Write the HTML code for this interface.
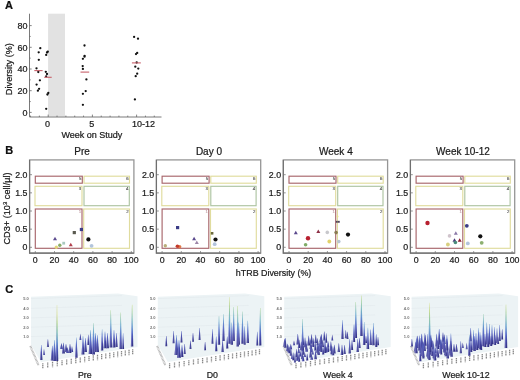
<!DOCTYPE html>
<html><head><meta charset="utf-8"><style>
html,body{margin:0;padding:0;background:#fff;width:520px;height:380px;overflow:hidden}
svg{will-change:transform}
text{font-family:"Liberation Sans", sans-serif}
</style></head><body><svg width="520" height="380" viewBox="0 0 520 380" style="display:block"><defs><linearGradient id="g1" gradientUnits="userSpaceOnUse" x1="0" y1="360.00" x2="0" y2="345.00"><stop offset="0.00" stop-color="#323282"/><stop offset="0.17" stop-color="#37388e"/><stop offset="0.33" stop-color="#3c3f9b"/><stop offset="0.50" stop-color="#4146a7"/><stop offset="0.67" stop-color="#4754b3"/><stop offset="0.83" stop-color="#4e62bf"/><stop offset="1.00" stop-color="#5472c8"/></linearGradient><linearGradient id="g2" gradientUnits="userSpaceOnUse" x1="0" y1="346.90" x2="0" y2="339.20"><stop offset="0.00" stop-color="#323282"/><stop offset="0.17" stop-color="#353588"/><stop offset="0.33" stop-color="#37388f"/><stop offset="0.50" stop-color="#3a3c95"/><stop offset="0.67" stop-color="#3c3f9b"/><stop offset="0.83" stop-color="#3f42a2"/><stop offset="1.00" stop-color="#4147a8"/></linearGradient><linearGradient id="g3" gradientUnits="userSpaceOnUse" x1="0" y1="360.50" x2="0" y2="345.70"><stop offset="0.00" stop-color="#323282"/><stop offset="0.17" stop-color="#37388e"/><stop offset="0.33" stop-color="#3c3e9a"/><stop offset="0.50" stop-color="#4146a6"/><stop offset="0.67" stop-color="#4753b2"/><stop offset="0.83" stop-color="#4d61bf"/><stop offset="1.00" stop-color="#5370c8"/></linearGradient><linearGradient id="g4" gradientUnits="userSpaceOnUse" x1="0" y1="361.00" x2="0" y2="340.00"><stop offset="0.00" stop-color="#323282"/><stop offset="0.17" stop-color="#393b93"/><stop offset="0.33" stop-color="#4044a4"/><stop offset="0.50" stop-color="#4957b6"/><stop offset="0.67" stop-color="#516bc7"/><stop offset="0.83" stop-color="#5a84ca"/><stop offset="1.00" stop-color="#629ecc"/></linearGradient><linearGradient id="g5" gradientUnits="userSpaceOnUse" x1="0" y1="361.00" x2="0" y2="305.00"><stop offset="0.00" stop-color="#323282"/><stop offset="0.17" stop-color="#4650b0"/><stop offset="0.33" stop-color="#5d8dca"/><stop offset="0.50" stop-color="#7bbeb4"/><stop offset="0.67" stop-color="#a8d27b"/><stop offset="0.83" stop-color="#d8e07e"/><stop offset="1.00" stop-color="#dce182"/></linearGradient><linearGradient id="g6" gradientUnits="userSpaceOnUse" x1="0" y1="353.40" x2="0" y2="342.80"><stop offset="0.00" stop-color="#323282"/><stop offset="0.17" stop-color="#35368b"/><stop offset="0.33" stop-color="#393b93"/><stop offset="0.50" stop-color="#3c3f9c"/><stop offset="0.67" stop-color="#4044a5"/><stop offset="0.83" stop-color="#444ead"/><stop offset="1.00" stop-color="#4958b6"/></linearGradient><linearGradient id="g7" gradientUnits="userSpaceOnUse" x1="0" y1="352.00" x2="0" y2="344.00"><stop offset="0.00" stop-color="#323282"/><stop offset="0.17" stop-color="#353589"/><stop offset="0.33" stop-color="#37398f"/><stop offset="0.50" stop-color="#3a3c96"/><stop offset="0.67" stop-color="#3c3f9c"/><stop offset="0.83" stop-color="#3f43a3"/><stop offset="1.00" stop-color="#4249a9"/></linearGradient><linearGradient id="g8" gradientUnits="userSpaceOnUse" x1="0" y1="353.00" x2="0" y2="344.00"><stop offset="0.00" stop-color="#323282"/><stop offset="0.17" stop-color="#353689"/><stop offset="0.33" stop-color="#383a91"/><stop offset="0.50" stop-color="#3b3d98"/><stop offset="0.67" stop-color="#3e419f"/><stop offset="0.83" stop-color="#4146a7"/><stop offset="1.00" stop-color="#454fae"/></linearGradient><linearGradient id="g9" gradientUnits="userSpaceOnUse" x1="0" y1="357.80" x2="0" y2="337.40"><stop offset="0.00" stop-color="#323282"/><stop offset="0.17" stop-color="#393b93"/><stop offset="0.33" stop-color="#3f43a3"/><stop offset="0.50" stop-color="#4855b4"/><stop offset="0.67" stop-color="#5068c5"/><stop offset="0.83" stop-color="#5980c9"/><stop offset="1.00" stop-color="#6199cb"/></linearGradient><linearGradient id="g10" gradientUnits="userSpaceOnUse" x1="0" y1="354.50" x2="0" y2="336.00"><stop offset="0.00" stop-color="#323282"/><stop offset="0.17" stop-color="#383a91"/><stop offset="0.33" stop-color="#3e42a0"/><stop offset="0.50" stop-color="#4550af"/><stop offset="0.67" stop-color="#4d61bf"/><stop offset="0.83" stop-color="#5575c9"/><stop offset="1.00" stop-color="#5c8bca"/></linearGradient><linearGradient id="g11" gradientUnits="userSpaceOnUse" x1="0" y1="352.00" x2="0" y2="338.00"><stop offset="0.00" stop-color="#323282"/><stop offset="0.17" stop-color="#37388d"/><stop offset="0.33" stop-color="#3b3e99"/><stop offset="0.50" stop-color="#4044a4"/><stop offset="0.67" stop-color="#4650b0"/><stop offset="0.83" stop-color="#4b5dbb"/><stop offset="1.00" stop-color="#516bc7"/></linearGradient><linearGradient id="g12" gradientUnits="userSpaceOnUse" x1="0" y1="345.00" x2="0" y2="334.70"><stop offset="0.00" stop-color="#323282"/><stop offset="0.17" stop-color="#35368a"/><stop offset="0.33" stop-color="#393b93"/><stop offset="0.50" stop-color="#3c3f9b"/><stop offset="0.67" stop-color="#3f43a4"/><stop offset="0.83" stop-color="#444cac"/><stop offset="1.00" stop-color="#4856b5"/></linearGradient><linearGradient id="g13" gradientUnits="userSpaceOnUse" x1="0" y1="354.00" x2="0" y2="330.00"><stop offset="0.00" stop-color="#323282"/><stop offset="0.17" stop-color="#3a3c96"/><stop offset="0.33" stop-color="#4249a9"/><stop offset="0.50" stop-color="#4c5fbd"/><stop offset="0.67" stop-color="#5679c9"/><stop offset="0.83" stop-color="#6096cb"/><stop offset="1.00" stop-color="#6ab3cc"/></linearGradient><linearGradient id="g14" gradientUnits="userSpaceOnUse" x1="0" y1="354.50" x2="0" y2="322.90"><stop offset="0.00" stop-color="#323282"/><stop offset="0.17" stop-color="#3c3f9c"/><stop offset="0.33" stop-color="#4957b6"/><stop offset="0.50" stop-color="#5677c9"/><stop offset="0.67" stop-color="#639ecc"/><stop offset="0.83" stop-color="#74b9be"/><stop offset="1.00" stop-color="#8ac8a0"/></linearGradient><linearGradient id="g15" gradientUnits="userSpaceOnUse" x1="0" y1="352.00" x2="0" y2="333.00"><stop offset="0.00" stop-color="#323282"/><stop offset="0.17" stop-color="#383a92"/><stop offset="0.33" stop-color="#3e42a1"/><stop offset="0.50" stop-color="#4651b1"/><stop offset="0.67" stop-color="#4e63c0"/><stop offset="0.83" stop-color="#5678c9"/><stop offset="1.00" stop-color="#5e8fca"/></linearGradient><linearGradient id="g16" gradientUnits="userSpaceOnUse" x1="0" y1="352.00" x2="0" y2="335.00"><stop offset="0.00" stop-color="#323282"/><stop offset="0.17" stop-color="#383990"/><stop offset="0.33" stop-color="#3d409e"/><stop offset="0.50" stop-color="#434cac"/><stop offset="0.67" stop-color="#4b5cba"/><stop offset="0.83" stop-color="#526cc8"/><stop offset="1.00" stop-color="#5980c9"/></linearGradient><linearGradient id="g17" gradientUnits="userSpaceOnUse" x1="0" y1="350.50" x2="0" y2="329.20"><stop offset="0.00" stop-color="#323282"/><stop offset="0.17" stop-color="#393b93"/><stop offset="0.33" stop-color="#4044a5"/><stop offset="0.50" stop-color="#4958b6"/><stop offset="0.67" stop-color="#526cc8"/><stop offset="0.83" stop-color="#5a86ca"/><stop offset="1.00" stop-color="#63a0cc"/></linearGradient><linearGradient id="g18" gradientUnits="userSpaceOnUse" x1="0" y1="348.20" x2="0" y2="331.60"><stop offset="0.00" stop-color="#323282"/><stop offset="0.17" stop-color="#373990"/><stop offset="0.33" stop-color="#3d409d"/><stop offset="0.50" stop-color="#434bab"/><stop offset="0.67" stop-color="#4a5ab8"/><stop offset="0.83" stop-color="#516ac6"/><stop offset="1.00" stop-color="#587dc9"/></linearGradient><linearGradient id="g19" gradientUnits="userSpaceOnUse" x1="0" y1="348.20" x2="0" y2="333.00"><stop offset="0.00" stop-color="#323282"/><stop offset="0.17" stop-color="#37388e"/><stop offset="0.33" stop-color="#3c3f9b"/><stop offset="0.50" stop-color="#4147a7"/><stop offset="0.67" stop-color="#4855b4"/><stop offset="0.83" stop-color="#4e63c0"/><stop offset="1.00" stop-color="#5473c8"/></linearGradient><linearGradient id="g20" gradientUnits="userSpaceOnUse" x1="0" y1="347.40" x2="0" y2="310.30"><stop offset="0.00" stop-color="#323282"/><stop offset="0.17" stop-color="#3e42a0"/><stop offset="0.33" stop-color="#4d61bf"/><stop offset="0.50" stop-color="#5c8cca"/><stop offset="0.67" stop-color="#6db5c7"/><stop offset="0.83" stop-color="#87c6a4"/><stop offset="1.00" stop-color="#a7d27d"/></linearGradient><linearGradient id="g21" gradientUnits="userSpaceOnUse" x1="0" y1="347.40" x2="0" y2="330.00"><stop offset="0.00" stop-color="#323282"/><stop offset="0.17" stop-color="#383990"/><stop offset="0.33" stop-color="#3d419e"/><stop offset="0.50" stop-color="#444dad"/><stop offset="0.67" stop-color="#4b5dbb"/><stop offset="0.83" stop-color="#536ec8"/><stop offset="1.00" stop-color="#5a83ca"/></linearGradient><linearGradient id="g22" gradientUnits="userSpaceOnUse" x1="0" y1="347.00" x2="0" y2="333.00"><stop offset="0.00" stop-color="#323282"/><stop offset="0.17" stop-color="#37388d"/><stop offset="0.33" stop-color="#3b3e99"/><stop offset="0.50" stop-color="#4044a4"/><stop offset="0.67" stop-color="#4650b0"/><stop offset="0.83" stop-color="#4b5dbb"/><stop offset="1.00" stop-color="#516bc7"/></linearGradient><linearGradient id="g23" gradientUnits="userSpaceOnUse" x1="0" y1="349.00" x2="0" y2="312.60"><stop offset="0.00" stop-color="#323282"/><stop offset="0.17" stop-color="#3e41a0"/><stop offset="0.33" stop-color="#4d60be"/><stop offset="0.50" stop-color="#5c89ca"/><stop offset="0.67" stop-color="#6bb3ca"/><stop offset="0.83" stop-color="#85c5a7"/><stop offset="1.00" stop-color="#a3d181"/></linearGradient><linearGradient id="g24" gradientUnits="userSpaceOnUse" x1="0" y1="349.00" x2="0" y2="333.20"><stop offset="0.00" stop-color="#323282"/><stop offset="0.17" stop-color="#37398f"/><stop offset="0.33" stop-color="#3c3f9c"/><stop offset="0.50" stop-color="#4248a9"/><stop offset="0.67" stop-color="#4957b6"/><stop offset="0.83" stop-color="#4f66c3"/><stop offset="1.00" stop-color="#5677c9"/></linearGradient><linearGradient id="g25" gradientUnits="userSpaceOnUse" x1="0" y1="346.60" x2="0" y2="304.70"><stop offset="0.00" stop-color="#323282"/><stop offset="0.17" stop-color="#4044a4"/><stop offset="0.33" stop-color="#516ac7"/><stop offset="0.50" stop-color="#629dcc"/><stop offset="0.67" stop-color="#7bbeb5"/><stop offset="0.83" stop-color="#9acf8b"/><stop offset="1.00" stop-color="#c1d969"/></linearGradient><linearGradient id="g26" gradientUnits="userSpaceOnUse" x1="0" y1="346.20" x2="0" y2="336.00"><stop offset="0.00" stop-color="#323282"/><stop offset="0.17" stop-color="#35368a"/><stop offset="0.33" stop-color="#393b93"/><stop offset="0.50" stop-color="#3c3f9b"/><stop offset="0.67" stop-color="#3f43a3"/><stop offset="0.83" stop-color="#434cac"/><stop offset="1.00" stop-color="#4855b4"/></linearGradient><linearGradient id="g27" gradientUnits="userSpaceOnUse" x1="0" y1="343.30" x2="0" y2="331.00"><stop offset="0.00" stop-color="#323282"/><stop offset="0.17" stop-color="#36378c"/><stop offset="0.33" stop-color="#3a3c96"/><stop offset="0.50" stop-color="#3e42a0"/><stop offset="0.67" stop-color="#434aaa"/><stop offset="0.83" stop-color="#4856b4"/><stop offset="1.00" stop-color="#4d61be"/></linearGradient><linearGradient id="g28" gradientUnits="userSpaceOnUse" x1="0" y1="355.00" x2="0" y2="335.00"><stop offset="0.00" stop-color="#323282"/><stop offset="0.17" stop-color="#393a92"/><stop offset="0.33" stop-color="#3f43a3"/><stop offset="0.50" stop-color="#4754b3"/><stop offset="0.67" stop-color="#5067c3"/><stop offset="0.83" stop-color="#587ec9"/><stop offset="1.00" stop-color="#6096cb"/></linearGradient><linearGradient id="g29" gradientUnits="userSpaceOnUse" x1="0" y1="357.80" x2="0" y2="340.00"><stop offset="0.00" stop-color="#323282"/><stop offset="0.17" stop-color="#383991"/><stop offset="0.33" stop-color="#3e419f"/><stop offset="0.50" stop-color="#444eae"/><stop offset="0.67" stop-color="#4c5fbc"/><stop offset="0.83" stop-color="#5370c8"/><stop offset="1.00" stop-color="#5b86ca"/></linearGradient><linearGradient id="g30" gradientUnits="userSpaceOnUse" x1="0" y1="342.50" x2="0" y2="331.00"><stop offset="0.00" stop-color="#323282"/><stop offset="0.17" stop-color="#36378b"/><stop offset="0.33" stop-color="#3a3c95"/><stop offset="0.50" stop-color="#3d419e"/><stop offset="0.67" stop-color="#4147a8"/><stop offset="0.83" stop-color="#4652b1"/><stop offset="1.00" stop-color="#4b5dba"/></linearGradient><linearGradient id="g31" gradientUnits="userSpaceOnUse" x1="0" y1="357.00" x2="0" y2="345.00"><stop offset="0.00" stop-color="#323282"/><stop offset="0.17" stop-color="#36378c"/><stop offset="0.33" stop-color="#3a3c96"/><stop offset="0.50" stop-color="#3e419f"/><stop offset="0.67" stop-color="#4249a9"/><stop offset="0.83" stop-color="#4754b3"/><stop offset="1.00" stop-color="#4c5fbd"/></linearGradient><linearGradient id="g32" gradientUnits="userSpaceOnUse" x1="0" y1="354.00" x2="0" y2="344.00"><stop offset="0.00" stop-color="#323282"/><stop offset="0.17" stop-color="#35368a"/><stop offset="0.33" stop-color="#393a92"/><stop offset="0.50" stop-color="#3c3f9b"/><stop offset="0.67" stop-color="#3f43a3"/><stop offset="0.83" stop-color="#434bab"/><stop offset="1.00" stop-color="#4754b3"/></linearGradient><linearGradient id="g33" gradientUnits="userSpaceOnUse" x1="0" y1="349.00" x2="0" y2="340.40"><stop offset="0.00" stop-color="#323282"/><stop offset="0.17" stop-color="#353689"/><stop offset="0.33" stop-color="#383990"/><stop offset="0.50" stop-color="#3a3d97"/><stop offset="0.67" stop-color="#3d409e"/><stop offset="0.83" stop-color="#4044a5"/><stop offset="1.00" stop-color="#444cac"/></linearGradient><linearGradient id="g34" gradientUnits="userSpaceOnUse" x1="0" y1="341.80" x2="0" y2="333.10"><stop offset="0.00" stop-color="#323282"/><stop offset="0.17" stop-color="#353689"/><stop offset="0.33" stop-color="#383990"/><stop offset="0.50" stop-color="#3b3d97"/><stop offset="0.67" stop-color="#3d419e"/><stop offset="0.83" stop-color="#4045a6"/><stop offset="1.00" stop-color="#444dad"/></linearGradient><linearGradient id="g35" gradientUnits="userSpaceOnUse" x1="0" y1="340.00" x2="0" y2="328.10"><stop offset="0.00" stop-color="#323282"/><stop offset="0.17" stop-color="#36378c"/><stop offset="0.33" stop-color="#3a3c95"/><stop offset="0.50" stop-color="#3e419f"/><stop offset="0.67" stop-color="#4249a9"/><stop offset="0.83" stop-color="#4754b3"/><stop offset="1.00" stop-color="#4c5fbc"/></linearGradient><linearGradient id="g36" gradientUnits="userSpaceOnUse" x1="0" y1="350.20" x2="0" y2="342.00"><stop offset="0.00" stop-color="#323282"/><stop offset="0.17" stop-color="#353589"/><stop offset="0.33" stop-color="#37398f"/><stop offset="0.50" stop-color="#3a3c96"/><stop offset="0.67" stop-color="#3d409d"/><stop offset="0.83" stop-color="#3f43a4"/><stop offset="1.00" stop-color="#434aaa"/></linearGradient><linearGradient id="g37" gradientUnits="userSpaceOnUse" x1="0" y1="343.80" x2="0" y2="329.00"><stop offset="0.00" stop-color="#323282"/><stop offset="0.17" stop-color="#37388e"/><stop offset="0.33" stop-color="#3c3e9a"/><stop offset="0.50" stop-color="#4146a6"/><stop offset="0.67" stop-color="#4753b2"/><stop offset="0.83" stop-color="#4d61bf"/><stop offset="1.00" stop-color="#5370c8"/></linearGradient><linearGradient id="g38" gradientUnits="userSpaceOnUse" x1="0" y1="351.20" x2="0" y2="336.40"><stop offset="0.00" stop-color="#323282"/><stop offset="0.17" stop-color="#37388e"/><stop offset="0.33" stop-color="#3c3e9a"/><stop offset="0.50" stop-color="#4146a6"/><stop offset="0.67" stop-color="#4753b2"/><stop offset="0.83" stop-color="#4d61bf"/><stop offset="1.00" stop-color="#5370c8"/></linearGradient><linearGradient id="g39" gradientUnits="userSpaceOnUse" x1="0" y1="344.70" x2="0" y2="316.00"><stop offset="0.00" stop-color="#323282"/><stop offset="0.17" stop-color="#3b3e99"/><stop offset="0.33" stop-color="#4652b1"/><stop offset="0.50" stop-color="#526dc8"/><stop offset="0.67" stop-color="#5e90cb"/><stop offset="0.83" stop-color="#6ab2cc"/><stop offset="1.00" stop-color="#7ec0b0"/></linearGradient><linearGradient id="g40" gradientUnits="userSpaceOnUse" x1="0" y1="352.00" x2="0" y2="340.00"><stop offset="0.00" stop-color="#323282"/><stop offset="0.17" stop-color="#36378c"/><stop offset="0.33" stop-color="#3a3c96"/><stop offset="0.50" stop-color="#3e419f"/><stop offset="0.67" stop-color="#4249a9"/><stop offset="0.83" stop-color="#4754b3"/><stop offset="1.00" stop-color="#4c5fbd"/></linearGradient><linearGradient id="g41" gradientUnits="userSpaceOnUse" x1="0" y1="341.00" x2="0" y2="314.00"><stop offset="0.00" stop-color="#323282"/><stop offset="0.17" stop-color="#3b3d98"/><stop offset="0.33" stop-color="#454fae"/><stop offset="0.50" stop-color="#5068c4"/><stop offset="0.67" stop-color="#5b88ca"/><stop offset="0.83" stop-color="#66a9cc"/><stop offset="1.00" stop-color="#77bbba"/></linearGradient><linearGradient id="g42" gradientUnits="userSpaceOnUse" x1="0" y1="348.40" x2="0" y2="336.40"><stop offset="0.00" stop-color="#323282"/><stop offset="0.17" stop-color="#36378c"/><stop offset="0.33" stop-color="#3a3c96"/><stop offset="0.50" stop-color="#3e419f"/><stop offset="0.67" stop-color="#4249a9"/><stop offset="0.83" stop-color="#4754b3"/><stop offset="1.00" stop-color="#4c5fbd"/></linearGradient><linearGradient id="g43" gradientUnits="userSpaceOnUse" x1="0" y1="343.80" x2="0" y2="297.00"><stop offset="0.00" stop-color="#323282"/><stop offset="0.17" stop-color="#4248a8"/><stop offset="0.33" stop-color="#5576c9"/><stop offset="0.50" stop-color="#68afcd"/><stop offset="0.67" stop-color="#88c7a2"/><stop offset="0.83" stop-color="#b2d570"/><stop offset="1.00" stop-color="#d9e07f"/></linearGradient><linearGradient id="g44" gradientUnits="userSpaceOnUse" x1="0" y1="344.70" x2="0" y2="322.60"><stop offset="0.00" stop-color="#323282"/><stop offset="0.17" stop-color="#393b94"/><stop offset="0.33" stop-color="#4145a6"/><stop offset="0.50" stop-color="#4a5ab8"/><stop offset="0.67" stop-color="#5370c8"/><stop offset="0.83" stop-color="#5c8bca"/><stop offset="1.00" stop-color="#65a6cc"/></linearGradient><linearGradient id="g45" gradientUnits="userSpaceOnUse" x1="0" y1="341.00" x2="0" y2="307.00"><stop offset="0.00" stop-color="#323282"/><stop offset="0.17" stop-color="#3d409e"/><stop offset="0.33" stop-color="#4b5cba"/><stop offset="0.50" stop-color="#5980c9"/><stop offset="0.67" stop-color="#66aacc"/><stop offset="0.83" stop-color="#7cbfb2"/><stop offset="1.00" stop-color="#95ce91"/></linearGradient><linearGradient id="g46" gradientUnits="userSpaceOnUse" x1="0" y1="346.60" x2="0" y2="306.00"><stop offset="0.00" stop-color="#323282"/><stop offset="0.17" stop-color="#3f43a3"/><stop offset="0.33" stop-color="#5068c4"/><stop offset="0.50" stop-color="#6199cb"/><stop offset="0.67" stop-color="#77bbba"/><stop offset="0.83" stop-color="#94ce92"/><stop offset="1.00" stop-color="#bbd766"/></linearGradient><linearGradient id="g47" gradientUnits="userSpaceOnUse" x1="0" y1="344.70" x2="0" y2="322.60"><stop offset="0.00" stop-color="#323282"/><stop offset="0.17" stop-color="#393b94"/><stop offset="0.33" stop-color="#4145a6"/><stop offset="0.50" stop-color="#4a5ab8"/><stop offset="0.67" stop-color="#5370c8"/><stop offset="0.83" stop-color="#5c8bca"/><stop offset="1.00" stop-color="#65a6cc"/></linearGradient><linearGradient id="g48" gradientUnits="userSpaceOnUse" x1="0" y1="343.80" x2="0" y2="311.60"><stop offset="0.00" stop-color="#323282"/><stop offset="0.17" stop-color="#3d409c"/><stop offset="0.33" stop-color="#4958b7"/><stop offset="0.50" stop-color="#567ac9"/><stop offset="0.67" stop-color="#63a1cc"/><stop offset="0.83" stop-color="#76bbbb"/><stop offset="1.00" stop-color="#8dca9c"/></linearGradient><linearGradient id="g49" gradientUnits="userSpaceOnUse" x1="0" y1="344.70" x2="0" y2="326.30"><stop offset="0.00" stop-color="#323282"/><stop offset="0.17" stop-color="#383a91"/><stop offset="0.33" stop-color="#3e41a0"/><stop offset="0.50" stop-color="#4550af"/><stop offset="0.67" stop-color="#4d61be"/><stop offset="0.83" stop-color="#5574c9"/><stop offset="1.00" stop-color="#5c8bca"/></linearGradient><linearGradient id="g50" gradientUnits="userSpaceOnUse" x1="0" y1="342.90" x2="0" y2="320.80"><stop offset="0.00" stop-color="#323282"/><stop offset="0.17" stop-color="#393b94"/><stop offset="0.33" stop-color="#4145a6"/><stop offset="0.50" stop-color="#4a5ab8"/><stop offset="0.67" stop-color="#5370c8"/><stop offset="0.83" stop-color="#5c8bca"/><stop offset="1.00" stop-color="#65a6cc"/></linearGradient><linearGradient id="g51" gradientUnits="userSpaceOnUse" x1="0" y1="345.60" x2="0" y2="331.80"><stop offset="0.00" stop-color="#323282"/><stop offset="0.17" stop-color="#37388d"/><stop offset="0.33" stop-color="#3b3e99"/><stop offset="0.50" stop-color="#4043a4"/><stop offset="0.67" stop-color="#4550af"/><stop offset="0.83" stop-color="#4b5dba"/><stop offset="1.00" stop-color="#5169c6"/></linearGradient><linearGradient id="g52" gradientUnits="userSpaceOnUse" x1="0" y1="345.60" x2="0" y2="308.00"><stop offset="0.00" stop-color="#323282"/><stop offset="0.17" stop-color="#3e42a1"/><stop offset="0.33" stop-color="#4e62c0"/><stop offset="0.50" stop-color="#5d8eca"/><stop offset="0.67" stop-color="#6fb6c5"/><stop offset="0.83" stop-color="#89c8a1"/><stop offset="1.00" stop-color="#aad379"/></linearGradient><linearGradient id="g53" gradientUnits="userSpaceOnUse" x1="0" y1="346.50" x2="0" y2="338.73"><stop offset="0.00" stop-color="#323282"/><stop offset="0.17" stop-color="#353588"/><stop offset="0.33" stop-color="#37398f"/><stop offset="0.50" stop-color="#3a3c95"/><stop offset="0.67" stop-color="#3c3f9b"/><stop offset="0.83" stop-color="#3f42a2"/><stop offset="1.00" stop-color="#4248a8"/></linearGradient><linearGradient id="g54" gradientUnits="userSpaceOnUse" x1="0" y1="344.50" x2="0" y2="334.03"><stop offset="0.00" stop-color="#323282"/><stop offset="0.17" stop-color="#35368b"/><stop offset="0.33" stop-color="#393b93"/><stop offset="0.50" stop-color="#3c3f9c"/><stop offset="0.67" stop-color="#4044a4"/><stop offset="0.83" stop-color="#444dad"/><stop offset="1.00" stop-color="#4857b5"/></linearGradient><linearGradient id="g55" gradientUnits="userSpaceOnUse" x1="0" y1="342.50" x2="0" y2="334.19"><stop offset="0.00" stop-color="#323282"/><stop offset="0.17" stop-color="#353589"/><stop offset="0.33" stop-color="#373990"/><stop offset="0.50" stop-color="#3a3c96"/><stop offset="0.67" stop-color="#3d409d"/><stop offset="0.83" stop-color="#4043a4"/><stop offset="1.00" stop-color="#434bab"/></linearGradient><linearGradient id="g56" gradientUnits="userSpaceOnUse" x1="0" y1="340.50" x2="0" y2="331.45"><stop offset="0.00" stop-color="#323282"/><stop offset="0.17" stop-color="#353689"/><stop offset="0.33" stop-color="#383a91"/><stop offset="0.50" stop-color="#3b3d98"/><stop offset="0.67" stop-color="#3e41a0"/><stop offset="0.83" stop-color="#4146a7"/><stop offset="1.00" stop-color="#454fae"/></linearGradient><linearGradient id="g57" gradientUnits="userSpaceOnUse" x1="0" y1="347.64" x2="0" y2="337.95"><stop offset="0.00" stop-color="#323282"/><stop offset="0.17" stop-color="#35368a"/><stop offset="0.33" stop-color="#383a92"/><stop offset="0.50" stop-color="#3c3e9a"/><stop offset="0.67" stop-color="#3f42a2"/><stop offset="0.83" stop-color="#4249aa"/><stop offset="1.00" stop-color="#4652b2"/></linearGradient><linearGradient id="g58" gradientUnits="userSpaceOnUse" x1="0" y1="344.98" x2="0" y2="335.67"><stop offset="0.00" stop-color="#323282"/><stop offset="0.17" stop-color="#35368a"/><stop offset="0.33" stop-color="#383a91"/><stop offset="0.50" stop-color="#3b3e99"/><stop offset="0.67" stop-color="#3e42a0"/><stop offset="0.83" stop-color="#4248a8"/><stop offset="1.00" stop-color="#4650b0"/></linearGradient><linearGradient id="g59" gradientUnits="userSpaceOnUse" x1="0" y1="342.98" x2="0" y2="334.72"><stop offset="0.00" stop-color="#323282"/><stop offset="0.17" stop-color="#353589"/><stop offset="0.33" stop-color="#373990"/><stop offset="0.50" stop-color="#3a3c96"/><stop offset="0.67" stop-color="#3d409d"/><stop offset="0.83" stop-color="#4043a4"/><stop offset="1.00" stop-color="#434aab"/></linearGradient><linearGradient id="g60" gradientUnits="userSpaceOnUse" x1="0" y1="345.45" x2="0" y2="335.79"><stop offset="0.00" stop-color="#323282"/><stop offset="0.17" stop-color="#35368a"/><stop offset="0.33" stop-color="#383a92"/><stop offset="0.50" stop-color="#3b3e9a"/><stop offset="0.67" stop-color="#3f42a2"/><stop offset="0.83" stop-color="#4249aa"/><stop offset="1.00" stop-color="#4652b1"/></linearGradient><linearGradient id="g61" gradientUnits="userSpaceOnUse" x1="0" y1="343.45" x2="0" y2="333.96"><stop offset="0.00" stop-color="#323282"/><stop offset="0.17" stop-color="#35368a"/><stop offset="0.33" stop-color="#383a92"/><stop offset="0.50" stop-color="#3b3e99"/><stop offset="0.67" stop-color="#3e42a1"/><stop offset="0.83" stop-color="#4248a9"/><stop offset="1.00" stop-color="#4651b1"/></linearGradient><linearGradient id="g62" gradientUnits="userSpaceOnUse" x1="0" y1="342.79" x2="0" y2="333.16"><stop offset="0.00" stop-color="#323282"/><stop offset="0.17" stop-color="#35368a"/><stop offset="0.33" stop-color="#383a92"/><stop offset="0.50" stop-color="#3b3e9a"/><stop offset="0.67" stop-color="#3f42a2"/><stop offset="0.83" stop-color="#4249a9"/><stop offset="1.00" stop-color="#4652b1"/></linearGradient><linearGradient id="g63" gradientUnits="userSpaceOnUse" x1="0" y1="347.93" x2="0" y2="339.74"><stop offset="0.00" stop-color="#323282"/><stop offset="0.17" stop-color="#353589"/><stop offset="0.33" stop-color="#37398f"/><stop offset="0.50" stop-color="#3a3c96"/><stop offset="0.67" stop-color="#3d409d"/><stop offset="0.83" stop-color="#3f43a4"/><stop offset="1.00" stop-color="#434aaa"/></linearGradient><linearGradient id="g64" gradientUnits="userSpaceOnUse" x1="0" y1="347.26" x2="0" y2="337.48"><stop offset="0.00" stop-color="#323282"/><stop offset="0.17" stop-color="#35368a"/><stop offset="0.33" stop-color="#383a92"/><stop offset="0.50" stop-color="#3c3e9a"/><stop offset="0.67" stop-color="#3f42a2"/><stop offset="0.83" stop-color="#434aaa"/><stop offset="1.00" stop-color="#4753b2"/></linearGradient><linearGradient id="g65" gradientUnits="userSpaceOnUse" x1="0" y1="345.26" x2="0" y2="338.31"><stop offset="0.00" stop-color="#323282"/><stop offset="0.17" stop-color="#343588"/><stop offset="0.33" stop-color="#37388d"/><stop offset="0.50" stop-color="#393b93"/><stop offset="0.67" stop-color="#3b3e99"/><stop offset="0.83" stop-color="#3d419e"/><stop offset="1.00" stop-color="#4044a4"/></linearGradient><linearGradient id="g66" gradientUnits="userSpaceOnUse" x1="0" y1="344.60" x2="0" y2="334.89"><stop offset="0.00" stop-color="#323282"/><stop offset="0.17" stop-color="#35368a"/><stop offset="0.33" stop-color="#383a92"/><stop offset="0.50" stop-color="#3c3e9a"/><stop offset="0.67" stop-color="#3f42a2"/><stop offset="0.83" stop-color="#4249aa"/><stop offset="1.00" stop-color="#4752b2"/></linearGradient><linearGradient id="g67" gradientUnits="userSpaceOnUse" x1="0" y1="351.07" x2="0" y2="343.81"><stop offset="0.00" stop-color="#323282"/><stop offset="0.17" stop-color="#343588"/><stop offset="0.33" stop-color="#37388e"/><stop offset="0.50" stop-color="#393b94"/><stop offset="0.67" stop-color="#3c3e9a"/><stop offset="0.83" stop-color="#3e41a0"/><stop offset="1.00" stop-color="#4045a6"/></linearGradient><linearGradient id="g68" gradientUnits="userSpaceOnUse" x1="0" y1="347.07" x2="0" y2="338.25"><stop offset="0.00" stop-color="#323282"/><stop offset="0.17" stop-color="#353689"/><stop offset="0.33" stop-color="#383990"/><stop offset="0.50" stop-color="#3b3d98"/><stop offset="0.67" stop-color="#3e419f"/><stop offset="0.83" stop-color="#4145a6"/><stop offset="1.00" stop-color="#444ead"/></linearGradient><linearGradient id="g69" gradientUnits="userSpaceOnUse" x1="0" y1="352.21" x2="0" y2="345.22"><stop offset="0.00" stop-color="#323282"/><stop offset="0.17" stop-color="#343588"/><stop offset="0.33" stop-color="#37388d"/><stop offset="0.50" stop-color="#393b93"/><stop offset="0.67" stop-color="#3b3e99"/><stop offset="0.83" stop-color="#3d419f"/><stop offset="1.00" stop-color="#4044a4"/></linearGradient><linearGradient id="g70" gradientUnits="userSpaceOnUse" x1="0" y1="350.21" x2="0" y2="341.95"><stop offset="0.00" stop-color="#323282"/><stop offset="0.17" stop-color="#353589"/><stop offset="0.33" stop-color="#373990"/><stop offset="0.50" stop-color="#3a3c96"/><stop offset="0.67" stop-color="#3d409d"/><stop offset="0.83" stop-color="#4043a4"/><stop offset="1.00" stop-color="#434aab"/></linearGradient><linearGradient id="g71" gradientUnits="userSpaceOnUse" x1="0" y1="349.55" x2="0" y2="340.81"><stop offset="0.00" stop-color="#323282"/><stop offset="0.17" stop-color="#353689"/><stop offset="0.33" stop-color="#383990"/><stop offset="0.50" stop-color="#3b3d97"/><stop offset="0.67" stop-color="#3d419f"/><stop offset="0.83" stop-color="#4045a6"/><stop offset="1.00" stop-color="#444dad"/></linearGradient><linearGradient id="g72" gradientUnits="userSpaceOnUse" x1="0" y1="348.88" x2="0" y2="340.32"><stop offset="0.00" stop-color="#323282"/><stop offset="0.17" stop-color="#353689"/><stop offset="0.33" stop-color="#383990"/><stop offset="0.50" stop-color="#3a3d97"/><stop offset="0.67" stop-color="#3d409e"/><stop offset="0.83" stop-color="#4044a5"/><stop offset="1.00" stop-color="#444cac"/></linearGradient><linearGradient id="g73" gradientUnits="userSpaceOnUse" x1="0" y1="346.88" x2="0" y2="340.20"><stop offset="0.00" stop-color="#323282"/><stop offset="0.17" stop-color="#343587"/><stop offset="0.33" stop-color="#36388d"/><stop offset="0.50" stop-color="#393a92"/><stop offset="0.67" stop-color="#3b3d98"/><stop offset="0.83" stop-color="#3d409d"/><stop offset="1.00" stop-color="#3f43a3"/></linearGradient><linearGradient id="g74" gradientUnits="userSpaceOnUse" x1="0" y1="353.36" x2="0" y2="346.59"><stop offset="0.00" stop-color="#323282"/><stop offset="0.17" stop-color="#343588"/><stop offset="0.33" stop-color="#36388d"/><stop offset="0.50" stop-color="#393b93"/><stop offset="0.67" stop-color="#3b3d98"/><stop offset="0.83" stop-color="#3d409e"/><stop offset="1.00" stop-color="#3f43a3"/></linearGradient><linearGradient id="g75" gradientUnits="userSpaceOnUse" x1="0" y1="350.69" x2="0" y2="343.58"><stop offset="0.00" stop-color="#323282"/><stop offset="0.17" stop-color="#343588"/><stop offset="0.33" stop-color="#37388e"/><stop offset="0.50" stop-color="#393b93"/><stop offset="0.67" stop-color="#3b3e99"/><stop offset="0.83" stop-color="#3e419f"/><stop offset="1.00" stop-color="#4044a5"/></linearGradient><linearGradient id="g76" gradientUnits="userSpaceOnUse" x1="0" y1="350.50" x2="0" y2="340.48"><stop offset="0.00" stop-color="#323282"/><stop offset="0.17" stop-color="#35368a"/><stop offset="0.33" stop-color="#393a92"/><stop offset="0.50" stop-color="#3c3f9b"/><stop offset="0.67" stop-color="#3f43a3"/><stop offset="0.83" stop-color="#434bab"/><stop offset="1.00" stop-color="#4754b3"/></linearGradient><linearGradient id="g77" gradientUnits="userSpaceOnUse" x1="0" y1="355.64" x2="0" y2="345.44"><stop offset="0.00" stop-color="#323282"/><stop offset="0.17" stop-color="#35368a"/><stop offset="0.33" stop-color="#393b93"/><stop offset="0.50" stop-color="#3c3f9b"/><stop offset="0.67" stop-color="#3f43a3"/><stop offset="0.83" stop-color="#434cac"/><stop offset="1.00" stop-color="#4855b4"/></linearGradient><linearGradient id="g78" gradientUnits="userSpaceOnUse" x1="0" y1="350.98" x2="0" y2="341.62"><stop offset="0.00" stop-color="#323282"/><stop offset="0.17" stop-color="#35368a"/><stop offset="0.33" stop-color="#383a91"/><stop offset="0.50" stop-color="#3b3e99"/><stop offset="0.67" stop-color="#3e42a1"/><stop offset="0.83" stop-color="#4248a8"/><stop offset="1.00" stop-color="#4651b0"/></linearGradient><linearGradient id="g79" gradientUnits="userSpaceOnUse" x1="0" y1="354.79" x2="0" y2="345.81"><stop offset="0.00" stop-color="#323282"/><stop offset="0.17" stop-color="#353689"/><stop offset="0.33" stop-color="#383a91"/><stop offset="0.50" stop-color="#3b3d98"/><stop offset="0.67" stop-color="#3e419f"/><stop offset="0.83" stop-color="#4146a7"/><stop offset="1.00" stop-color="#454eae"/></linearGradient><linearGradient id="g80" gradientUnits="userSpaceOnUse" x1="0" y1="352.79" x2="0" y2="342.65"><stop offset="0.00" stop-color="#323282"/><stop offset="0.17" stop-color="#35368a"/><stop offset="0.33" stop-color="#393b93"/><stop offset="0.50" stop-color="#3c3f9b"/><stop offset="0.67" stop-color="#3f43a3"/><stop offset="0.83" stop-color="#434bab"/><stop offset="1.00" stop-color="#4855b4"/></linearGradient><linearGradient id="g81" gradientUnits="userSpaceOnUse" x1="0" y1="352.12" x2="0" y2="342.45"><stop offset="0.00" stop-color="#323282"/><stop offset="0.17" stop-color="#35368a"/><stop offset="0.33" stop-color="#383a92"/><stop offset="0.50" stop-color="#3c3e9a"/><stop offset="0.67" stop-color="#3f42a2"/><stop offset="0.83" stop-color="#4249aa"/><stop offset="1.00" stop-color="#4652b2"/></linearGradient><linearGradient id="g82" gradientUnits="userSpaceOnUse" x1="0" y1="350.79" x2="0" y2="341.54"><stop offset="0.00" stop-color="#323282"/><stop offset="0.17" stop-color="#35368a"/><stop offset="0.33" stop-color="#383a91"/><stop offset="0.50" stop-color="#3b3e99"/><stop offset="0.67" stop-color="#3e42a0"/><stop offset="0.83" stop-color="#4147a8"/><stop offset="1.00" stop-color="#4550af"/></linearGradient><linearGradient id="g83" gradientUnits="userSpaceOnUse" x1="0" y1="357.26" x2="0" y2="348.99"><stop offset="0.00" stop-color="#323282"/><stop offset="0.17" stop-color="#353589"/><stop offset="0.33" stop-color="#373990"/><stop offset="0.50" stop-color="#3a3c96"/><stop offset="0.67" stop-color="#3d409d"/><stop offset="0.83" stop-color="#4043a4"/><stop offset="1.00" stop-color="#434aab"/></linearGradient><linearGradient id="g84" gradientUnits="userSpaceOnUse" x1="0" y1="353.93" x2="0" y2="343.58"><stop offset="0.00" stop-color="#323282"/><stop offset="0.17" stop-color="#35368a"/><stop offset="0.33" stop-color="#393b93"/><stop offset="0.50" stop-color="#3c3f9b"/><stop offset="0.67" stop-color="#4043a4"/><stop offset="0.83" stop-color="#444cac"/><stop offset="1.00" stop-color="#4856b5"/></linearGradient><linearGradient id="g85" gradientUnits="userSpaceOnUse" x1="0" y1="355.07" x2="0" y2="345.76"><stop offset="0.00" stop-color="#323282"/><stop offset="0.17" stop-color="#35368a"/><stop offset="0.33" stop-color="#383a91"/><stop offset="0.50" stop-color="#3b3e99"/><stop offset="0.67" stop-color="#3e42a0"/><stop offset="0.83" stop-color="#4248a8"/><stop offset="1.00" stop-color="#4650b0"/></linearGradient><linearGradient id="g86" gradientUnits="userSpaceOnUse" x1="0" y1="354.40" x2="0" y2="346.93"><stop offset="0.00" stop-color="#323282"/><stop offset="0.17" stop-color="#343588"/><stop offset="0.33" stop-color="#37388e"/><stop offset="0.50" stop-color="#393b94"/><stop offset="0.67" stop-color="#3c3f9a"/><stop offset="0.83" stop-color="#3e42a1"/><stop offset="1.00" stop-color="#4146a7"/></linearGradient><linearGradient id="g87" gradientUnits="userSpaceOnUse" x1="0" y1="360.21" x2="0" y2="352.50"><stop offset="0.00" stop-color="#323282"/><stop offset="0.17" stop-color="#353588"/><stop offset="0.33" stop-color="#37388f"/><stop offset="0.50" stop-color="#3a3c95"/><stop offset="0.67" stop-color="#3c3f9b"/><stop offset="0.83" stop-color="#3f42a2"/><stop offset="1.00" stop-color="#4147a8"/></linearGradient><linearGradient id="g88" gradientUnits="userSpaceOnUse" x1="0" y1="359.55" x2="0" y2="352.49"><stop offset="0.00" stop-color="#323282"/><stop offset="0.17" stop-color="#343588"/><stop offset="0.33" stop-color="#37388e"/><stop offset="0.50" stop-color="#393b93"/><stop offset="0.67" stop-color="#3b3e99"/><stop offset="0.83" stop-color="#3e419f"/><stop offset="1.00" stop-color="#4044a5"/></linearGradient><linearGradient id="g89" gradientUnits="userSpaceOnUse" x1="0" y1="358.88" x2="0" y2="348.99"><stop offset="0.00" stop-color="#323282"/><stop offset="0.17" stop-color="#35368a"/><stop offset="0.33" stop-color="#383a92"/><stop offset="0.50" stop-color="#3c3e9a"/><stop offset="0.67" stop-color="#3f43a2"/><stop offset="0.83" stop-color="#434aaa"/><stop offset="1.00" stop-color="#4754b3"/></linearGradient><linearGradient id="g90" gradientUnits="userSpaceOnUse" x1="0" y1="357.55" x2="0" y2="348.17"><stop offset="0.00" stop-color="#323282"/><stop offset="0.17" stop-color="#35368a"/><stop offset="0.33" stop-color="#383a91"/><stop offset="0.50" stop-color="#3b3e99"/><stop offset="0.67" stop-color="#3e42a1"/><stop offset="0.83" stop-color="#4248a8"/><stop offset="1.00" stop-color="#4651b0"/></linearGradient><linearGradient id="g91" gradientUnits="userSpaceOnUse" x1="0" y1="354.21" x2="0" y2="346.19"><stop offset="0.00" stop-color="#323282"/><stop offset="0.17" stop-color="#353589"/><stop offset="0.33" stop-color="#37398f"/><stop offset="0.50" stop-color="#3a3c96"/><stop offset="0.67" stop-color="#3d409c"/><stop offset="0.83" stop-color="#3f43a3"/><stop offset="1.00" stop-color="#4249a9"/></linearGradient><linearGradient id="g92" gradientUnits="userSpaceOnUse" x1="0" y1="355.36" x2="0" y2="346.25"><stop offset="0.00" stop-color="#323282"/><stop offset="0.17" stop-color="#353689"/><stop offset="0.33" stop-color="#383a91"/><stop offset="0.50" stop-color="#3b3e98"/><stop offset="0.67" stop-color="#3e41a0"/><stop offset="0.83" stop-color="#4147a7"/><stop offset="1.00" stop-color="#454faf"/></linearGradient><linearGradient id="g93" gradientUnits="userSpaceOnUse" x1="0" y1="362.50" x2="0" y2="353.51"><stop offset="0.00" stop-color="#323282"/><stop offset="0.17" stop-color="#353689"/><stop offset="0.33" stop-color="#383a91"/><stop offset="0.50" stop-color="#3b3d98"/><stop offset="0.67" stop-color="#3e419f"/><stop offset="0.83" stop-color="#4146a7"/><stop offset="1.00" stop-color="#454eae"/></linearGradient><linearGradient id="g94" gradientUnits="userSpaceOnUse" x1="0" y1="361.83" x2="0" y2="353.95"><stop offset="0.00" stop-color="#323282"/><stop offset="0.17" stop-color="#353588"/><stop offset="0.33" stop-color="#37398f"/><stop offset="0.50" stop-color="#3a3c95"/><stop offset="0.67" stop-color="#3c3f9c"/><stop offset="0.83" stop-color="#3f43a2"/><stop offset="1.00" stop-color="#4248a9"/></linearGradient><linearGradient id="g95" gradientUnits="userSpaceOnUse" x1="0" y1="360.50" x2="0" y2="353.80"><stop offset="0.00" stop-color="#323282"/><stop offset="0.17" stop-color="#343587"/><stop offset="0.33" stop-color="#36388d"/><stop offset="0.50" stop-color="#393a92"/><stop offset="0.67" stop-color="#3b3d98"/><stop offset="0.83" stop-color="#3d409d"/><stop offset="1.00" stop-color="#3f43a3"/></linearGradient><linearGradient id="g96" gradientUnits="userSpaceOnUse" x1="0" y1="359.17" x2="0" y2="350.18"><stop offset="0.00" stop-color="#323282"/><stop offset="0.17" stop-color="#353689"/><stop offset="0.33" stop-color="#383a91"/><stop offset="0.50" stop-color="#3b3d98"/><stop offset="0.67" stop-color="#3e419f"/><stop offset="0.83" stop-color="#4146a7"/><stop offset="1.00" stop-color="#454eae"/></linearGradient><linearGradient id="g97" gradientUnits="userSpaceOnUse" x1="0" y1="350.00" x2="0" y2="319.00"><stop offset="0.00" stop-color="#323282"/><stop offset="0.17" stop-color="#3c3f9b"/><stop offset="0.33" stop-color="#4856b5"/><stop offset="0.50" stop-color="#5575c9"/><stop offset="0.67" stop-color="#629bcb"/><stop offset="0.83" stop-color="#72b8c1"/><stop offset="1.00" stop-color="#88c7a3"/></linearGradient><linearGradient id="g98" gradientUnits="userSpaceOnUse" x1="0" y1="353.50" x2="0" y2="344.80"><stop offset="0.00" stop-color="#323282"/><stop offset="0.17" stop-color="#353689"/><stop offset="0.33" stop-color="#383990"/><stop offset="0.50" stop-color="#3b3d97"/><stop offset="0.67" stop-color="#3d419e"/><stop offset="0.83" stop-color="#4045a6"/><stop offset="1.00" stop-color="#444dad"/></linearGradient><linearGradient id="g99" gradientUnits="userSpaceOnUse" x1="0" y1="352.00" x2="0" y2="343.30"><stop offset="0.00" stop-color="#323282"/><stop offset="0.17" stop-color="#353689"/><stop offset="0.33" stop-color="#383990"/><stop offset="0.50" stop-color="#3b3d97"/><stop offset="0.67" stop-color="#3d419e"/><stop offset="0.83" stop-color="#4045a6"/><stop offset="1.00" stop-color="#444dad"/></linearGradient><linearGradient id="g100" gradientUnits="userSpaceOnUse" x1="0" y1="339.00" x2="0" y2="320.00"><stop offset="0.00" stop-color="#323282"/><stop offset="0.17" stop-color="#383a92"/><stop offset="0.33" stop-color="#3e42a1"/><stop offset="0.50" stop-color="#4651b1"/><stop offset="0.67" stop-color="#4e63c0"/><stop offset="0.83" stop-color="#5678c9"/><stop offset="1.00" stop-color="#5e8fca"/></linearGradient><linearGradient id="g101" gradientUnits="userSpaceOnUse" x1="0" y1="355.00" x2="0" y2="344.80"><stop offset="0.00" stop-color="#323282"/><stop offset="0.17" stop-color="#35368a"/><stop offset="0.33" stop-color="#393b93"/><stop offset="0.50" stop-color="#3c3f9b"/><stop offset="0.67" stop-color="#3f43a3"/><stop offset="0.83" stop-color="#434cac"/><stop offset="1.00" stop-color="#4855b4"/></linearGradient><linearGradient id="g102" gradientUnits="userSpaceOnUse" x1="0" y1="354.00" x2="0" y2="345.00"><stop offset="0.00" stop-color="#323282"/><stop offset="0.17" stop-color="#353689"/><stop offset="0.33" stop-color="#383a91"/><stop offset="0.50" stop-color="#3b3d98"/><stop offset="0.67" stop-color="#3e419f"/><stop offset="0.83" stop-color="#4146a7"/><stop offset="1.00" stop-color="#454fae"/></linearGradient><linearGradient id="g103" gradientUnits="userSpaceOnUse" x1="0" y1="338.30" x2="0" y2="330.30"><stop offset="0.00" stop-color="#323282"/><stop offset="0.17" stop-color="#353589"/><stop offset="0.33" stop-color="#37398f"/><stop offset="0.50" stop-color="#3a3c96"/><stop offset="0.67" stop-color="#3c3f9c"/><stop offset="0.83" stop-color="#3f43a3"/><stop offset="1.00" stop-color="#4249a9"/></linearGradient><linearGradient id="g104" gradientUnits="userSpaceOnUse" x1="0" y1="339.00" x2="0" y2="331.70"><stop offset="0.00" stop-color="#323282"/><stop offset="0.17" stop-color="#343588"/><stop offset="0.33" stop-color="#37388e"/><stop offset="0.50" stop-color="#393b94"/><stop offset="0.67" stop-color="#3c3e9a"/><stop offset="0.83" stop-color="#3e41a0"/><stop offset="1.00" stop-color="#4045a6"/></linearGradient><linearGradient id="g105" gradientUnits="userSpaceOnUse" x1="0" y1="353.50" x2="0" y2="339.00"><stop offset="0.00" stop-color="#323282"/><stop offset="0.17" stop-color="#37388e"/><stop offset="0.33" stop-color="#3b3e9a"/><stop offset="0.50" stop-color="#4045a6"/><stop offset="0.67" stop-color="#4652b1"/><stop offset="0.83" stop-color="#4d60bd"/><stop offset="1.00" stop-color="#536ec8"/></linearGradient><linearGradient id="g106" gradientUnits="userSpaceOnUse" x1="0" y1="341.90" x2="0" y2="324.50"><stop offset="0.00" stop-color="#323282"/><stop offset="0.17" stop-color="#383990"/><stop offset="0.33" stop-color="#3d419e"/><stop offset="0.50" stop-color="#444dad"/><stop offset="0.67" stop-color="#4b5dbb"/><stop offset="0.83" stop-color="#536ec8"/><stop offset="1.00" stop-color="#5a83ca"/></linearGradient><linearGradient id="g107" gradientUnits="userSpaceOnUse" x1="0" y1="338.00" x2="0" y2="302.00"><stop offset="0.00" stop-color="#323282"/><stop offset="0.17" stop-color="#3e419f"/><stop offset="0.33" stop-color="#4c5fbd"/><stop offset="0.50" stop-color="#5b88ca"/><stop offset="0.67" stop-color="#6ab3cc"/><stop offset="0.83" stop-color="#83c4a9"/><stop offset="1.00" stop-color="#a1d184"/></linearGradient><linearGradient id="g108" gradientUnits="userSpaceOnUse" x1="0" y1="352.00" x2="0" y2="339.00"><stop offset="0.00" stop-color="#323282"/><stop offset="0.17" stop-color="#36378d"/><stop offset="0.33" stop-color="#3b3d97"/><stop offset="0.50" stop-color="#3f42a2"/><stop offset="0.67" stop-color="#444dad"/><stop offset="0.83" stop-color="#4959b7"/><stop offset="1.00" stop-color="#4f65c2"/></linearGradient><linearGradient id="g109" gradientUnits="userSpaceOnUse" x1="0" y1="336.00" x2="0" y2="295.50"><stop offset="0.00" stop-color="#323282"/><stop offset="0.17" stop-color="#3f43a3"/><stop offset="0.33" stop-color="#5068c4"/><stop offset="0.50" stop-color="#6198cb"/><stop offset="0.67" stop-color="#77bbba"/><stop offset="0.83" stop-color="#94ce93"/><stop offset="1.00" stop-color="#bad766"/></linearGradient><linearGradient id="g110" gradientUnits="userSpaceOnUse" x1="0" y1="345.00" x2="0" y2="322.00"><stop offset="0.00" stop-color="#323282"/><stop offset="0.17" stop-color="#3a3c95"/><stop offset="0.33" stop-color="#4147a8"/><stop offset="0.50" stop-color="#4b5dba"/><stop offset="0.67" stop-color="#5574c9"/><stop offset="0.83" stop-color="#5e90cb"/><stop offset="1.00" stop-color="#67accd"/></linearGradient><linearGradient id="g111" gradientUnits="userSpaceOnUse" x1="0" y1="349.00" x2="0" y2="327.80"><stop offset="0.00" stop-color="#323282"/><stop offset="0.17" stop-color="#393b93"/><stop offset="0.33" stop-color="#4044a5"/><stop offset="0.50" stop-color="#4958b6"/><stop offset="0.67" stop-color="#526bc7"/><stop offset="0.83" stop-color="#5a85ca"/><stop offset="1.00" stop-color="#639fcc"/></linearGradient><linearGradient id="g112" gradientUnits="userSpaceOnUse" x1="0" y1="345.00" x2="0" y2="329.60"><stop offset="0.00" stop-color="#323282"/><stop offset="0.17" stop-color="#37388f"/><stop offset="0.33" stop-color="#3c3f9b"/><stop offset="0.50" stop-color="#4147a8"/><stop offset="0.67" stop-color="#4856b4"/><stop offset="0.83" stop-color="#4e64c1"/><stop offset="1.00" stop-color="#5574c9"/></linearGradient><linearGradient id="g113" gradientUnits="userSpaceOnUse" x1="0" y1="345.20" x2="0" y2="323.00"><stop offset="0.00" stop-color="#323282"/><stop offset="0.17" stop-color="#393b94"/><stop offset="0.33" stop-color="#4146a6"/><stop offset="0.50" stop-color="#4a5ab9"/><stop offset="0.67" stop-color="#5370c8"/><stop offset="0.83" stop-color="#5c8bca"/><stop offset="1.00" stop-color="#65a7cc"/></linearGradient><linearGradient id="g114" gradientUnits="userSpaceOnUse" x1="0" y1="347.00" x2="0" y2="334.20"><stop offset="0.00" stop-color="#323282"/><stop offset="0.17" stop-color="#36378c"/><stop offset="0.33" stop-color="#3a3d97"/><stop offset="0.50" stop-color="#3f42a1"/><stop offset="0.67" stop-color="#444cac"/><stop offset="0.83" stop-color="#4958b6"/><stop offset="1.00" stop-color="#4e64c1"/></linearGradient><linearGradient id="g115" gradientUnits="userSpaceOnUse" x1="0" y1="345.20" x2="0" y2="337.00"><stop offset="0.00" stop-color="#323282"/><stop offset="0.17" stop-color="#353589"/><stop offset="0.33" stop-color="#37398f"/><stop offset="0.50" stop-color="#3a3c96"/><stop offset="0.67" stop-color="#3d409d"/><stop offset="0.83" stop-color="#3f43a4"/><stop offset="1.00" stop-color="#434aaa"/></linearGradient><linearGradient id="g116" gradientUnits="userSpaceOnUse" x1="0" y1="353.00" x2="0" y2="339.00"><stop offset="0.00" stop-color="#323282"/><stop offset="0.17" stop-color="#37388d"/><stop offset="0.33" stop-color="#3b3e99"/><stop offset="0.50" stop-color="#4044a4"/><stop offset="0.67" stop-color="#4650b0"/><stop offset="0.83" stop-color="#4b5dbb"/><stop offset="1.00" stop-color="#516bc7"/></linearGradient><linearGradient id="g117" gradientUnits="userSpaceOnUse" x1="0" y1="352.00" x2="0" y2="341.00"><stop offset="0.00" stop-color="#323282"/><stop offset="0.17" stop-color="#36378b"/><stop offset="0.33" stop-color="#393b94"/><stop offset="0.50" stop-color="#3d409d"/><stop offset="0.67" stop-color="#4145a6"/><stop offset="0.83" stop-color="#454faf"/><stop offset="1.00" stop-color="#4a5ab8"/></linearGradient><linearGradient id="g118" gradientUnits="userSpaceOnUse" x1="0" y1="350.00" x2="0" y2="340.00"><stop offset="0.00" stop-color="#323282"/><stop offset="0.17" stop-color="#35368a"/><stop offset="0.33" stop-color="#393a92"/><stop offset="0.50" stop-color="#3c3f9b"/><stop offset="0.67" stop-color="#3f43a3"/><stop offset="0.83" stop-color="#434bab"/><stop offset="1.00" stop-color="#4754b3"/></linearGradient><linearGradient id="g119" gradientUnits="userSpaceOnUse" x1="0" y1="348.00" x2="0" y2="338.00"><stop offset="0.00" stop-color="#323282"/><stop offset="0.17" stop-color="#35368a"/><stop offset="0.33" stop-color="#393a92"/><stop offset="0.50" stop-color="#3c3f9b"/><stop offset="0.67" stop-color="#3f43a3"/><stop offset="0.83" stop-color="#434bab"/><stop offset="1.00" stop-color="#4754b3"/></linearGradient><linearGradient id="g120" gradientUnits="userSpaceOnUse" x1="0" y1="343.00" x2="0" y2="336.00"><stop offset="0.00" stop-color="#323282"/><stop offset="0.17" stop-color="#343588"/><stop offset="0.33" stop-color="#37388d"/><stop offset="0.50" stop-color="#393b93"/><stop offset="0.67" stop-color="#3b3e99"/><stop offset="0.83" stop-color="#3d419f"/><stop offset="1.00" stop-color="#4044a4"/></linearGradient><linearGradient id="g121" gradientUnits="userSpaceOnUse" x1="0" y1="346.50" x2="0" y2="339.07"><stop offset="0.00" stop-color="#323282"/><stop offset="0.17" stop-color="#343588"/><stop offset="0.33" stop-color="#37388e"/><stop offset="0.50" stop-color="#393b94"/><stop offset="0.67" stop-color="#3c3f9a"/><stop offset="0.83" stop-color="#3e42a0"/><stop offset="1.00" stop-color="#4146a6"/></linearGradient><linearGradient id="g122" gradientUnits="userSpaceOnUse" x1="0" y1="345.83" x2="0" y2="335.72"><stop offset="0.00" stop-color="#323282"/><stop offset="0.17" stop-color="#35368a"/><stop offset="0.33" stop-color="#393b93"/><stop offset="0.50" stop-color="#3c3f9b"/><stop offset="0.67" stop-color="#3f43a3"/><stop offset="0.83" stop-color="#434bab"/><stop offset="1.00" stop-color="#4855b4"/></linearGradient><linearGradient id="g123" gradientUnits="userSpaceOnUse" x1="0" y1="344.50" x2="0" y2="333.17"><stop offset="0.00" stop-color="#323282"/><stop offset="0.17" stop-color="#36378b"/><stop offset="0.33" stop-color="#393c95"/><stop offset="0.50" stop-color="#3d409e"/><stop offset="0.67" stop-color="#4146a7"/><stop offset="0.83" stop-color="#4651b0"/><stop offset="1.00" stop-color="#4b5cba"/></linearGradient><linearGradient id="g124" gradientUnits="userSpaceOnUse" x1="0" y1="343.83" x2="0" y2="335.40"><stop offset="0.00" stop-color="#323282"/><stop offset="0.17" stop-color="#353689"/><stop offset="0.33" stop-color="#383990"/><stop offset="0.50" stop-color="#3a3d97"/><stop offset="0.67" stop-color="#3d409e"/><stop offset="0.83" stop-color="#4044a5"/><stop offset="1.00" stop-color="#434bab"/></linearGradient><linearGradient id="g125" gradientUnits="userSpaceOnUse" x1="0" y1="341.83" x2="0" y2="332.54"><stop offset="0.00" stop-color="#323282"/><stop offset="0.17" stop-color="#35368a"/><stop offset="0.33" stop-color="#383a91"/><stop offset="0.50" stop-color="#3b3e99"/><stop offset="0.67" stop-color="#3e42a0"/><stop offset="0.83" stop-color="#4247a8"/><stop offset="1.00" stop-color="#4550b0"/></linearGradient><linearGradient id="g126" gradientUnits="userSpaceOnUse" x1="0" y1="346.31" x2="0" y2="334.36"><stop offset="0.00" stop-color="#323282"/><stop offset="0.17" stop-color="#36378c"/><stop offset="0.33" stop-color="#3a3c96"/><stop offset="0.50" stop-color="#3e419f"/><stop offset="0.67" stop-color="#4249a9"/><stop offset="0.83" stop-color="#4754b3"/><stop offset="1.00" stop-color="#4c5fbd"/></linearGradient><linearGradient id="g127" gradientUnits="userSpaceOnUse" x1="0" y1="345.64" x2="0" y2="334.88"><stop offset="0.00" stop-color="#323282"/><stop offset="0.17" stop-color="#36378b"/><stop offset="0.33" stop-color="#393b94"/><stop offset="0.50" stop-color="#3d409c"/><stop offset="0.67" stop-color="#4044a5"/><stop offset="0.83" stop-color="#454eae"/><stop offset="1.00" stop-color="#4958b7"/></linearGradient><linearGradient id="g128" gradientUnits="userSpaceOnUse" x1="0" y1="343.64" x2="0" y2="328.96"><stop offset="0.00" stop-color="#323282"/><stop offset="0.17" stop-color="#37388e"/><stop offset="0.33" stop-color="#3c3e9a"/><stop offset="0.50" stop-color="#4145a6"/><stop offset="0.67" stop-color="#4753b2"/><stop offset="0.83" stop-color="#4d61be"/><stop offset="1.00" stop-color="#536fc8"/></linearGradient><linearGradient id="g129" gradientUnits="userSpaceOnUse" x1="0" y1="348.12" x2="0" y2="336.23"><stop offset="0.00" stop-color="#323282"/><stop offset="0.17" stop-color="#36378c"/><stop offset="0.33" stop-color="#3a3c95"/><stop offset="0.50" stop-color="#3e419f"/><stop offset="0.67" stop-color="#4249a9"/><stop offset="0.83" stop-color="#4754b3"/><stop offset="1.00" stop-color="#4c5fbc"/></linearGradient><linearGradient id="g130" gradientUnits="userSpaceOnUse" x1="0" y1="347.45" x2="0" y2="333.64"><stop offset="0.00" stop-color="#323282"/><stop offset="0.17" stop-color="#37388d"/><stop offset="0.33" stop-color="#3b3e99"/><stop offset="0.50" stop-color="#4043a4"/><stop offset="0.67" stop-color="#4550af"/><stop offset="0.83" stop-color="#4b5dbb"/><stop offset="1.00" stop-color="#516ac6"/></linearGradient><linearGradient id="g131" gradientUnits="userSpaceOnUse" x1="0" y1="346.12" x2="0" y2="334.81"><stop offset="0.00" stop-color="#323282"/><stop offset="0.17" stop-color="#36378b"/><stop offset="0.33" stop-color="#393c95"/><stop offset="0.50" stop-color="#3d409e"/><stop offset="0.67" stop-color="#4146a7"/><stop offset="0.83" stop-color="#4651b0"/><stop offset="1.00" stop-color="#4b5cba"/></linearGradient><linearGradient id="g132" gradientUnits="userSpaceOnUse" x1="0" y1="344.79" x2="0" y2="334.57"><stop offset="0.00" stop-color="#323282"/><stop offset="0.17" stop-color="#35368a"/><stop offset="0.33" stop-color="#393b93"/><stop offset="0.50" stop-color="#3c3f9b"/><stop offset="0.67" stop-color="#3f43a3"/><stop offset="0.83" stop-color="#444cac"/><stop offset="1.00" stop-color="#4855b4"/></linearGradient><linearGradient id="g133" gradientUnits="userSpaceOnUse" x1="0" y1="344.12" x2="0" y2="334.42"><stop offset="0.00" stop-color="#323282"/><stop offset="0.17" stop-color="#35368a"/><stop offset="0.33" stop-color="#383a92"/><stop offset="0.50" stop-color="#3c3e9a"/><stop offset="0.67" stop-color="#3f42a2"/><stop offset="0.83" stop-color="#4249aa"/><stop offset="1.00" stop-color="#4752b2"/></linearGradient><linearGradient id="g134" gradientUnits="userSpaceOnUse" x1="0" y1="348.60" x2="0" y2="341.54"><stop offset="0.00" stop-color="#323282"/><stop offset="0.17" stop-color="#343588"/><stop offset="0.33" stop-color="#37388e"/><stop offset="0.50" stop-color="#393b93"/><stop offset="0.67" stop-color="#3b3e99"/><stop offset="0.83" stop-color="#3e419f"/><stop offset="1.00" stop-color="#4044a5"/></linearGradient><linearGradient id="g135" gradientUnits="userSpaceOnUse" x1="0" y1="347.26" x2="0" y2="337.78"><stop offset="0.00" stop-color="#323282"/><stop offset="0.17" stop-color="#35368a"/><stop offset="0.33" stop-color="#383a92"/><stop offset="0.50" stop-color="#3b3e99"/><stop offset="0.67" stop-color="#3e42a1"/><stop offset="0.83" stop-color="#4248a9"/><stop offset="1.00" stop-color="#4651b1"/></linearGradient><linearGradient id="g136" gradientUnits="userSpaceOnUse" x1="0" y1="346.60" x2="0" y2="333.82"><stop offset="0.00" stop-color="#323282"/><stop offset="0.17" stop-color="#36378c"/><stop offset="0.33" stop-color="#3a3d97"/><stop offset="0.50" stop-color="#3f42a1"/><stop offset="0.67" stop-color="#444cac"/><stop offset="0.83" stop-color="#4958b6"/><stop offset="1.00" stop-color="#4e64c1"/></linearGradient><linearGradient id="g137" gradientUnits="userSpaceOnUse" x1="0" y1="351.07" x2="0" y2="341.97"><stop offset="0.00" stop-color="#323282"/><stop offset="0.17" stop-color="#353689"/><stop offset="0.33" stop-color="#383a91"/><stop offset="0.50" stop-color="#3b3d98"/><stop offset="0.67" stop-color="#3e41a0"/><stop offset="0.83" stop-color="#4147a7"/><stop offset="1.00" stop-color="#454faf"/></linearGradient><linearGradient id="g138" gradientUnits="userSpaceOnUse" x1="0" y1="350.40" x2="0" y2="335.41"><stop offset="0.00" stop-color="#323282"/><stop offset="0.17" stop-color="#37388e"/><stop offset="0.33" stop-color="#3c3f9b"/><stop offset="0.50" stop-color="#4146a7"/><stop offset="0.67" stop-color="#4754b3"/><stop offset="0.83" stop-color="#4e62bf"/><stop offset="1.00" stop-color="#5471c8"/></linearGradient><linearGradient id="g139" gradientUnits="userSpaceOnUse" x1="0" y1="349.74" x2="0" y2="341.52"><stop offset="0.00" stop-color="#323282"/><stop offset="0.17" stop-color="#353589"/><stop offset="0.33" stop-color="#37398f"/><stop offset="0.50" stop-color="#3a3c96"/><stop offset="0.67" stop-color="#3d409d"/><stop offset="0.83" stop-color="#3f43a4"/><stop offset="1.00" stop-color="#434aaa"/></linearGradient><linearGradient id="g140" gradientUnits="userSpaceOnUse" x1="0" y1="349.07" x2="0" y2="333.92"><stop offset="0.00" stop-color="#323282"/><stop offset="0.17" stop-color="#37388e"/><stop offset="0.33" stop-color="#3c3f9b"/><stop offset="0.50" stop-color="#4147a7"/><stop offset="0.67" stop-color="#4855b4"/><stop offset="0.83" stop-color="#4e63c0"/><stop offset="1.00" stop-color="#5473c8"/></linearGradient><linearGradient id="g141" gradientUnits="userSpaceOnUse" x1="0" y1="348.40" x2="0" y2="340.38"><stop offset="0.00" stop-color="#323282"/><stop offset="0.17" stop-color="#353589"/><stop offset="0.33" stop-color="#37398f"/><stop offset="0.50" stop-color="#3a3c96"/><stop offset="0.67" stop-color="#3d409c"/><stop offset="0.83" stop-color="#3f43a3"/><stop offset="1.00" stop-color="#4249a9"/></linearGradient><linearGradient id="g142" gradientUnits="userSpaceOnUse" x1="0" y1="347.74" x2="0" y2="340.36"><stop offset="0.00" stop-color="#323282"/><stop offset="0.17" stop-color="#343588"/><stop offset="0.33" stop-color="#37388e"/><stop offset="0.50" stop-color="#393b94"/><stop offset="0.67" stop-color="#3c3e9a"/><stop offset="0.83" stop-color="#3e42a0"/><stop offset="1.00" stop-color="#4145a6"/></linearGradient><linearGradient id="g143" gradientUnits="userSpaceOnUse" x1="0" y1="347.07" x2="0" y2="340.04"><stop offset="0.00" stop-color="#323282"/><stop offset="0.17" stop-color="#343588"/><stop offset="0.33" stop-color="#37388e"/><stop offset="0.50" stop-color="#393b93"/><stop offset="0.67" stop-color="#3b3e99"/><stop offset="0.83" stop-color="#3e419f"/><stop offset="1.00" stop-color="#4044a5"/></linearGradient><linearGradient id="g144" gradientUnits="userSpaceOnUse" x1="0" y1="352.21" x2="0" y2="345.35"><stop offset="0.00" stop-color="#323282"/><stop offset="0.17" stop-color="#343588"/><stop offset="0.33" stop-color="#36388d"/><stop offset="0.50" stop-color="#393b93"/><stop offset="0.67" stop-color="#3b3e98"/><stop offset="0.83" stop-color="#3d409e"/><stop offset="1.00" stop-color="#3f43a4"/></linearGradient><linearGradient id="g145" gradientUnits="userSpaceOnUse" x1="0" y1="350.88" x2="0" y2="339.62"><stop offset="0.00" stop-color="#323282"/><stop offset="0.17" stop-color="#36378b"/><stop offset="0.33" stop-color="#393b94"/><stop offset="0.50" stop-color="#3d409e"/><stop offset="0.67" stop-color="#4146a7"/><stop offset="0.83" stop-color="#4651b0"/><stop offset="1.00" stop-color="#4a5bb9"/></linearGradient><linearGradient id="g146" gradientUnits="userSpaceOnUse" x1="0" y1="349.55" x2="0" y2="340.87"><stop offset="0.00" stop-color="#323282"/><stop offset="0.17" stop-color="#353689"/><stop offset="0.33" stop-color="#383990"/><stop offset="0.50" stop-color="#3b3d97"/><stop offset="0.67" stop-color="#3d419e"/><stop offset="0.83" stop-color="#4045a6"/><stop offset="1.00" stop-color="#444dad"/></linearGradient><linearGradient id="g147" gradientUnits="userSpaceOnUse" x1="0" y1="348.88" x2="0" y2="340.14"><stop offset="0.00" stop-color="#323282"/><stop offset="0.17" stop-color="#353689"/><stop offset="0.33" stop-color="#383990"/><stop offset="0.50" stop-color="#3b3d97"/><stop offset="0.67" stop-color="#3d419f"/><stop offset="0.83" stop-color="#4045a6"/><stop offset="1.00" stop-color="#444dad"/></linearGradient><linearGradient id="g148" gradientUnits="userSpaceOnUse" x1="0" y1="348.21" x2="0" y2="341.43"><stop offset="0.00" stop-color="#323282"/><stop offset="0.17" stop-color="#343588"/><stop offset="0.33" stop-color="#36388d"/><stop offset="0.50" stop-color="#393b93"/><stop offset="0.67" stop-color="#3b3d98"/><stop offset="0.83" stop-color="#3d409e"/><stop offset="1.00" stop-color="#3f43a3"/></linearGradient><linearGradient id="g149" gradientUnits="userSpaceOnUse" x1="0" y1="347.55" x2="0" y2="338.96"><stop offset="0.00" stop-color="#323282"/><stop offset="0.17" stop-color="#353689"/><stop offset="0.33" stop-color="#383990"/><stop offset="0.50" stop-color="#3a3d97"/><stop offset="0.67" stop-color="#3d409e"/><stop offset="0.83" stop-color="#4044a5"/><stop offset="1.00" stop-color="#444cac"/></linearGradient><linearGradient id="g150" gradientUnits="userSpaceOnUse" x1="0" y1="353.36" x2="0" y2="338.50"><stop offset="0.00" stop-color="#323282"/><stop offset="0.17" stop-color="#37388e"/><stop offset="0.33" stop-color="#3c3f9a"/><stop offset="0.50" stop-color="#4146a6"/><stop offset="0.67" stop-color="#4754b3"/><stop offset="0.83" stop-color="#4d61bf"/><stop offset="1.00" stop-color="#5370c8"/></linearGradient><linearGradient id="g151" gradientUnits="userSpaceOnUse" x1="0" y1="352.69" x2="0" y2="338.08"><stop offset="0.00" stop-color="#323282"/><stop offset="0.17" stop-color="#37388e"/><stop offset="0.33" stop-color="#3c3e9a"/><stop offset="0.50" stop-color="#4045a6"/><stop offset="0.67" stop-color="#4753b2"/><stop offset="0.83" stop-color="#4d60be"/><stop offset="1.00" stop-color="#536fc8"/></linearGradient><linearGradient id="g152" gradientUnits="userSpaceOnUse" x1="0" y1="351.36" x2="0" y2="344.02"><stop offset="0.00" stop-color="#323282"/><stop offset="0.17" stop-color="#343588"/><stop offset="0.33" stop-color="#37388e"/><stop offset="0.50" stop-color="#393b94"/><stop offset="0.67" stop-color="#3c3e9a"/><stop offset="0.83" stop-color="#3e41a0"/><stop offset="1.00" stop-color="#4145a6"/></linearGradient><linearGradient id="g153" gradientUnits="userSpaceOnUse" x1="0" y1="349.36" x2="0" y2="336.94"><stop offset="0.00" stop-color="#323282"/><stop offset="0.17" stop-color="#36378c"/><stop offset="0.33" stop-color="#3a3c96"/><stop offset="0.50" stop-color="#3e42a0"/><stop offset="0.67" stop-color="#434aab"/><stop offset="0.83" stop-color="#4856b5"/><stop offset="1.00" stop-color="#4d62bf"/></linearGradient><linearGradient id="g154" gradientUnits="userSpaceOnUse" x1="0" y1="352.50" x2="0" y2="337.69"><stop offset="0.00" stop-color="#323282"/><stop offset="0.17" stop-color="#37388e"/><stop offset="0.33" stop-color="#3c3e9a"/><stop offset="0.50" stop-color="#4146a6"/><stop offset="0.67" stop-color="#4753b2"/><stop offset="0.83" stop-color="#4d61bf"/><stop offset="1.00" stop-color="#5370c8"/></linearGradient><linearGradient id="g155" gradientUnits="userSpaceOnUse" x1="0" y1="349.83" x2="0" y2="335.24"><stop offset="0.00" stop-color="#323282"/><stop offset="0.17" stop-color="#37388e"/><stop offset="0.33" stop-color="#3c3e9a"/><stop offset="0.50" stop-color="#4045a6"/><stop offset="0.67" stop-color="#4753b2"/><stop offset="0.83" stop-color="#4d60be"/><stop offset="1.00" stop-color="#536fc8"/></linearGradient><linearGradient id="g156" gradientUnits="userSpaceOnUse" x1="0" y1="354.98" x2="0" y2="346.97"><stop offset="0.00" stop-color="#323282"/><stop offset="0.17" stop-color="#353589"/><stop offset="0.33" stop-color="#37398f"/><stop offset="0.50" stop-color="#3a3c96"/><stop offset="0.67" stop-color="#3c3f9c"/><stop offset="0.83" stop-color="#3f43a3"/><stop offset="1.00" stop-color="#4249a9"/></linearGradient><linearGradient id="g157" gradientUnits="userSpaceOnUse" x1="0" y1="351.64" x2="0" y2="337.85"><stop offset="0.00" stop-color="#323282"/><stop offset="0.17" stop-color="#37388d"/><stop offset="0.33" stop-color="#3b3e99"/><stop offset="0.50" stop-color="#4043a4"/><stop offset="0.67" stop-color="#4550af"/><stop offset="0.83" stop-color="#4b5dba"/><stop offset="1.00" stop-color="#5169c6"/></linearGradient><linearGradient id="g158" gradientUnits="userSpaceOnUse" x1="0" y1="356.12" x2="0" y2="343.58"><stop offset="0.00" stop-color="#323282"/><stop offset="0.17" stop-color="#36378c"/><stop offset="0.33" stop-color="#3a3d97"/><stop offset="0.50" stop-color="#3e42a1"/><stop offset="0.67" stop-color="#434bab"/><stop offset="0.83" stop-color="#4857b5"/><stop offset="1.00" stop-color="#4e62c0"/></linearGradient><linearGradient id="g159" gradientUnits="userSpaceOnUse" x1="0" y1="354.79" x2="0" y2="343.55"><stop offset="0.00" stop-color="#323282"/><stop offset="0.17" stop-color="#36378b"/><stop offset="0.33" stop-color="#393b94"/><stop offset="0.50" stop-color="#3d409e"/><stop offset="0.67" stop-color="#4146a7"/><stop offset="0.83" stop-color="#4651b0"/><stop offset="1.00" stop-color="#4a5bb9"/></linearGradient><linearGradient id="g160" gradientUnits="userSpaceOnUse" x1="0" y1="353.45" x2="0" y2="339.17"><stop offset="0.00" stop-color="#323282"/><stop offset="0.17" stop-color="#37388e"/><stop offset="0.33" stop-color="#3b3e99"/><stop offset="0.50" stop-color="#4044a5"/><stop offset="0.67" stop-color="#4651b1"/><stop offset="0.83" stop-color="#4c5fbc"/><stop offset="1.00" stop-color="#526cc8"/></linearGradient><linearGradient id="g161" gradientUnits="userSpaceOnUse" x1="0" y1="352.79" x2="0" y2="339.38"><stop offset="0.00" stop-color="#323282"/><stop offset="0.17" stop-color="#36388d"/><stop offset="0.33" stop-color="#3b3d98"/><stop offset="0.50" stop-color="#3f43a3"/><stop offset="0.67" stop-color="#454eae"/><stop offset="0.83" stop-color="#4a5bb9"/><stop offset="1.00" stop-color="#5067c4"/></linearGradient><linearGradient id="g162" gradientUnits="userSpaceOnUse" x1="0" y1="357.26" x2="0" y2="345.87"><stop offset="0.00" stop-color="#323282"/><stop offset="0.17" stop-color="#36378b"/><stop offset="0.33" stop-color="#393c95"/><stop offset="0.50" stop-color="#3d409e"/><stop offset="0.67" stop-color="#4147a7"/><stop offset="0.83" stop-color="#4651b1"/><stop offset="1.00" stop-color="#4b5cba"/></linearGradient><linearGradient id="g163" gradientUnits="userSpaceOnUse" x1="0" y1="356.60" x2="0" y2="347.99"><stop offset="0.00" stop-color="#323282"/><stop offset="0.17" stop-color="#353689"/><stop offset="0.33" stop-color="#383990"/><stop offset="0.50" stop-color="#3a3d97"/><stop offset="0.67" stop-color="#3d409e"/><stop offset="0.83" stop-color="#4044a5"/><stop offset="1.00" stop-color="#444cac"/></linearGradient><linearGradient id="g164" gradientUnits="userSpaceOnUse" x1="0" y1="355.93" x2="0" y2="348.40"><stop offset="0.00" stop-color="#323282"/><stop offset="0.17" stop-color="#343588"/><stop offset="0.33" stop-color="#37388e"/><stop offset="0.50" stop-color="#393c94"/><stop offset="0.67" stop-color="#3c3f9b"/><stop offset="0.83" stop-color="#3e42a1"/><stop offset="1.00" stop-color="#4146a7"/></linearGradient><linearGradient id="g165" gradientUnits="userSpaceOnUse" x1="0" y1="354.60" x2="0" y2="340.37"><stop offset="0.00" stop-color="#323282"/><stop offset="0.17" stop-color="#37388e"/><stop offset="0.33" stop-color="#3b3e99"/><stop offset="0.50" stop-color="#4044a5"/><stop offset="0.67" stop-color="#4651b1"/><stop offset="0.83" stop-color="#4c5fbc"/><stop offset="1.00" stop-color="#526cc8"/></linearGradient><linearGradient id="g166" gradientUnits="userSpaceOnUse" x1="0" y1="353.26" x2="0" y2="344.04"><stop offset="0.00" stop-color="#323282"/><stop offset="0.17" stop-color="#35368a"/><stop offset="0.33" stop-color="#383a91"/><stop offset="0.50" stop-color="#3b3e99"/><stop offset="0.67" stop-color="#3e42a0"/><stop offset="0.83" stop-color="#4147a8"/><stop offset="1.00" stop-color="#4550af"/></linearGradient><linearGradient id="g167" gradientUnits="userSpaceOnUse" x1="0" y1="358.40" x2="0" y2="344.04"><stop offset="0.00" stop-color="#323282"/><stop offset="0.17" stop-color="#37388e"/><stop offset="0.33" stop-color="#3b3e9a"/><stop offset="0.50" stop-color="#4044a5"/><stop offset="0.67" stop-color="#4652b1"/><stop offset="0.83" stop-color="#4c5fbd"/><stop offset="1.00" stop-color="#526dc8"/></linearGradient><linearGradient id="g168" gradientUnits="userSpaceOnUse" x1="0" y1="357.74" x2="0" y2="348.19"><stop offset="0.00" stop-color="#323282"/><stop offset="0.17" stop-color="#35368a"/><stop offset="0.33" stop-color="#383a92"/><stop offset="0.50" stop-color="#3b3e99"/><stop offset="0.67" stop-color="#3f42a1"/><stop offset="0.83" stop-color="#4249a9"/><stop offset="1.00" stop-color="#4652b1"/></linearGradient><linearGradient id="g169" gradientUnits="userSpaceOnUse" x1="0" y1="356.40" x2="0" y2="347.10"><stop offset="0.00" stop-color="#323282"/><stop offset="0.17" stop-color="#35368a"/><stop offset="0.33" stop-color="#383a91"/><stop offset="0.50" stop-color="#3b3e99"/><stop offset="0.67" stop-color="#3e42a0"/><stop offset="0.83" stop-color="#4248a8"/><stop offset="1.00" stop-color="#4650b0"/></linearGradient><linearGradient id="g170" gradientUnits="userSpaceOnUse" x1="0" y1="355.07" x2="0" y2="347.89"><stop offset="0.00" stop-color="#323282"/><stop offset="0.17" stop-color="#343588"/><stop offset="0.33" stop-color="#37388e"/><stop offset="0.50" stop-color="#393b94"/><stop offset="0.67" stop-color="#3b3e9a"/><stop offset="0.83" stop-color="#3e419f"/><stop offset="1.00" stop-color="#4044a5"/></linearGradient><linearGradient id="g171" gradientUnits="userSpaceOnUse" x1="0" y1="354.40" x2="0" y2="341.00"><stop offset="0.00" stop-color="#323282"/><stop offset="0.17" stop-color="#36388d"/><stop offset="0.33" stop-color="#3b3d98"/><stop offset="0.50" stop-color="#3f43a3"/><stop offset="0.67" stop-color="#454eae"/><stop offset="0.83" stop-color="#4a5bb9"/><stop offset="1.00" stop-color="#5067c4"/></linearGradient><linearGradient id="g172" gradientUnits="userSpaceOnUse" x1="0" y1="358.88" x2="0" y2="344.17"><stop offset="0.00" stop-color="#323282"/><stop offset="0.17" stop-color="#37388e"/><stop offset="0.33" stop-color="#3c3e9a"/><stop offset="0.50" stop-color="#4145a6"/><stop offset="0.67" stop-color="#4753b2"/><stop offset="0.83" stop-color="#4d61be"/><stop offset="1.00" stop-color="#536fc8"/></linearGradient><linearGradient id="g173" gradientUnits="userSpaceOnUse" x1="0" y1="358.21" x2="0" y2="343.91"><stop offset="0.00" stop-color="#323282"/><stop offset="0.17" stop-color="#37388e"/><stop offset="0.33" stop-color="#3b3e99"/><stop offset="0.50" stop-color="#4044a5"/><stop offset="0.67" stop-color="#4652b1"/><stop offset="0.83" stop-color="#4c5fbd"/><stop offset="1.00" stop-color="#526cc8"/></linearGradient><linearGradient id="g174" gradientUnits="userSpaceOnUse" x1="0" y1="357.55" x2="0" y2="349.78"><stop offset="0.00" stop-color="#323282"/><stop offset="0.17" stop-color="#353588"/><stop offset="0.33" stop-color="#37398f"/><stop offset="0.50" stop-color="#3a3c95"/><stop offset="0.67" stop-color="#3c3f9b"/><stop offset="0.83" stop-color="#3f42a2"/><stop offset="1.00" stop-color="#4248a8"/></linearGradient><linearGradient id="g175" gradientUnits="userSpaceOnUse" x1="0" y1="356.21" x2="0" y2="348.97"><stop offset="0.00" stop-color="#323282"/><stop offset="0.17" stop-color="#343588"/><stop offset="0.33" stop-color="#37388e"/><stop offset="0.50" stop-color="#393b94"/><stop offset="0.67" stop-color="#3b3e9a"/><stop offset="0.83" stop-color="#3e41a0"/><stop offset="1.00" stop-color="#4045a6"/></linearGradient><linearGradient id="g176" gradientUnits="userSpaceOnUse" x1="0" y1="355.55" x2="0" y2="340.93"><stop offset="0.00" stop-color="#323282"/><stop offset="0.17" stop-color="#37388e"/><stop offset="0.33" stop-color="#3c3e9a"/><stop offset="0.50" stop-color="#4045a6"/><stop offset="0.67" stop-color="#4753b2"/><stop offset="0.83" stop-color="#4d60be"/><stop offset="1.00" stop-color="#536fc8"/></linearGradient><linearGradient id="g177" gradientUnits="userSpaceOnUse" x1="0" y1="361.36" x2="0" y2="349.27"><stop offset="0.00" stop-color="#323282"/><stop offset="0.17" stop-color="#36378c"/><stop offset="0.33" stop-color="#3a3c96"/><stop offset="0.50" stop-color="#3e41a0"/><stop offset="0.67" stop-color="#4249aa"/><stop offset="0.83" stop-color="#4755b3"/><stop offset="1.00" stop-color="#4d60bd"/></linearGradient><linearGradient id="g178" gradientUnits="userSpaceOnUse" x1="0" y1="360.02" x2="0" y2="347.64"><stop offset="0.00" stop-color="#323282"/><stop offset="0.17" stop-color="#36378c"/><stop offset="0.33" stop-color="#3a3c96"/><stop offset="0.50" stop-color="#3e42a0"/><stop offset="0.67" stop-color="#434aab"/><stop offset="0.83" stop-color="#4856b5"/><stop offset="1.00" stop-color="#4d62bf"/></linearGradient><linearGradient id="g179" gradientUnits="userSpaceOnUse" x1="0" y1="359.36" x2="0" y2="352.68"><stop offset="0.00" stop-color="#323282"/><stop offset="0.17" stop-color="#343587"/><stop offset="0.33" stop-color="#36388d"/><stop offset="0.50" stop-color="#393a92"/><stop offset="0.67" stop-color="#3b3d98"/><stop offset="0.83" stop-color="#3d409d"/><stop offset="1.00" stop-color="#3f43a3"/></linearGradient><linearGradient id="g180" gradientUnits="userSpaceOnUse" x1="0" y1="356.69" x2="0" y2="344.93"><stop offset="0.00" stop-color="#323282"/><stop offset="0.17" stop-color="#36378c"/><stop offset="0.33" stop-color="#3a3c95"/><stop offset="0.50" stop-color="#3e419f"/><stop offset="0.67" stop-color="#4248a9"/><stop offset="0.83" stop-color="#4753b2"/><stop offset="1.00" stop-color="#4c5ebc"/></linearGradient><linearGradient id="g181" gradientUnits="userSpaceOnUse" x1="0" y1="360.50" x2="0" y2="348.14"><stop offset="0.00" stop-color="#323282"/><stop offset="0.17" stop-color="#36378c"/><stop offset="0.33" stop-color="#3a3c96"/><stop offset="0.50" stop-color="#3e42a0"/><stop offset="0.67" stop-color="#434aaa"/><stop offset="0.83" stop-color="#4856b5"/><stop offset="1.00" stop-color="#4d61bf"/></linearGradient><linearGradient id="g182" gradientUnits="userSpaceOnUse" x1="0" y1="358.50" x2="0" y2="343.65"><stop offset="0.00" stop-color="#323282"/><stop offset="0.17" stop-color="#37388e"/><stop offset="0.33" stop-color="#3c3f9a"/><stop offset="0.50" stop-color="#4146a6"/><stop offset="0.67" stop-color="#4754b3"/><stop offset="0.83" stop-color="#4d61bf"/><stop offset="1.00" stop-color="#5370c8"/></linearGradient><linearGradient id="g183" gradientUnits="userSpaceOnUse" x1="0" y1="352.00" x2="0" y2="302.70"><stop offset="0.00" stop-color="#323282"/><stop offset="0.17" stop-color="#434aaa"/><stop offset="0.33" stop-color="#577cc9"/><stop offset="0.50" stop-color="#6db5c8"/><stop offset="0.67" stop-color="#8fcc98"/><stop offset="0.83" stop-color="#bdd765"/><stop offset="1.00" stop-color="#dce182"/></linearGradient><linearGradient id="g184" gradientUnits="userSpaceOnUse" x1="0" y1="350.50" x2="0" y2="338.70"><stop offset="0.00" stop-color="#323282"/><stop offset="0.17" stop-color="#36378c"/><stop offset="0.33" stop-color="#3a3c95"/><stop offset="0.50" stop-color="#3e419f"/><stop offset="0.67" stop-color="#4248a9"/><stop offset="0.83" stop-color="#4753b2"/><stop offset="1.00" stop-color="#4c5ebc"/></linearGradient><linearGradient id="g185" gradientUnits="userSpaceOnUse" x1="0" y1="350.50" x2="0" y2="333.40"><stop offset="0.00" stop-color="#323282"/><stop offset="0.17" stop-color="#383990"/><stop offset="0.33" stop-color="#3d409e"/><stop offset="0.50" stop-color="#444cac"/><stop offset="0.67" stop-color="#4b5cba"/><stop offset="0.83" stop-color="#526cc8"/><stop offset="1.00" stop-color="#5981ca"/></linearGradient><linearGradient id="g186" gradientUnits="userSpaceOnUse" x1="0" y1="351.80" x2="0" y2="344.00"><stop offset="0.00" stop-color="#323282"/><stop offset="0.17" stop-color="#353588"/><stop offset="0.33" stop-color="#37398f"/><stop offset="0.50" stop-color="#3a3c95"/><stop offset="0.67" stop-color="#3c3f9c"/><stop offset="0.83" stop-color="#3f42a2"/><stop offset="1.00" stop-color="#4248a8"/></linearGradient><linearGradient id="g187" gradientUnits="userSpaceOnUse" x1="0" y1="351.80" x2="0" y2="344.00"><stop offset="0.00" stop-color="#323282"/><stop offset="0.17" stop-color="#353588"/><stop offset="0.33" stop-color="#37398f"/><stop offset="0.50" stop-color="#3a3c95"/><stop offset="0.67" stop-color="#3c3f9c"/><stop offset="0.83" stop-color="#3f42a2"/><stop offset="1.00" stop-color="#4248a8"/></linearGradient><linearGradient id="g188" gradientUnits="userSpaceOnUse" x1="0" y1="353.20" x2="0" y2="341.30"><stop offset="0.00" stop-color="#323282"/><stop offset="0.17" stop-color="#36378c"/><stop offset="0.33" stop-color="#3a3c95"/><stop offset="0.50" stop-color="#3e419f"/><stop offset="0.67" stop-color="#4249a9"/><stop offset="0.83" stop-color="#4754b3"/><stop offset="1.00" stop-color="#4c5fbc"/></linearGradient><linearGradient id="g189" gradientUnits="userSpaceOnUse" x1="0" y1="355.80" x2="0" y2="334.70"><stop offset="0.00" stop-color="#323282"/><stop offset="0.17" stop-color="#393b93"/><stop offset="0.33" stop-color="#4044a5"/><stop offset="0.50" stop-color="#4957b6"/><stop offset="0.67" stop-color="#526bc7"/><stop offset="0.83" stop-color="#5a85ca"/><stop offset="1.00" stop-color="#639ecc"/></linearGradient><linearGradient id="g190" gradientUnits="userSpaceOnUse" x1="0" y1="341.30" x2="0" y2="328.00"><stop offset="0.00" stop-color="#323282"/><stop offset="0.17" stop-color="#36388d"/><stop offset="0.33" stop-color="#3b3d98"/><stop offset="0.50" stop-color="#3f43a3"/><stop offset="0.67" stop-color="#444eae"/><stop offset="0.83" stop-color="#4a5ab8"/><stop offset="1.00" stop-color="#5067c3"/></linearGradient><linearGradient id="g191" gradientUnits="userSpaceOnUse" x1="0" y1="350.00" x2="0" y2="330.00"><stop offset="0.00" stop-color="#323282"/><stop offset="0.17" stop-color="#393a92"/><stop offset="0.33" stop-color="#3f43a3"/><stop offset="0.50" stop-color="#4754b3"/><stop offset="0.67" stop-color="#5067c3"/><stop offset="0.83" stop-color="#587ec9"/><stop offset="1.00" stop-color="#6096cb"/></linearGradient><linearGradient id="g192" gradientUnits="userSpaceOnUse" x1="0" y1="349.00" x2="0" y2="333.00"><stop offset="0.00" stop-color="#323282"/><stop offset="0.17" stop-color="#37398f"/><stop offset="0.33" stop-color="#3c3f9c"/><stop offset="0.50" stop-color="#4249a9"/><stop offset="0.67" stop-color="#4958b6"/><stop offset="0.83" stop-color="#5067c3"/><stop offset="1.00" stop-color="#5679c9"/></linearGradient><linearGradient id="g193" gradientUnits="userSpaceOnUse" x1="0" y1="348.00" x2="0" y2="328.00"><stop offset="0.00" stop-color="#323282"/><stop offset="0.17" stop-color="#393a92"/><stop offset="0.33" stop-color="#3f43a3"/><stop offset="0.50" stop-color="#4754b3"/><stop offset="0.67" stop-color="#5067c3"/><stop offset="0.83" stop-color="#587ec9"/><stop offset="1.00" stop-color="#6096cb"/></linearGradient><linearGradient id="g194" gradientUnits="userSpaceOnUse" x1="0" y1="350.00" x2="0" y2="335.00"><stop offset="0.00" stop-color="#323282"/><stop offset="0.17" stop-color="#37388e"/><stop offset="0.33" stop-color="#3c3f9b"/><stop offset="0.50" stop-color="#4146a7"/><stop offset="0.67" stop-color="#4754b3"/><stop offset="0.83" stop-color="#4e62bf"/><stop offset="1.00" stop-color="#5472c8"/></linearGradient><linearGradient id="g195" gradientUnits="userSpaceOnUse" x1="0" y1="346.30" x2="0" y2="314.00"><stop offset="0.00" stop-color="#323282"/><stop offset="0.17" stop-color="#3d409c"/><stop offset="0.33" stop-color="#4958b7"/><stop offset="0.50" stop-color="#577ac9"/><stop offset="0.67" stop-color="#64a2cc"/><stop offset="0.83" stop-color="#76bbbb"/><stop offset="1.00" stop-color="#8dca9b"/></linearGradient><linearGradient id="g196" gradientUnits="userSpaceOnUse" x1="0" y1="344.60" x2="0" y2="322.40"><stop offset="0.00" stop-color="#323282"/><stop offset="0.17" stop-color="#393b94"/><stop offset="0.33" stop-color="#4146a6"/><stop offset="0.50" stop-color="#4a5ab9"/><stop offset="0.67" stop-color="#5370c8"/><stop offset="0.83" stop-color="#5c8bca"/><stop offset="1.00" stop-color="#65a7cc"/></linearGradient><linearGradient id="g197" gradientUnits="userSpaceOnUse" x1="0" y1="344.60" x2="0" y2="324.00"><stop offset="0.00" stop-color="#323282"/><stop offset="0.17" stop-color="#393b93"/><stop offset="0.33" stop-color="#3f43a4"/><stop offset="0.50" stop-color="#4856b5"/><stop offset="0.67" stop-color="#5169c5"/><stop offset="0.83" stop-color="#5981ca"/><stop offset="1.00" stop-color="#619bcb"/></linearGradient><linearGradient id="g198" gradientUnits="userSpaceOnUse" x1="0" y1="344.60" x2="0" y2="325.00"><stop offset="0.00" stop-color="#323282"/><stop offset="0.17" stop-color="#383a92"/><stop offset="0.33" stop-color="#3f43a2"/><stop offset="0.50" stop-color="#4753b2"/><stop offset="0.67" stop-color="#4f65c2"/><stop offset="0.83" stop-color="#577bc9"/><stop offset="1.00" stop-color="#5f93cb"/></linearGradient><linearGradient id="g199" gradientUnits="userSpaceOnUse" x1="0" y1="344.00" x2="0" y2="327.00"><stop offset="0.00" stop-color="#323282"/><stop offset="0.17" stop-color="#383990"/><stop offset="0.33" stop-color="#3d409e"/><stop offset="0.50" stop-color="#434cac"/><stop offset="0.67" stop-color="#4b5cba"/><stop offset="0.83" stop-color="#526cc8"/><stop offset="1.00" stop-color="#5980c9"/></linearGradient><linearGradient id="g200" gradientUnits="userSpaceOnUse" x1="0" y1="342.90" x2="0" y2="328.30"><stop offset="0.00" stop-color="#323282"/><stop offset="0.17" stop-color="#37388e"/><stop offset="0.33" stop-color="#3c3e9a"/><stop offset="0.50" stop-color="#4045a6"/><stop offset="0.67" stop-color="#4753b2"/><stop offset="0.83" stop-color="#4d60be"/><stop offset="1.00" stop-color="#536fc8"/></linearGradient><linearGradient id="g201" gradientUnits="userSpaceOnUse" x1="0" y1="341.00" x2="0" y2="325.00"><stop offset="0.00" stop-color="#323282"/><stop offset="0.17" stop-color="#37398f"/><stop offset="0.33" stop-color="#3c3f9c"/><stop offset="0.50" stop-color="#4249a9"/><stop offset="0.67" stop-color="#4958b6"/><stop offset="0.83" stop-color="#5067c3"/><stop offset="1.00" stop-color="#5679c9"/></linearGradient><linearGradient id="g202" gradientUnits="userSpaceOnUse" x1="0" y1="339.40" x2="0" y2="329.20"><stop offset="0.00" stop-color="#323282"/><stop offset="0.17" stop-color="#35368a"/><stop offset="0.33" stop-color="#393b93"/><stop offset="0.50" stop-color="#3c3f9b"/><stop offset="0.67" stop-color="#3f43a3"/><stop offset="0.83" stop-color="#434cac"/><stop offset="1.00" stop-color="#4855b4"/></linearGradient><linearGradient id="g203" gradientUnits="userSpaceOnUse" x1="0" y1="348.00" x2="0" y2="304.40"><stop offset="0.00" stop-color="#323282"/><stop offset="0.17" stop-color="#4045a6"/><stop offset="0.33" stop-color="#536ec8"/><stop offset="0.50" stop-color="#64a4cc"/><stop offset="0.67" stop-color="#7fc1ae"/><stop offset="0.83" stop-color="#a2d182"/><stop offset="1.00" stop-color="#c9db70"/></linearGradient><linearGradient id="g204" gradientUnits="userSpaceOnUse" x1="0" y1="352.00" x2="0" y2="338.00"><stop offset="0.00" stop-color="#323282"/><stop offset="0.17" stop-color="#37388d"/><stop offset="0.33" stop-color="#3b3e99"/><stop offset="0.50" stop-color="#4044a4"/><stop offset="0.67" stop-color="#4650b0"/><stop offset="0.83" stop-color="#4b5dbb"/><stop offset="1.00" stop-color="#516bc7"/></linearGradient><linearGradient id="g205" gradientUnits="userSpaceOnUse" x1="0" y1="351.00" x2="0" y2="336.00"><stop offset="0.00" stop-color="#323282"/><stop offset="0.17" stop-color="#37388e"/><stop offset="0.33" stop-color="#3c3f9b"/><stop offset="0.50" stop-color="#4146a7"/><stop offset="0.67" stop-color="#4754b3"/><stop offset="0.83" stop-color="#4e62bf"/><stop offset="1.00" stop-color="#5472c8"/></linearGradient><linearGradient id="g206" gradientUnits="userSpaceOnUse" x1="0" y1="350.00" x2="0" y2="340.00"><stop offset="0.00" stop-color="#323282"/><stop offset="0.17" stop-color="#35368a"/><stop offset="0.33" stop-color="#393a92"/><stop offset="0.50" stop-color="#3c3f9b"/><stop offset="0.67" stop-color="#3f43a3"/><stop offset="0.83" stop-color="#434bab"/><stop offset="1.00" stop-color="#4754b3"/></linearGradient><linearGradient id="g207" gradientUnits="userSpaceOnUse" x1="0" y1="349.00" x2="0" y2="332.00"><stop offset="0.00" stop-color="#323282"/><stop offset="0.17" stop-color="#383990"/><stop offset="0.33" stop-color="#3d409e"/><stop offset="0.50" stop-color="#434cac"/><stop offset="0.67" stop-color="#4b5cba"/><stop offset="0.83" stop-color="#526cc8"/><stop offset="1.00" stop-color="#5980c9"/></linearGradient><linearGradient id="g208" gradientUnits="userSpaceOnUse" x1="0" y1="347.00" x2="0" y2="334.00"><stop offset="0.00" stop-color="#323282"/><stop offset="0.17" stop-color="#36378d"/><stop offset="0.33" stop-color="#3b3d97"/><stop offset="0.50" stop-color="#3f42a2"/><stop offset="0.67" stop-color="#444dad"/><stop offset="0.83" stop-color="#4959b7"/><stop offset="1.00" stop-color="#4f65c2"/></linearGradient><linearGradient id="g209" gradientUnits="userSpaceOnUse" x1="0" y1="347.00" x2="0" y2="333.00"><stop offset="0.00" stop-color="#323282"/><stop offset="0.17" stop-color="#37388d"/><stop offset="0.33" stop-color="#3b3e99"/><stop offset="0.50" stop-color="#4044a4"/><stop offset="0.67" stop-color="#4650b0"/><stop offset="0.83" stop-color="#4b5dbb"/><stop offset="1.00" stop-color="#516bc7"/></linearGradient><linearGradient id="g210" gradientUnits="userSpaceOnUse" x1="0" y1="346.00" x2="0" y2="336.00"><stop offset="0.00" stop-color="#323282"/><stop offset="0.17" stop-color="#35368a"/><stop offset="0.33" stop-color="#393a92"/><stop offset="0.50" stop-color="#3c3f9b"/><stop offset="0.67" stop-color="#3f43a3"/><stop offset="0.83" stop-color="#434bab"/><stop offset="1.00" stop-color="#4754b3"/></linearGradient><linearGradient id="g211" gradientUnits="userSpaceOnUse" x1="0" y1="345.00" x2="0" y2="335.00"><stop offset="0.00" stop-color="#323282"/><stop offset="0.17" stop-color="#35368a"/><stop offset="0.33" stop-color="#393a92"/><stop offset="0.50" stop-color="#3c3f9b"/><stop offset="0.67" stop-color="#3f43a3"/><stop offset="0.83" stop-color="#434bab"/><stop offset="1.00" stop-color="#4754b3"/></linearGradient><linearGradient id="g212" gradientUnits="userSpaceOnUse" x1="0" y1="344.00" x2="0" y2="337.00"><stop offset="0.00" stop-color="#323282"/><stop offset="0.17" stop-color="#343588"/><stop offset="0.33" stop-color="#37388d"/><stop offset="0.50" stop-color="#393b93"/><stop offset="0.67" stop-color="#3b3e99"/><stop offset="0.83" stop-color="#3d419f"/><stop offset="1.00" stop-color="#4044a4"/></linearGradient></defs><rect width="520" height="380" fill="#fff"/><polygon points="31.0,296.8 118.0,293.6 137.5,296.2 137.5,347 41.0,362 31.0,345" fill="#ecf3f5"/><line x1="31.0" y1="298.6" x2="122.0" y2="295.6" stroke="#e2eaec" stroke-width="0.6"/><text x="28.8" y="300.0" font-size="4.0" text-anchor="end" fill="#707070" font-weight="bold">5.0</text><line x1="31.0" y1="308.4" x2="122.0" y2="305.4" stroke="#e2eaec" stroke-width="0.6"/><text x="28.8" y="309.8" font-size="4.0" text-anchor="end" fill="#707070" font-weight="bold">4.0</text><line x1="31.0" y1="317.9" x2="122.0" y2="314.9" stroke="#e2eaec" stroke-width="0.6"/><text x="28.8" y="319.3" font-size="4.0" text-anchor="end" fill="#707070" font-weight="bold">3.0</text><line x1="31.0" y1="327.2" x2="122.0" y2="324.2" stroke="#e2eaec" stroke-width="0.6"/><text x="28.8" y="328.6" font-size="4.0" text-anchor="end" fill="#707070" font-weight="bold">2.0</text><line x1="31.0" y1="336.6" x2="122.0" y2="333.6" stroke="#e2eaec" stroke-width="0.6"/><text x="28.8" y="338.0" font-size="4.0" text-anchor="end" fill="#707070" font-weight="bold">1.0</text><line x1="30.3" y1="346" x2="38.6" y2="365.5" stroke="#b8b8b8" stroke-width="2.2" stroke-dasharray="0.9 0.5"/><line x1="42.80" y1="363.20" x2="42.80" y2="368.80" stroke="#888" stroke-width="1.3" stroke-dasharray="1.3 0.5"/><line x1="47.70" y1="362.44" x2="47.70" y2="368.04" stroke="#888" stroke-width="1.3" stroke-dasharray="1.3 0.5"/><line x1="52.54" y1="361.69" x2="52.54" y2="367.29" stroke="#888" stroke-width="1.3" stroke-dasharray="1.3 0.5"/><line x1="57.31" y1="360.94" x2="57.31" y2="366.54" stroke="#888" stroke-width="1.3" stroke-dasharray="1.3 0.5"/><line x1="62.03" y1="360.21" x2="62.03" y2="365.81" stroke="#888" stroke-width="1.3" stroke-dasharray="1.3 0.5"/><line x1="66.68" y1="359.49" x2="66.68" y2="365.09" stroke="#888" stroke-width="1.3" stroke-dasharray="1.3 0.5"/><line x1="71.27" y1="358.77" x2="71.27" y2="364.37" stroke="#888" stroke-width="1.3" stroke-dasharray="1.3 0.5"/><line x1="75.80" y1="358.07" x2="75.80" y2="363.67" stroke="#888" stroke-width="1.3" stroke-dasharray="1.3 0.5"/><line x1="80.26" y1="357.38" x2="80.26" y2="362.98" stroke="#888" stroke-width="1.3" stroke-dasharray="1.3 0.5"/><line x1="84.67" y1="356.69" x2="84.67" y2="362.29" stroke="#888" stroke-width="1.3" stroke-dasharray="1.3 0.5"/><line x1="89.01" y1="356.02" x2="89.01" y2="361.62" stroke="#888" stroke-width="1.3" stroke-dasharray="1.3 0.5"/><line x1="93.29" y1="355.35" x2="93.29" y2="360.95" stroke="#888" stroke-width="1.3" stroke-dasharray="1.3 0.5"/><line x1="97.51" y1="354.70" x2="97.51" y2="360.30" stroke="#888" stroke-width="1.3" stroke-dasharray="1.3 0.5"/><line x1="101.66" y1="354.05" x2="101.66" y2="359.65" stroke="#888" stroke-width="1.3" stroke-dasharray="1.3 0.5"/><line x1="105.76" y1="353.41" x2="105.76" y2="359.01" stroke="#888" stroke-width="1.3" stroke-dasharray="1.3 0.5"/><line x1="109.79" y1="352.79" x2="109.79" y2="358.39" stroke="#888" stroke-width="1.3" stroke-dasharray="1.3 0.5"/><line x1="113.76" y1="352.17" x2="113.76" y2="357.77" stroke="#888" stroke-width="1.3" stroke-dasharray="1.3 0.5"/><line x1="117.67" y1="351.56" x2="117.67" y2="357.16" stroke="#888" stroke-width="1.3" stroke-dasharray="1.3 0.5"/><line x1="121.51" y1="350.97" x2="121.51" y2="356.57" stroke="#888" stroke-width="1.3" stroke-dasharray="1.3 0.5"/><line x1="125.30" y1="350.38" x2="125.30" y2="355.98" stroke="#888" stroke-width="1.3" stroke-dasharray="1.3 0.5"/><line x1="129.02" y1="349.80" x2="129.02" y2="355.40" stroke="#888" stroke-width="1.3" stroke-dasharray="1.3 0.5"/><line x1="132.68" y1="349.23" x2="132.68" y2="354.83" stroke="#888" stroke-width="1.3" stroke-dasharray="1.3 0.5"/><polygon points="157.8,296.8 244.8,293.6 264.3,296.2 264.3,347 167.8,362 157.8,345" fill="#ecf3f5"/><line x1="157.8" y1="298.6" x2="248.8" y2="295.6" stroke="#e2eaec" stroke-width="0.6"/><text x="155.6" y="300.0" font-size="4.0" text-anchor="end" fill="#707070" font-weight="bold">5.0</text><line x1="157.8" y1="308.4" x2="248.8" y2="305.4" stroke="#e2eaec" stroke-width="0.6"/><text x="155.6" y="309.8" font-size="4.0" text-anchor="end" fill="#707070" font-weight="bold">4.0</text><line x1="157.8" y1="317.9" x2="248.8" y2="314.9" stroke="#e2eaec" stroke-width="0.6"/><text x="155.6" y="319.3" font-size="4.0" text-anchor="end" fill="#707070" font-weight="bold">3.0</text><line x1="157.8" y1="327.2" x2="248.8" y2="324.2" stroke="#e2eaec" stroke-width="0.6"/><text x="155.6" y="328.6" font-size="4.0" text-anchor="end" fill="#707070" font-weight="bold">2.0</text><line x1="157.8" y1="336.6" x2="248.8" y2="333.6" stroke="#e2eaec" stroke-width="0.6"/><text x="155.6" y="338.0" font-size="4.0" text-anchor="end" fill="#707070" font-weight="bold">1.0</text><line x1="157.1" y1="346" x2="165.4" y2="365.5" stroke="#b8b8b8" stroke-width="2.2" stroke-dasharray="0.9 0.5"/><line x1="169.60" y1="363.20" x2="169.60" y2="368.80" stroke="#888" stroke-width="1.3" stroke-dasharray="1.3 0.5"/><line x1="174.50" y1="362.44" x2="174.50" y2="368.04" stroke="#888" stroke-width="1.3" stroke-dasharray="1.3 0.5"/><line x1="179.34" y1="361.69" x2="179.34" y2="367.29" stroke="#888" stroke-width="1.3" stroke-dasharray="1.3 0.5"/><line x1="184.11" y1="360.94" x2="184.11" y2="366.54" stroke="#888" stroke-width="1.3" stroke-dasharray="1.3 0.5"/><line x1="188.83" y1="360.21" x2="188.83" y2="365.81" stroke="#888" stroke-width="1.3" stroke-dasharray="1.3 0.5"/><line x1="193.48" y1="359.49" x2="193.48" y2="365.09" stroke="#888" stroke-width="1.3" stroke-dasharray="1.3 0.5"/><line x1="198.07" y1="358.77" x2="198.07" y2="364.37" stroke="#888" stroke-width="1.3" stroke-dasharray="1.3 0.5"/><line x1="202.60" y1="358.07" x2="202.60" y2="363.67" stroke="#888" stroke-width="1.3" stroke-dasharray="1.3 0.5"/><line x1="207.06" y1="357.38" x2="207.06" y2="362.98" stroke="#888" stroke-width="1.3" stroke-dasharray="1.3 0.5"/><line x1="211.47" y1="356.69" x2="211.47" y2="362.29" stroke="#888" stroke-width="1.3" stroke-dasharray="1.3 0.5"/><line x1="215.81" y1="356.02" x2="215.81" y2="361.62" stroke="#888" stroke-width="1.3" stroke-dasharray="1.3 0.5"/><line x1="220.09" y1="355.35" x2="220.09" y2="360.95" stroke="#888" stroke-width="1.3" stroke-dasharray="1.3 0.5"/><line x1="224.31" y1="354.70" x2="224.31" y2="360.30" stroke="#888" stroke-width="1.3" stroke-dasharray="1.3 0.5"/><line x1="228.46" y1="354.05" x2="228.46" y2="359.65" stroke="#888" stroke-width="1.3" stroke-dasharray="1.3 0.5"/><line x1="232.56" y1="353.41" x2="232.56" y2="359.01" stroke="#888" stroke-width="1.3" stroke-dasharray="1.3 0.5"/><line x1="236.59" y1="352.79" x2="236.59" y2="358.39" stroke="#888" stroke-width="1.3" stroke-dasharray="1.3 0.5"/><line x1="240.56" y1="352.17" x2="240.56" y2="357.77" stroke="#888" stroke-width="1.3" stroke-dasharray="1.3 0.5"/><line x1="244.47" y1="351.56" x2="244.47" y2="357.16" stroke="#888" stroke-width="1.3" stroke-dasharray="1.3 0.5"/><line x1="248.31" y1="350.97" x2="248.31" y2="356.57" stroke="#888" stroke-width="1.3" stroke-dasharray="1.3 0.5"/><line x1="252.10" y1="350.38" x2="252.10" y2="355.98" stroke="#888" stroke-width="1.3" stroke-dasharray="1.3 0.5"/><line x1="255.82" y1="349.80" x2="255.82" y2="355.40" stroke="#888" stroke-width="1.3" stroke-dasharray="1.3 0.5"/><line x1="259.48" y1="349.23" x2="259.48" y2="354.83" stroke="#888" stroke-width="1.3" stroke-dasharray="1.3 0.5"/><polygon points="284.2,296.8 371.2,293.6 390.7,296.2 390.7,347 294.2,362 284.2,345" fill="#ecf3f5"/><line x1="284.2" y1="298.6" x2="375.2" y2="295.6" stroke="#e2eaec" stroke-width="0.6"/><text x="282.0" y="300.0" font-size="4.0" text-anchor="end" fill="#707070" font-weight="bold">5.0</text><line x1="284.2" y1="308.4" x2="375.2" y2="305.4" stroke="#e2eaec" stroke-width="0.6"/><text x="282.0" y="309.8" font-size="4.0" text-anchor="end" fill="#707070" font-weight="bold">4.0</text><line x1="284.2" y1="317.9" x2="375.2" y2="314.9" stroke="#e2eaec" stroke-width="0.6"/><text x="282.0" y="319.3" font-size="4.0" text-anchor="end" fill="#707070" font-weight="bold">3.0</text><line x1="284.2" y1="327.2" x2="375.2" y2="324.2" stroke="#e2eaec" stroke-width="0.6"/><text x="282.0" y="328.6" font-size="4.0" text-anchor="end" fill="#707070" font-weight="bold">2.0</text><line x1="284.2" y1="336.6" x2="375.2" y2="333.6" stroke="#e2eaec" stroke-width="0.6"/><text x="282.0" y="338.0" font-size="4.0" text-anchor="end" fill="#707070" font-weight="bold">1.0</text><line x1="283.5" y1="346" x2="291.8" y2="365.5" stroke="#b8b8b8" stroke-width="2.2" stroke-dasharray="0.9 0.5"/><line x1="296.00" y1="363.20" x2="296.00" y2="368.80" stroke="#888" stroke-width="1.3" stroke-dasharray="1.3 0.5"/><line x1="300.90" y1="362.44" x2="300.90" y2="368.04" stroke="#888" stroke-width="1.3" stroke-dasharray="1.3 0.5"/><line x1="305.74" y1="361.69" x2="305.74" y2="367.29" stroke="#888" stroke-width="1.3" stroke-dasharray="1.3 0.5"/><line x1="310.51" y1="360.94" x2="310.51" y2="366.54" stroke="#888" stroke-width="1.3" stroke-dasharray="1.3 0.5"/><line x1="315.23" y1="360.21" x2="315.23" y2="365.81" stroke="#888" stroke-width="1.3" stroke-dasharray="1.3 0.5"/><line x1="319.88" y1="359.49" x2="319.88" y2="365.09" stroke="#888" stroke-width="1.3" stroke-dasharray="1.3 0.5"/><line x1="324.47" y1="358.77" x2="324.47" y2="364.37" stroke="#888" stroke-width="1.3" stroke-dasharray="1.3 0.5"/><line x1="329.00" y1="358.07" x2="329.00" y2="363.67" stroke="#888" stroke-width="1.3" stroke-dasharray="1.3 0.5"/><line x1="333.46" y1="357.38" x2="333.46" y2="362.98" stroke="#888" stroke-width="1.3" stroke-dasharray="1.3 0.5"/><line x1="337.87" y1="356.69" x2="337.87" y2="362.29" stroke="#888" stroke-width="1.3" stroke-dasharray="1.3 0.5"/><line x1="342.21" y1="356.02" x2="342.21" y2="361.62" stroke="#888" stroke-width="1.3" stroke-dasharray="1.3 0.5"/><line x1="346.49" y1="355.35" x2="346.49" y2="360.95" stroke="#888" stroke-width="1.3" stroke-dasharray="1.3 0.5"/><line x1="350.71" y1="354.70" x2="350.71" y2="360.30" stroke="#888" stroke-width="1.3" stroke-dasharray="1.3 0.5"/><line x1="354.86" y1="354.05" x2="354.86" y2="359.65" stroke="#888" stroke-width="1.3" stroke-dasharray="1.3 0.5"/><line x1="358.96" y1="353.41" x2="358.96" y2="359.01" stroke="#888" stroke-width="1.3" stroke-dasharray="1.3 0.5"/><line x1="362.99" y1="352.79" x2="362.99" y2="358.39" stroke="#888" stroke-width="1.3" stroke-dasharray="1.3 0.5"/><line x1="366.96" y1="352.17" x2="366.96" y2="357.77" stroke="#888" stroke-width="1.3" stroke-dasharray="1.3 0.5"/><line x1="370.87" y1="351.56" x2="370.87" y2="357.16" stroke="#888" stroke-width="1.3" stroke-dasharray="1.3 0.5"/><line x1="374.71" y1="350.97" x2="374.71" y2="356.57" stroke="#888" stroke-width="1.3" stroke-dasharray="1.3 0.5"/><line x1="378.50" y1="350.38" x2="378.50" y2="355.98" stroke="#888" stroke-width="1.3" stroke-dasharray="1.3 0.5"/><line x1="382.22" y1="349.80" x2="382.22" y2="355.40" stroke="#888" stroke-width="1.3" stroke-dasharray="1.3 0.5"/><line x1="385.88" y1="349.23" x2="385.88" y2="354.83" stroke="#888" stroke-width="1.3" stroke-dasharray="1.3 0.5"/><polygon points="411.6,296.8 498.6,293.6 518.1,296.2 518.1,347 421.6,362 411.6,345" fill="#ecf3f5"/><line x1="411.6" y1="298.6" x2="502.6" y2="295.6" stroke="#e2eaec" stroke-width="0.6"/><text x="409.40000000000003" y="300.0" font-size="4.0" text-anchor="end" fill="#707070" font-weight="bold">5.0</text><line x1="411.6" y1="308.4" x2="502.6" y2="305.4" stroke="#e2eaec" stroke-width="0.6"/><text x="409.40000000000003" y="309.8" font-size="4.0" text-anchor="end" fill="#707070" font-weight="bold">4.0</text><line x1="411.6" y1="317.9" x2="502.6" y2="314.9" stroke="#e2eaec" stroke-width="0.6"/><text x="409.40000000000003" y="319.3" font-size="4.0" text-anchor="end" fill="#707070" font-weight="bold">3.0</text><line x1="411.6" y1="327.2" x2="502.6" y2="324.2" stroke="#e2eaec" stroke-width="0.6"/><text x="409.40000000000003" y="328.6" font-size="4.0" text-anchor="end" fill="#707070" font-weight="bold">2.0</text><line x1="411.6" y1="336.6" x2="502.6" y2="333.6" stroke="#e2eaec" stroke-width="0.6"/><text x="409.40000000000003" y="338.0" font-size="4.0" text-anchor="end" fill="#707070" font-weight="bold">1.0</text><line x1="410.90000000000003" y1="346" x2="419.20000000000005" y2="365.5" stroke="#b8b8b8" stroke-width="2.2" stroke-dasharray="0.9 0.5"/><line x1="423.40" y1="363.20" x2="423.40" y2="368.80" stroke="#888" stroke-width="1.3" stroke-dasharray="1.3 0.5"/><line x1="428.30" y1="362.44" x2="428.30" y2="368.04" stroke="#888" stroke-width="1.3" stroke-dasharray="1.3 0.5"/><line x1="433.14" y1="361.69" x2="433.14" y2="367.29" stroke="#888" stroke-width="1.3" stroke-dasharray="1.3 0.5"/><line x1="437.91" y1="360.94" x2="437.91" y2="366.54" stroke="#888" stroke-width="1.3" stroke-dasharray="1.3 0.5"/><line x1="442.63" y1="360.21" x2="442.63" y2="365.81" stroke="#888" stroke-width="1.3" stroke-dasharray="1.3 0.5"/><line x1="447.28" y1="359.49" x2="447.28" y2="365.09" stroke="#888" stroke-width="1.3" stroke-dasharray="1.3 0.5"/><line x1="451.87" y1="358.77" x2="451.87" y2="364.37" stroke="#888" stroke-width="1.3" stroke-dasharray="1.3 0.5"/><line x1="456.40" y1="358.07" x2="456.40" y2="363.67" stroke="#888" stroke-width="1.3" stroke-dasharray="1.3 0.5"/><line x1="460.86" y1="357.38" x2="460.86" y2="362.98" stroke="#888" stroke-width="1.3" stroke-dasharray="1.3 0.5"/><line x1="465.27" y1="356.69" x2="465.27" y2="362.29" stroke="#888" stroke-width="1.3" stroke-dasharray="1.3 0.5"/><line x1="469.61" y1="356.02" x2="469.61" y2="361.62" stroke="#888" stroke-width="1.3" stroke-dasharray="1.3 0.5"/><line x1="473.89" y1="355.35" x2="473.89" y2="360.95" stroke="#888" stroke-width="1.3" stroke-dasharray="1.3 0.5"/><line x1="478.11" y1="354.70" x2="478.11" y2="360.30" stroke="#888" stroke-width="1.3" stroke-dasharray="1.3 0.5"/><line x1="482.26" y1="354.05" x2="482.26" y2="359.65" stroke="#888" stroke-width="1.3" stroke-dasharray="1.3 0.5"/><line x1="486.36" y1="353.41" x2="486.36" y2="359.01" stroke="#888" stroke-width="1.3" stroke-dasharray="1.3 0.5"/><line x1="490.39" y1="352.79" x2="490.39" y2="358.39" stroke="#888" stroke-width="1.3" stroke-dasharray="1.3 0.5"/><line x1="494.36" y1="352.17" x2="494.36" y2="357.77" stroke="#888" stroke-width="1.3" stroke-dasharray="1.3 0.5"/><line x1="498.27" y1="351.56" x2="498.27" y2="357.16" stroke="#888" stroke-width="1.3" stroke-dasharray="1.3 0.5"/><line x1="502.11" y1="350.97" x2="502.11" y2="356.57" stroke="#888" stroke-width="1.3" stroke-dasharray="1.3 0.5"/><line x1="505.90" y1="350.38" x2="505.90" y2="355.98" stroke="#888" stroke-width="1.3" stroke-dasharray="1.3 0.5"/><line x1="509.62" y1="349.80" x2="509.62" y2="355.40" stroke="#888" stroke-width="1.3" stroke-dasharray="1.3 0.5"/><line x1="513.28" y1="349.23" x2="513.28" y2="354.83" stroke="#888" stroke-width="1.3" stroke-dasharray="1.3 0.5"/><polygon points="40.10,360.00 41.15,345.00 41.45,345.00 42.50,360.00" fill="url(#g1)"/><polygon points="40.10,360.00 41.15,345.00 41.20,360.00" fill="#b4b4f0" fill-opacity="0.38"/><polygon points="43.00,355.00 44.00,348.70 45.00,355.00" fill="#3d409e"/><polygon points="43.00,355.00 44.00,348.70 43.90,355.00" fill="#b4b4f0" fill-opacity="0.38"/><polygon points="46.90,346.90 47.75,339.20 48.05,339.20 48.90,346.90" fill="url(#g2)"/><polygon points="46.90,346.90 47.75,339.20 47.80,346.90" fill="#b4b4f0" fill-opacity="0.38"/><polygon points="50.80,360.50 52.15,345.70 52.45,345.70 53.80,360.50" fill="url(#g3)"/><polygon points="50.80,360.50 52.15,345.70 52.20,360.50" fill="#b4b4f0" fill-opacity="0.38"/><polygon points="52.70,361.00 54.35,340.00 54.65,340.00 56.30,361.00" fill="url(#g4)"/><polygon points="52.70,361.00 54.35,340.00 54.40,361.00" fill="#b4b4f0" fill-opacity="0.38"/><polygon points="55.70,361.00 56.85,305.00 57.15,305.00 58.30,361.00" fill="url(#g5)"/><polygon points="55.70,361.00 56.85,305.00 56.90,361.00" fill="#b4b4f0" fill-opacity="0.38"/><polygon points="60.00,349.00 61.50,343.00 63.00,349.00" fill="#3d409d"/><polygon points="60.00,349.00 61.50,343.00 61.40,349.00" fill="#b4b4f0" fill-opacity="0.38"/><polygon points="62.00,353.40 63.35,342.80 63.65,342.80 65.00,353.40" fill="url(#g6)"/><polygon points="62.00,353.40 63.35,342.80 63.40,353.40" fill="#b4b4f0" fill-opacity="0.38"/><polygon points="64.50,352.00 65.85,344.00 66.15,344.00 67.50,352.00" fill="url(#g7)"/><polygon points="64.50,352.00 65.85,344.00 65.90,352.00" fill="#b4b4f0" fill-opacity="0.38"/><polygon points="66.00,353.00 67.50,347.00 69.00,353.00" fill="#3d409d"/><polygon points="66.00,353.00 67.50,347.00 67.40,353.00" fill="#b4b4f0" fill-opacity="0.38"/><polygon points="68.50,353.00 69.85,344.00 70.15,344.00 71.50,353.00" fill="url(#g8)"/><polygon points="68.50,353.00 69.85,344.00 69.90,353.00" fill="#b4b4f0" fill-opacity="0.38"/><polygon points="70.80,352.00 72.00,346.00 73.20,352.00" fill="#3d409d"/><polygon points="70.80,352.00 72.00,346.00 71.90,352.00" fill="#b4b4f0" fill-opacity="0.38"/><polygon points="75.10,357.80 76.25,337.40 76.55,337.40 77.70,357.80" fill="url(#g9)"/><polygon points="75.10,357.80 76.25,337.40 76.30,357.80" fill="#b4b4f0" fill-opacity="0.38"/><polygon points="79.40,340.00 80.40,333.40 81.40,340.00" fill="#3e419f"/><polygon points="79.40,340.00 80.40,333.40 80.30,340.00" fill="#b4b4f0" fill-opacity="0.38"/><polygon points="81.50,354.50 82.85,336.00 83.15,336.00 84.50,354.50" fill="url(#g10)"/><polygon points="81.50,354.50 82.85,336.00 82.90,354.50" fill="#b4b4f0" fill-opacity="0.38"/><polygon points="84.00,352.00 85.35,338.00 85.65,338.00 87.00,352.00" fill="url(#g11)"/><polygon points="84.00,352.00 85.35,338.00 85.40,352.00" fill="#b4b4f0" fill-opacity="0.38"/><polygon points="87.30,345.00 88.15,334.70 88.45,334.70 89.30,345.00" fill="url(#g12)"/><polygon points="87.30,345.00 88.15,334.70 88.20,345.00" fill="#b4b4f0" fill-opacity="0.38"/><polygon points="88.70,354.00 90.35,330.00 90.65,330.00 92.30,354.00" fill="url(#g13)"/><polygon points="88.70,354.00 90.35,330.00 90.40,354.00" fill="#b4b4f0" fill-opacity="0.38"/><polygon points="92.00,354.50 93.35,322.90 93.65,322.90 95.00,354.50" fill="url(#g14)"/><polygon points="92.00,354.50 93.35,322.90 93.40,354.50" fill="#b4b4f0" fill-opacity="0.38"/><polygon points="93.70,352.00 95.35,333.00 95.65,333.00 97.30,352.00" fill="url(#g15)"/><polygon points="93.70,352.00 95.35,333.00 95.40,352.00" fill="#b4b4f0" fill-opacity="0.38"/><polygon points="96.00,352.00 97.35,335.00 97.65,335.00 99.00,352.00" fill="url(#g16)"/><polygon points="96.00,352.00 97.35,335.00 97.40,352.00" fill="#b4b4f0" fill-opacity="0.38"/><polygon points="100.90,350.50 101.95,329.20 102.25,329.20 103.30,350.50" fill="url(#g17)"/><polygon points="100.90,350.50 101.95,329.20 102.00,350.50" fill="#b4b4f0" fill-opacity="0.38"/><polygon points="103.50,348.20 104.85,331.60 105.15,331.60 106.50,348.20" fill="url(#g18)"/><polygon points="103.50,348.20 104.85,331.60 104.90,348.20" fill="#b4b4f0" fill-opacity="0.38"/><polygon points="106.00,348.20 107.35,333.00 107.65,333.00 109.00,348.20" fill="url(#g19)"/><polygon points="106.00,348.20 107.35,333.00 107.40,348.20" fill="#b4b4f0" fill-opacity="0.38"/><polygon points="109.60,347.40 110.65,310.30 110.95,310.30 112.00,347.40" fill="url(#g20)"/><polygon points="109.60,347.40 110.65,310.30 110.70,347.40" fill="#b4b4f0" fill-opacity="0.38"/><polygon points="112.50,347.40 113.85,330.00 114.15,330.00 115.50,347.40" fill="url(#g21)"/><polygon points="112.50,347.40 113.85,330.00 113.90,347.40" fill="#b4b4f0" fill-opacity="0.38"/><polygon points="115.30,347.00 116.35,333.00 116.65,333.00 117.70,347.00" fill="url(#g22)"/><polygon points="115.30,347.00 116.35,333.00 116.40,347.00" fill="#b4b4f0" fill-opacity="0.38"/><polygon points="119.50,349.00 120.55,312.60 120.85,312.60 121.90,349.00" fill="url(#g23)"/><polygon points="119.50,349.00 120.55,312.60 120.60,349.00" fill="#b4b4f0" fill-opacity="0.38"/><polygon points="122.10,349.00 122.95,333.20 123.25,333.20 124.10,349.00" fill="url(#g24)"/><polygon points="122.10,349.00 122.95,333.20 123.00,349.00" fill="#b4b4f0" fill-opacity="0.38"/><polygon points="130.90,346.60 131.95,304.70 132.25,304.70 133.30,346.60" fill="url(#g25)"/><polygon points="130.90,346.60 131.95,304.70 132.00,346.60" fill="#b4b4f0" fill-opacity="0.38"/><polygon points="165.30,346.20 166.15,336.00 166.45,336.00 167.30,346.20" fill="url(#g26)"/><polygon points="165.30,346.20 166.15,336.00 166.20,346.20" fill="#b4b4f0" fill-opacity="0.38"/><polygon points="172.60,343.30 173.45,331.00 173.75,331.00 174.60,343.30" fill="url(#g27)"/><polygon points="172.60,343.30 173.45,331.00 173.50,343.30" fill="#b4b4f0" fill-opacity="0.38"/><polygon points="174.50,355.00 176.35,335.00 176.65,335.00 178.50,355.00" fill="url(#g28)"/><polygon points="174.50,355.00 176.35,335.00 176.40,355.00" fill="#b4b4f0" fill-opacity="0.38"/><polygon points="177.00,357.80 178.85,340.00 179.15,340.00 181.00,357.80" fill="url(#g29)"/><polygon points="177.00,357.80 178.85,340.00 178.90,357.80" fill="#b4b4f0" fill-opacity="0.38"/><polygon points="180.50,342.50 181.35,331.00 181.65,331.00 182.50,342.50" fill="url(#g30)"/><polygon points="180.50,342.50 181.35,331.00 181.40,342.50" fill="#b4b4f0" fill-opacity="0.38"/><polygon points="180.50,357.00 181.85,345.00 182.15,345.00 183.50,357.00" fill="url(#g31)"/><polygon points="180.50,357.00 181.85,345.00 181.90,357.00" fill="#b4b4f0" fill-opacity="0.38"/><polygon points="183.70,354.00 184.55,344.00 184.85,344.00 185.70,354.00" fill="url(#g32)"/><polygon points="183.70,354.00 184.55,344.00 184.60,354.00" fill="#b4b4f0" fill-opacity="0.38"/><polygon points="189.50,349.00 190.35,340.40 190.65,340.40 191.50,349.00" fill="url(#g33)"/><polygon points="189.50,349.00 190.35,340.40 190.40,349.00" fill="#b4b4f0" fill-opacity="0.38"/><polygon points="192.00,341.80 192.85,333.10 193.15,333.10 194.00,341.80" fill="url(#g34)"/><polygon points="192.00,341.80 192.85,333.10 192.90,341.80" fill="#b4b4f0" fill-opacity="0.38"/><polygon points="198.60,340.00 199.45,328.10 199.75,328.10 200.60,340.00" fill="url(#g35)"/><polygon points="198.60,340.00 199.45,328.10 199.50,340.00" fill="#b4b4f0" fill-opacity="0.38"/><polygon points="204.10,350.20 204.95,342.00 205.25,342.00 206.10,350.20" fill="url(#g36)"/><polygon points="204.10,350.20 204.95,342.00 205.00,350.20" fill="#b4b4f0" fill-opacity="0.38"/><polygon points="211.50,343.80 212.35,329.00 212.65,329.00 213.50,343.80" fill="url(#g37)"/><polygon points="211.50,343.80 212.35,329.00 212.40,343.80" fill="#b4b4f0" fill-opacity="0.38"/><polygon points="215.00,351.20 216.05,336.40 216.35,336.40 217.40,351.20" fill="url(#g38)"/><polygon points="215.00,351.20 216.05,336.40 216.10,351.20" fill="#b4b4f0" fill-opacity="0.38"/><polygon points="217.80,344.70 218.85,316.00 219.15,316.00 220.20,344.70" fill="url(#g39)"/><polygon points="217.80,344.70 218.85,316.00 218.90,344.70" fill="#b4b4f0" fill-opacity="0.38"/><polygon points="221.40,352.00 222.45,340.00 222.75,340.00 223.80,352.00" fill="url(#g40)"/><polygon points="221.40,352.00 222.45,340.00 222.50,352.00" fill="#b4b4f0" fill-opacity="0.38"/><polygon points="222.30,341.00 223.35,314.00 223.65,314.00 224.70,341.00" fill="url(#g41)"/><polygon points="222.30,341.00 223.35,314.00 223.40,341.00" fill="#b4b4f0" fill-opacity="0.38"/><polygon points="226.00,348.40 227.05,336.40 227.35,336.40 228.40,348.40" fill="url(#g42)"/><polygon points="226.00,348.40 227.05,336.40 227.10,348.40" fill="#b4b4f0" fill-opacity="0.38"/><polygon points="228.30,343.80 229.35,297.00 229.65,297.00 230.70,343.80" fill="url(#g43)"/><polygon points="228.30,343.80 229.35,297.00 229.40,343.80" fill="#b4b4f0" fill-opacity="0.38"/><polygon points="230.60,344.70 231.65,322.60 231.95,322.60 233.00,344.70" fill="url(#g44)"/><polygon points="230.60,344.70 231.65,322.60 231.70,344.70" fill="#b4b4f0" fill-opacity="0.38"/><polygon points="232.50,341.00 233.55,307.00 233.85,307.00 234.90,341.00" fill="url(#g45)"/><polygon points="232.50,341.00 233.55,307.00 233.60,341.00" fill="#b4b4f0" fill-opacity="0.38"/><polygon points="236.50,346.60 237.55,306.00 237.85,306.00 238.90,346.60" fill="url(#g46)"/><polygon points="236.50,346.60 237.55,306.00 237.60,346.60" fill="#b4b4f0" fill-opacity="0.38"/><polygon points="237.60,344.70 238.65,322.60 238.95,322.60 240.00,344.70" fill="url(#g47)"/><polygon points="237.60,344.70 238.65,322.60 238.70,344.70" fill="#b4b4f0" fill-opacity="0.38"/><polygon points="241.30,343.80 242.35,311.60 242.65,311.60 243.70,343.80" fill="url(#g48)"/><polygon points="241.30,343.80 242.35,311.60 242.40,343.80" fill="#b4b4f0" fill-opacity="0.38"/><polygon points="243.70,344.70 244.55,326.30 244.85,326.30 245.70,344.70" fill="url(#g49)"/><polygon points="243.70,344.70 244.55,326.30 244.60,344.70" fill="#b4b4f0" fill-opacity="0.38"/><polygon points="246.60,342.90 247.65,320.80 247.95,320.80 249.00,342.90" fill="url(#g50)"/><polygon points="246.60,342.90 247.65,320.80 247.70,342.90" fill="#b4b4f0" fill-opacity="0.38"/><polygon points="256.30,345.60 257.15,331.80 257.45,331.80 258.30,345.60" fill="url(#g51)"/><polygon points="256.30,345.60 257.15,331.80 257.20,345.60" fill="#b4b4f0" fill-opacity="0.38"/><polygon points="259.00,345.60 260.05,308.00 260.35,308.00 261.40,345.60" fill="url(#g52)"/><polygon points="259.00,345.60 260.05,308.00 260.10,345.60" fill="#b4b4f0" fill-opacity="0.38"/><polygon points="283.19,346.50 284.34,338.73 284.64,338.73 285.79,346.50" fill="url(#g53)"/><polygon points="283.19,346.50 284.34,338.73 284.39,346.50" fill="#b4b4f0" fill-opacity="0.38"/><polygon points="292.87,345.17 294.00,340.59 295.13,345.17" fill="#3a3c96"/><polygon points="292.87,345.17 294.00,340.59 293.90,345.17" fill="#b4b4f0" fill-opacity="0.38"/><polygon points="296.38,344.50 297.65,334.03 297.95,334.03 299.21,344.50" fill="url(#g54)"/><polygon points="296.38,344.50 297.65,334.03 297.70,344.50" fill="#b4b4f0" fill-opacity="0.38"/><polygon points="310.31,342.50 311.42,334.19 311.72,334.19 312.84,342.50" fill="url(#g55)"/><polygon points="310.31,342.50 311.42,334.19 311.47,342.50" fill="#b4b4f0" fill-opacity="0.38"/><polygon points="323.12,340.50 324.12,331.45 324.42,331.45 325.42,340.50" fill="url(#g56)"/><polygon points="323.12,340.50 324.12,331.45 324.17,340.50" fill="#b4b4f0" fill-opacity="0.38"/><polygon points="283.98,347.64 285.18,337.95 285.48,337.95 286.69,347.64" fill="url(#g57)"/><polygon points="283.98,347.64 285.18,337.95 285.23,347.64" fill="#b4b4f0" fill-opacity="0.38"/><polygon points="301.35,344.98 302.66,335.67 302.96,335.67 304.28,344.98" fill="url(#g58)"/><polygon points="301.35,344.98 302.66,335.67 302.71,344.98" fill="#b4b4f0" fill-opacity="0.38"/><polygon points="309.73,343.64 311.21,338.33 312.69,343.64" fill="#3b3e9a"/><polygon points="309.73,343.64 311.21,338.33 311.11,343.64" fill="#b4b4f0" fill-opacity="0.38"/><polygon points="314.47,342.98 315.58,334.72 315.88,334.72 316.98,342.98" fill="url(#g59)"/><polygon points="314.47,342.98 315.58,334.72 315.63,342.98" fill="#b4b4f0" fill-opacity="0.38"/><polygon points="319.27,342.31 320.56,335.70 321.85,342.31" fill="#3e419f"/><polygon points="319.27,342.31 320.56,335.70 320.46,342.31" fill="#b4b4f0" fill-opacity="0.38"/><polygon points="307.25,345.45 308.56,335.79 308.86,335.79 310.16,345.45" fill="url(#g60)"/><polygon points="307.25,345.45 308.56,335.79 308.61,345.45" fill="#b4b4f0" fill-opacity="0.38"/><polygon points="320.08,343.45 321.07,333.96 321.37,333.96 322.36,343.45" fill="url(#g61)"/><polygon points="320.08,343.45 321.07,333.96 321.12,343.45" fill="#b4b4f0" fill-opacity="0.38"/><polygon points="325.23,342.79 326.12,333.16 326.42,333.16 327.31,342.79" fill="url(#g62)"/><polygon points="325.23,342.79 326.12,333.16 326.17,342.79" fill="#b4b4f0" fill-opacity="0.38"/><polygon points="289.40,349.26 290.79,343.86 292.17,349.26" fill="#3c3e9a"/><polygon points="289.40,349.26 290.79,343.86 290.69,349.26" fill="#b4b4f0" fill-opacity="0.38"/><polygon points="297.79,347.93 299.00,339.74 299.30,339.74 300.51,347.93" fill="url(#g63)"/><polygon points="297.79,347.93 299.00,339.74 299.05,347.93" fill="#b4b4f0" fill-opacity="0.38"/><polygon points="303.78,347.26 304.88,337.48 305.18,337.48 306.28,347.26" fill="url(#g64)"/><polygon points="303.78,347.26 304.88,337.48 304.93,347.26" fill="#b4b4f0" fill-opacity="0.38"/><polygon points="312.17,345.93 313.18,340.97 314.20,345.93" fill="#3b3d98"/><polygon points="312.17,345.93 313.18,340.97 313.08,345.93" fill="#b4b4f0" fill-opacity="0.38"/><polygon points="316.50,345.26 317.43,338.31 317.73,338.31 318.66,345.26" fill="url(#g65)"/><polygon points="316.50,345.26 317.43,338.31 317.48,345.26" fill="#b4b4f0" fill-opacity="0.38"/><polygon points="320.01,344.60 321.34,334.89 321.64,334.89 322.96,344.60" fill="url(#g66)"/><polygon points="320.01,344.60 321.34,334.89 321.39,344.60" fill="#b4b4f0" fill-opacity="0.38"/><polygon points="286.12,351.07 287.30,343.81 287.60,343.81 288.77,351.07" fill="url(#g67)"/><polygon points="286.12,351.07 287.30,343.81 287.35,351.07" fill="#b4b4f0" fill-opacity="0.38"/><polygon points="312.13,347.07 313.13,338.25 313.43,338.25 314.43,347.07" fill="url(#g68)"/><polygon points="312.13,347.07 313.13,338.25 313.18,347.07" fill="#b4b4f0" fill-opacity="0.38"/><polygon points="287.21,352.21 288.07,345.22 288.37,345.22 289.23,352.21" fill="url(#g69)"/><polygon points="287.21,352.21 288.07,345.22 288.12,352.21" fill="#b4b4f0" fill-opacity="0.38"/><polygon points="299.84,350.21 301.03,341.95 301.33,341.95 302.52,350.21" fill="url(#g70)"/><polygon points="299.84,350.21 301.03,341.95 301.08,350.21" fill="#b4b4f0" fill-opacity="0.38"/><polygon points="304.99,349.55 305.85,340.81 306.15,340.81 307.01,349.55" fill="url(#g71)"/><polygon points="304.99,349.55 305.85,340.81 305.90,349.55" fill="#b4b4f0" fill-opacity="0.38"/><polygon points="309.61,348.88 310.59,340.32 310.89,340.32 311.86,348.88" fill="url(#g72)"/><polygon points="309.61,348.88 310.59,340.32 310.64,348.88" fill="#b4b4f0" fill-opacity="0.38"/><polygon points="321.66,346.88 322.69,340.20 322.99,340.20 324.03,346.88" fill="url(#g73)"/><polygon points="321.66,346.88 322.69,340.20 322.74,346.88" fill="#b4b4f0" fill-opacity="0.38"/><polygon points="288.19,353.36 289.06,346.59 289.36,346.59 290.22,353.36" fill="url(#g74)"/><polygon points="288.19,353.36 289.06,346.59 289.11,353.36" fill="#b4b4f0" fill-opacity="0.38"/><polygon points="301.28,351.36 302.40,345.52 303.52,351.36" fill="#3c3f9c"/><polygon points="301.28,351.36 302.40,345.52 302.30,351.36" fill="#b4b4f0" fill-opacity="0.38"/><polygon points="305.56,350.69 306.46,343.58 306.76,343.58 307.66,350.69" fill="url(#g75)"/><polygon points="305.56,350.69 306.46,343.58 306.51,350.69" fill="#b4b4f0" fill-opacity="0.38"/><polygon points="309.99,350.02 311.21,343.52 312.43,350.02" fill="#3d419f"/><polygon points="309.99,350.02 311.21,343.52 311.11,350.02" fill="#b4b4f0" fill-opacity="0.38"/><polygon points="318.24,348.69 319.68,342.17 321.12,348.69" fill="#3e419f"/><polygon points="318.24,348.69 319.68,342.17 319.58,348.69" fill="#b4b4f0" fill-opacity="0.38"/><polygon points="327.15,347.36 328.25,342.13 329.34,347.36" fill="#3b3e99"/><polygon points="327.15,347.36 328.25,342.13 328.15,347.36" fill="#b4b4f0" fill-opacity="0.38"/><polygon points="297.38,353.17 298.70,347.00 300.02,353.17" fill="#3d409d"/><polygon points="297.38,353.17 298.70,347.00 298.60,353.17" fill="#b4b4f0" fill-opacity="0.38"/><polygon points="305.24,351.83 306.64,346.56 308.04,351.83" fill="#3b3e99"/><polygon points="305.24,351.83 306.64,346.56 306.54,351.83" fill="#b4b4f0" fill-opacity="0.38"/><polygon points="310.01,351.17 311.22,344.59 312.43,351.17" fill="#3e419f"/><polygon points="310.01,351.17 311.22,344.59 311.12,351.17" fill="#b4b4f0" fill-opacity="0.38"/><polygon points="314.18,350.50 315.04,340.48 315.34,340.48 316.19,350.50" fill="url(#g76)"/><polygon points="314.18,350.50 315.04,340.48 315.09,350.50" fill="#b4b4f0" fill-opacity="0.38"/><polygon points="289.70,355.64 290.66,345.44 290.96,345.44 291.92,355.64" fill="url(#g77)"/><polygon points="289.70,355.64 290.66,345.44 290.71,355.64" fill="#b4b4f0" fill-opacity="0.38"/><polygon points="310.56,352.31 311.60,345.76 312.63,352.31" fill="#3e419f"/><polygon points="310.56,352.31 311.60,345.76 311.50,352.31" fill="#b4b4f0" fill-opacity="0.38"/><polygon points="318.62,350.98 319.92,341.62 320.22,341.62 321.52,350.98" fill="url(#g78)"/><polygon points="318.62,350.98 319.92,341.62 319.97,350.98" fill="#b4b4f0" fill-opacity="0.38"/><polygon points="302.27,354.79 303.27,345.81 303.57,345.81 304.57,354.79" fill="url(#g79)"/><polygon points="302.27,354.79 303.27,345.81 303.32,354.79" fill="#b4b4f0" fill-opacity="0.38"/><polygon points="316.10,352.79 317.12,342.65 317.42,342.65 318.44,352.79" fill="url(#g80)"/><polygon points="316.10,352.79 317.12,342.65 317.17,352.79" fill="#b4b4f0" fill-opacity="0.38"/><polygon points="320.05,352.12 321.29,342.45 321.59,342.45 322.83,352.12" fill="url(#g81)"/><polygon points="320.05,352.12 321.29,342.45 321.34,352.12" fill="#b4b4f0" fill-opacity="0.38"/><polygon points="324.50,351.45 325.91,345.77 327.32,351.45" fill="#3c3f9b"/><polygon points="324.50,351.45 325.91,345.77 325.81,351.45" fill="#b4b4f0" fill-opacity="0.38"/><polygon points="329.51,350.79 330.76,341.54 331.06,341.54 332.31,350.79" fill="url(#g82)"/><polygon points="329.51,350.79 330.76,341.54 330.81,350.79" fill="#b4b4f0" fill-opacity="0.38"/><polygon points="295.42,357.26 296.30,348.99 296.60,348.99 297.47,357.26" fill="url(#g83)"/><polygon points="295.42,357.26 296.30,348.99 296.35,357.26" fill="#b4b4f0" fill-opacity="0.38"/><polygon points="299.08,356.60 300.29,350.48 301.50,356.60" fill="#3d409d"/><polygon points="299.08,356.60 300.29,350.48 300.19,356.60" fill="#b4b4f0" fill-opacity="0.38"/><polygon points="311.73,354.60 312.79,349.77 313.86,354.60" fill="#3b3d97"/><polygon points="311.73,354.60 312.79,349.77 312.69,354.60" fill="#b4b4f0" fill-opacity="0.38"/><polygon points="317.30,353.93 318.19,343.58 318.49,343.58 319.38,353.93" fill="url(#g84)"/><polygon points="317.30,353.93 318.19,343.58 318.24,353.93" fill="#b4b4f0" fill-opacity="0.38"/><polygon points="324.97,352.60 326.30,346.21 327.62,352.60" fill="#3d419e"/><polygon points="324.97,352.60 326.30,346.21 326.20,352.60" fill="#b4b4f0" fill-opacity="0.38"/><polygon points="290.83,359.07 291.89,353.42 292.95,359.07" fill="#3c3f9b"/><polygon points="290.83,359.07 291.89,353.42 291.79,359.07" fill="#b4b4f0" fill-opacity="0.38"/><polygon points="303.61,357.07 304.79,352.09 305.98,357.07" fill="#3b3d98"/><polygon points="303.61,357.07 304.79,352.09 304.69,357.07" fill="#b4b4f0" fill-opacity="0.38"/><polygon points="317.43,355.07 318.50,345.76 318.80,345.76 319.86,355.07" fill="url(#g85)"/><polygon points="317.43,355.07 318.50,345.76 318.55,355.07" fill="#b4b4f0" fill-opacity="0.38"/><polygon points="321.95,354.40 323.01,346.93 323.31,346.93 324.37,354.40" fill="url(#g86)"/><polygon points="321.95,354.40 323.01,346.93 323.06,354.40" fill="#b4b4f0" fill-opacity="0.38"/><polygon points="292.12,360.21 293.01,352.50 293.31,352.50 294.19,360.21" fill="url(#g87)"/><polygon points="292.12,360.21 293.01,352.50 293.06,360.21" fill="#b4b4f0" fill-opacity="0.38"/><polygon points="296.36,359.55 297.68,352.49 297.98,352.49 299.30,359.55" fill="url(#g88)"/><polygon points="296.36,359.55 297.68,352.49 297.73,359.55" fill="#b4b4f0" fill-opacity="0.38"/><polygon points="300.94,358.88 301.92,348.99 302.22,348.99 303.20,358.88" fill="url(#g89)"/><polygon points="300.94,358.88 301.92,348.99 301.97,358.88" fill="#b4b4f0" fill-opacity="0.38"/><polygon points="309.18,357.55 310.48,348.17 310.78,348.17 312.07,357.55" fill="url(#g90)"/><polygon points="309.18,357.55 310.48,348.17 310.53,357.55" fill="#b4b4f0" fill-opacity="0.38"/><polygon points="330.41,354.21 331.33,346.19 331.63,346.19 332.55,354.21" fill="url(#g91)"/><polygon points="330.41,354.21 331.33,346.19 331.38,354.21" fill="#b4b4f0" fill-opacity="0.38"/><polygon points="295.82,360.69 297.26,355.64 298.70,360.69" fill="#3b3d98"/><polygon points="295.82,360.69 297.26,355.64 297.16,360.69" fill="#b4b4f0" fill-opacity="0.38"/><polygon points="301.77,360.02 302.83,355.38 303.89,360.02" fill="#3a3d97"/><polygon points="301.77,360.02 302.83,355.38 302.73,360.02" fill="#b4b4f0" fill-opacity="0.38"/><polygon points="331.61,355.36 332.82,346.25 333.12,346.25 334.33,355.36" fill="url(#g92)"/><polygon points="331.61,355.36 332.82,346.25 332.87,355.36" fill="#b4b4f0" fill-opacity="0.38"/><polygon points="293.86,362.50 294.75,353.51 295.05,353.51 295.93,362.50" fill="url(#g93)"/><polygon points="293.86,362.50 294.75,353.51 294.80,362.50" fill="#b4b4f0" fill-opacity="0.38"/><polygon points="297.98,361.83 298.96,353.95 299.26,353.95 300.23,361.83" fill="url(#g94)"/><polygon points="297.98,361.83 298.96,353.95 299.01,361.83" fill="#b4b4f0" fill-opacity="0.38"/><polygon points="301.77,361.17 303.15,355.17 304.52,361.17" fill="#3d409d"/><polygon points="301.77,361.17 303.15,355.17 303.05,361.17" fill="#b4b4f0" fill-opacity="0.38"/><polygon points="306.00,360.50 307.03,353.80 307.33,353.80 308.35,360.50" fill="url(#g95)"/><polygon points="306.00,360.50 307.03,353.80 307.08,360.50" fill="#b4b4f0" fill-opacity="0.38"/><polygon points="310.24,359.83 311.72,354.83 313.21,359.83" fill="#3b3d98"/><polygon points="310.24,359.83 311.72,354.83 311.62,359.83" fill="#b4b4f0" fill-opacity="0.38"/><polygon points="314.22,359.17 315.41,350.18 315.71,350.18 316.91,359.17" fill="url(#g96)"/><polygon points="314.22,359.17 315.41,350.18 315.46,359.17" fill="#b4b4f0" fill-opacity="0.38"/><polygon points="301.40,350.00 302.45,319.00 302.75,319.00 303.80,350.00" fill="url(#g97)"/><polygon points="301.40,350.00 302.45,319.00 302.50,350.00" fill="#b4b4f0" fill-opacity="0.38"/><polygon points="331.30,340.40 332.30,334.60 333.30,340.40" fill="#3c3f9c"/><polygon points="331.30,340.40 332.30,334.60 332.20,340.40" fill="#b4b4f0" fill-opacity="0.38"/><polygon points="333.30,353.50 334.35,344.80 334.65,344.80 335.70,353.50" fill="url(#g98)"/><polygon points="333.30,353.50 334.35,344.80 334.40,353.50" fill="#b4b4f0" fill-opacity="0.38"/><polygon points="337.60,352.00 338.65,343.30 338.95,343.30 340.00,352.00" fill="url(#g99)"/><polygon points="337.60,352.00 338.65,343.30 338.70,352.00" fill="#b4b4f0" fill-opacity="0.38"/><polygon points="341.30,339.00 342.35,320.00 342.65,320.00 343.70,339.00" fill="url(#g100)"/><polygon points="341.30,339.00 342.35,320.00 342.40,339.00" fill="#b4b4f0" fill-opacity="0.38"/><polygon points="340.70,355.00 341.85,344.80 342.15,344.80 343.30,355.00" fill="url(#g101)"/><polygon points="340.70,355.00 341.85,344.80 341.90,355.00" fill="#b4b4f0" fill-opacity="0.38"/><polygon points="343.40,354.00 344.45,345.00 344.75,345.00 345.80,354.00" fill="url(#g102)"/><polygon points="343.40,354.00 344.45,345.00 344.50,354.00" fill="#b4b4f0" fill-opacity="0.38"/><polygon points="344.80,338.30 345.65,330.30 345.95,330.30 346.80,338.30" fill="url(#g103)"/><polygon points="344.80,338.30 345.65,330.30 345.70,338.30" fill="#b4b4f0" fill-opacity="0.38"/><polygon points="346.50,339.00 347.35,331.70 347.65,331.70 348.50,339.00" fill="url(#g104)"/><polygon points="346.50,339.00 347.35,331.70 347.40,339.00" fill="#b4b4f0" fill-opacity="0.38"/><polygon points="348.50,353.50 349.55,339.00 349.85,339.00 350.90,353.50" fill="url(#g105)"/><polygon points="348.50,353.50 349.55,339.00 349.60,353.50" fill="#b4b4f0" fill-opacity="0.38"/><polygon points="352.80,341.90 353.85,324.50 354.15,324.50 355.20,341.90" fill="url(#g106)"/><polygon points="352.80,341.90 353.85,324.50 353.90,341.90" fill="#b4b4f0" fill-opacity="0.38"/><polygon points="354.50,338.00 355.65,302.00 355.95,302.00 357.10,338.00" fill="url(#g107)"/><polygon points="354.50,338.00 355.65,302.00 355.70,338.00" fill="#b4b4f0" fill-opacity="0.38"/><polygon points="356.50,352.00 357.55,339.00 357.85,339.00 358.90,352.00" fill="url(#g108)"/><polygon points="356.50,352.00 357.55,339.00 357.60,352.00" fill="#b4b4f0" fill-opacity="0.38"/><polygon points="360.10,336.00 361.25,295.50 361.55,295.50 362.70,336.00" fill="url(#g109)"/><polygon points="360.10,336.00 361.25,295.50 361.30,336.00" fill="#b4b4f0" fill-opacity="0.38"/><polygon points="362.90,345.00 364.05,322.00 364.35,322.00 365.50,345.00" fill="url(#g110)"/><polygon points="362.90,345.00 364.05,322.00 364.10,345.00" fill="#b4b4f0" fill-opacity="0.38"/><polygon points="366.60,349.00 367.75,327.80 368.05,327.80 369.20,349.00" fill="url(#g111)"/><polygon points="366.60,349.00 367.75,327.80 367.80,349.00" fill="#b4b4f0" fill-opacity="0.38"/><polygon points="369.50,345.00 370.55,329.60 370.85,329.60 371.90,345.00" fill="url(#g112)"/><polygon points="369.50,345.00 370.55,329.60 370.60,345.00" fill="#b4b4f0" fill-opacity="0.38"/><polygon points="372.10,345.20 373.25,323.00 373.55,323.00 374.70,345.20" fill="url(#g113)"/><polygon points="372.10,345.20 373.25,323.00 373.30,345.20" fill="#b4b4f0" fill-opacity="0.38"/><polygon points="375.00,347.00 376.05,334.20 376.35,334.20 377.40,347.00" fill="url(#g114)"/><polygon points="375.00,347.00 376.05,334.20 376.10,347.00" fill="#b4b4f0" fill-opacity="0.38"/><polygon points="376.90,345.20 377.85,337.00 378.15,337.00 379.10,345.20" fill="url(#g115)"/><polygon points="376.90,345.20 377.85,337.00 377.90,345.20" fill="#b4b4f0" fill-opacity="0.38"/><polygon points="323.70,353.00 324.85,339.00 325.15,339.00 326.30,353.00" fill="url(#g116)"/><polygon points="323.70,353.00 324.85,339.00 324.90,353.00" fill="#b4b4f0" fill-opacity="0.38"/><polygon points="326.80,352.00 327.85,341.00 328.15,341.00 329.20,352.00" fill="url(#g117)"/><polygon points="326.80,352.00 327.85,341.00 327.90,352.00" fill="#b4b4f0" fill-opacity="0.38"/><polygon points="350.80,350.00 351.85,340.00 352.15,340.00 353.20,350.00" fill="url(#g118)"/><polygon points="350.80,350.00 351.85,340.00 351.90,350.00" fill="#b4b4f0" fill-opacity="0.38"/><polygon points="358.30,348.00 359.35,338.00 359.65,338.00 360.70,348.00" fill="url(#g119)"/><polygon points="358.30,348.00 359.35,338.00 359.40,348.00" fill="#b4b4f0" fill-opacity="0.38"/><polygon points="364.90,343.00 365.85,336.00 366.15,336.00 367.10,343.00" fill="url(#g120)"/><polygon points="364.90,343.00 365.85,336.00 365.90,343.00" fill="#b4b4f0" fill-opacity="0.38"/><polygon points="410.86,346.50 411.78,339.07 412.08,339.07 413.01,346.50" fill="url(#g121)"/><polygon points="410.86,346.50 411.78,339.07 411.83,346.50" fill="#b4b4f0" fill-opacity="0.38"/><polygon points="415.75,345.83 417.00,335.72 417.30,335.72 418.55,345.83" fill="url(#g122)"/><polygon points="415.75,345.83 417.00,335.72 417.05,345.83" fill="#b4b4f0" fill-opacity="0.38"/><polygon points="423.80,344.50 424.74,333.17 425.04,333.17 425.97,344.50" fill="url(#g123)"/><polygon points="423.80,344.50 424.74,333.17 424.79,344.50" fill="#b4b4f0" fill-opacity="0.38"/><polygon points="428.89,343.83 430.16,335.40 430.46,335.40 431.72,343.83" fill="url(#g124)"/><polygon points="428.89,343.83 430.16,335.40 430.21,343.83" fill="#b4b4f0" fill-opacity="0.38"/><polygon points="441.60,341.83 442.82,332.54 443.12,332.54 444.34,341.83" fill="url(#g125)"/><polygon points="441.60,341.83 442.82,332.54 442.87,341.83" fill="#b4b4f0" fill-opacity="0.38"/><polygon points="420.56,346.31 421.67,334.36 421.97,334.36 423.07,346.31" fill="url(#g126)"/><polygon points="420.56,346.31 421.67,334.36 421.72,346.31" fill="#b4b4f0" fill-opacity="0.38"/><polygon points="423.80,345.64 425.11,334.88 425.41,334.88 426.73,345.64" fill="url(#g127)"/><polygon points="423.80,345.64 425.11,334.88 425.16,345.64" fill="#b4b4f0" fill-opacity="0.38"/><polygon points="437.74,343.64 439.03,328.96 439.33,328.96 440.62,343.64" fill="url(#g128)"/><polygon points="437.74,343.64 439.03,328.96 439.08,343.64" fill="#b4b4f0" fill-opacity="0.38"/><polygon points="416.65,348.12 417.58,336.23 417.88,336.23 418.81,348.12" fill="url(#g129)"/><polygon points="416.65,348.12 417.58,336.23 417.63,348.12" fill="#b4b4f0" fill-opacity="0.38"/><polygon points="420.47,347.45 421.34,333.64 421.64,333.64 422.51,347.45" fill="url(#g130)"/><polygon points="420.47,347.45 421.34,333.64 421.39,347.45" fill="#b4b4f0" fill-opacity="0.38"/><polygon points="429.76,346.12 430.78,334.81 431.08,334.81 432.11,346.12" fill="url(#g131)"/><polygon points="429.76,346.12 430.78,334.81 430.83,346.12" fill="#b4b4f0" fill-opacity="0.38"/><polygon points="437.95,344.79 439.12,334.57 439.42,334.57 440.58,344.79" fill="url(#g132)"/><polygon points="437.95,344.79 439.12,334.57 439.17,344.79" fill="#b4b4f0" fill-opacity="0.38"/><polygon points="443.36,344.12 444.37,334.42 444.67,334.42 445.68,344.12" fill="url(#g133)"/><polygon points="443.36,344.12 444.37,334.42 444.42,344.12" fill="#b4b4f0" fill-opacity="0.38"/><polygon points="421.08,348.60 422.31,341.54 422.61,341.54 423.85,348.60" fill="url(#g134)"/><polygon points="421.08,348.60 422.31,341.54 422.36,348.60" fill="#b4b4f0" fill-opacity="0.38"/><polygon points="429.91,347.26 430.99,337.78 431.29,337.78 432.37,347.26" fill="url(#g135)"/><polygon points="429.91,347.26 430.99,337.78 431.04,347.26" fill="#b4b4f0" fill-opacity="0.38"/><polygon points="435.20,346.60 436.52,333.82 436.82,333.82 438.15,346.60" fill="url(#g136)"/><polygon points="435.20,346.60 436.52,333.82 436.57,346.60" fill="#b4b4f0" fill-opacity="0.38"/><polygon points="414.17,351.07 415.41,341.97 415.71,341.97 416.95,351.07" fill="url(#g137)"/><polygon points="414.17,351.07 415.41,341.97 415.46,351.07" fill="#b4b4f0" fill-opacity="0.38"/><polygon points="417.98,350.40 419.24,335.41 419.54,335.41 420.80,350.40" fill="url(#g138)"/><polygon points="417.98,350.40 419.24,335.41 419.29,350.40" fill="#b4b4f0" fill-opacity="0.38"/><polygon points="422.42,349.74 423.34,341.52 423.64,341.52 424.56,349.74" fill="url(#g139)"/><polygon points="422.42,349.74 423.34,341.52 423.39,349.74" fill="#b4b4f0" fill-opacity="0.38"/><polygon points="426.68,349.07 427.54,333.92 427.84,333.92 428.69,349.07" fill="url(#g140)"/><polygon points="426.68,349.07 427.54,333.92 427.59,349.07" fill="#b4b4f0" fill-opacity="0.38"/><polygon points="431.61,348.40 432.64,340.38 432.94,340.38 433.97,348.40" fill="url(#g141)"/><polygon points="431.61,348.40 432.64,340.38 432.69,348.40" fill="#b4b4f0" fill-opacity="0.38"/><polygon points="436.28,347.74 437.34,340.36 437.64,340.36 438.70,347.74" fill="url(#g142)"/><polygon points="436.28,347.74 437.34,340.36 437.39,347.74" fill="#b4b4f0" fill-opacity="0.38"/><polygon points="439.30,347.07 440.24,340.04 440.54,340.04 441.47,347.07" fill="url(#g143)"/><polygon points="439.30,347.07 440.24,340.04 440.29,347.07" fill="#b4b4f0" fill-opacity="0.38"/><polygon points="414.35,352.21 415.33,345.35 415.63,345.35 416.60,352.21" fill="url(#g144)"/><polygon points="414.35,352.21 415.33,345.35 415.38,352.21" fill="#b4b4f0" fill-opacity="0.38"/><polygon points="423.49,350.88 424.54,339.62 424.84,339.62 425.90,350.88" fill="url(#g145)"/><polygon points="423.49,350.88 424.54,339.62 424.59,350.88" fill="#b4b4f0" fill-opacity="0.38"/><polygon points="431.86,349.55 432.72,340.87 433.02,340.87 433.89,349.55" fill="url(#g146)"/><polygon points="431.86,349.55 432.72,340.87 432.77,349.55" fill="#b4b4f0" fill-opacity="0.38"/><polygon points="436.60,348.88 437.87,340.14 438.17,340.14 439.44,348.88" fill="url(#g147)"/><polygon points="436.60,348.88 437.87,340.14 437.92,348.88" fill="#b4b4f0" fill-opacity="0.38"/><polygon points="440.26,348.21 441.24,341.43 441.54,341.43 442.51,348.21" fill="url(#g148)"/><polygon points="440.26,348.21 441.24,341.43 441.29,348.21" fill="#b4b4f0" fill-opacity="0.38"/><polygon points="445.68,347.55 446.60,338.96 446.90,338.96 447.82,347.55" fill="url(#g149)"/><polygon points="445.68,347.55 446.60,338.96 446.65,347.55" fill="#b4b4f0" fill-opacity="0.38"/><polygon points="414.78,353.36 416.13,338.50 416.43,338.50 417.77,353.36" fill="url(#g150)"/><polygon points="414.78,353.36 416.13,338.50 416.18,353.36" fill="#b4b4f0" fill-opacity="0.38"/><polygon points="419.40,352.69 420.65,338.08 420.95,338.08 422.19,352.69" fill="url(#g151)"/><polygon points="419.40,352.69 420.65,338.08 420.70,352.69" fill="#b4b4f0" fill-opacity="0.38"/><polygon points="427.41,351.36 428.70,344.02 429.00,344.02 430.29,351.36" fill="url(#g152)"/><polygon points="427.41,351.36 428.70,344.02 428.75,351.36" fill="#b4b4f0" fill-opacity="0.38"/><polygon points="441.62,349.36 442.79,336.94 443.09,336.94 444.26,349.36" fill="url(#g153)"/><polygon points="441.62,349.36 442.79,336.94 442.84,349.36" fill="#b4b4f0" fill-opacity="0.38"/><polygon points="429.69,352.50 430.57,337.69 430.87,337.69 431.76,352.50" fill="url(#g154)"/><polygon points="429.69,352.50 430.57,337.69 430.62,352.50" fill="#b4b4f0" fill-opacity="0.38"/><polygon points="445.44,349.83 446.77,335.24 447.07,335.24 448.41,349.83" fill="url(#g155)"/><polygon points="445.44,349.83 446.77,335.24 446.82,349.83" fill="#b4b4f0" fill-opacity="0.38"/><polygon points="420.84,354.98 421.98,346.97 422.28,346.97 423.41,354.98" fill="url(#g156)"/><polygon points="420.84,354.98 421.98,346.97 422.03,354.98" fill="#b4b4f0" fill-opacity="0.38"/><polygon points="434.72,352.98 435.73,346.45 436.73,352.98" fill="#3e419f"/><polygon points="434.72,352.98 435.73,346.45 435.63,352.98" fill="#b4b4f0" fill-opacity="0.38"/><polygon points="442.83,351.64 444.12,337.85 444.42,337.85 445.71,351.64" fill="url(#g157)"/><polygon points="442.83,351.64 444.12,337.85 444.17,351.64" fill="#b4b4f0" fill-opacity="0.38"/><polygon points="420.87,356.12 422.17,343.58 422.47,343.58 423.76,356.12" fill="url(#g158)"/><polygon points="420.87,356.12 422.17,343.58 422.22,356.12" fill="#b4b4f0" fill-opacity="0.38"/><polygon points="429.58,354.79 430.44,343.55 430.74,343.55 431.61,354.79" fill="url(#g159)"/><polygon points="429.58,354.79 430.44,343.55 430.49,354.79" fill="#b4b4f0" fill-opacity="0.38"/><polygon points="439.22,353.45 440.13,339.17 440.43,339.17 441.35,353.45" fill="url(#g160)"/><polygon points="439.22,353.45 440.13,339.17 440.18,353.45" fill="#b4b4f0" fill-opacity="0.38"/><polygon points="443.52,352.79 444.38,339.38 444.68,339.38 445.53,352.79" fill="url(#g161)"/><polygon points="443.52,352.79 444.38,339.38 444.43,352.79" fill="#b4b4f0" fill-opacity="0.38"/><polygon points="421.68,357.26 422.93,345.87 423.23,345.87 424.47,357.26" fill="url(#g162)"/><polygon points="421.68,357.26 422.93,345.87 422.98,357.26" fill="#b4b4f0" fill-opacity="0.38"/><polygon points="426.14,356.60 427.48,347.99 427.78,347.99 429.11,356.60" fill="url(#g163)"/><polygon points="426.14,356.60 427.48,347.99 427.53,356.60" fill="#b4b4f0" fill-opacity="0.38"/><polygon points="430.78,355.93 432.07,348.40 432.37,348.40 433.66,355.93" fill="url(#g164)"/><polygon points="430.78,355.93 432.07,348.40 432.12,355.93" fill="#b4b4f0" fill-opacity="0.38"/><polygon points="440.20,354.60 441.08,340.37 441.38,340.37 442.27,354.60" fill="url(#g165)"/><polygon points="440.20,354.60 441.08,340.37 441.13,354.60" fill="#b4b4f0" fill-opacity="0.38"/><polygon points="448.88,353.26 449.94,344.04 450.24,344.04 451.30,353.26" fill="url(#g166)"/><polygon points="448.88,353.26 449.94,344.04 449.99,353.26" fill="#b4b4f0" fill-opacity="0.38"/><polygon points="422.35,358.40 423.28,344.04 423.58,344.04 424.50,358.40" fill="url(#g167)"/><polygon points="422.35,358.40 423.28,344.04 423.33,358.40" fill="#b4b4f0" fill-opacity="0.38"/><polygon points="426.94,357.74 428.24,348.19 428.54,348.19 429.85,357.74" fill="url(#g168)"/><polygon points="426.94,357.74 428.24,348.19 428.29,357.74" fill="#b4b4f0" fill-opacity="0.38"/><polygon points="435.92,356.40 437.01,347.10 437.31,347.10 438.40,356.40" fill="url(#g169)"/><polygon points="435.92,356.40 437.01,347.10 437.06,356.40" fill="#b4b4f0" fill-opacity="0.38"/><polygon points="444.02,355.07 445.29,347.89 445.59,347.89 446.87,355.07" fill="url(#g170)"/><polygon points="444.02,355.07 445.29,347.89 445.34,355.07" fill="#b4b4f0" fill-opacity="0.38"/><polygon points="449.69,354.40 450.86,341.00 451.16,341.00 452.32,354.40" fill="url(#g171)"/><polygon points="449.69,354.40 450.86,341.00 450.91,354.40" fill="#b4b4f0" fill-opacity="0.38"/><polygon points="427.50,358.88 428.80,344.17 429.10,344.17 430.41,358.88" fill="url(#g172)"/><polygon points="427.50,358.88 428.80,344.17 428.85,358.88" fill="#b4b4f0" fill-opacity="0.38"/><polygon points="432.54,358.21 433.69,343.91 433.99,343.91 435.15,358.21" fill="url(#g173)"/><polygon points="432.54,358.21 433.69,343.91 433.74,358.21" fill="#b4b4f0" fill-opacity="0.38"/><polygon points="437.02,357.55 438.05,349.78 438.35,349.78 439.38,357.55" fill="url(#g174)"/><polygon points="437.02,357.55 438.05,349.78 438.10,357.55" fill="#b4b4f0" fill-opacity="0.38"/><polygon points="444.55,356.21 445.81,348.97 446.11,348.97 447.36,356.21" fill="url(#g175)"/><polygon points="444.55,356.21 445.81,348.97 445.86,356.21" fill="#b4b4f0" fill-opacity="0.38"/><polygon points="449.42,355.55 450.55,340.93 450.85,340.93 451.99,355.55" fill="url(#g176)"/><polygon points="449.42,355.55 450.55,340.93 450.60,355.55" fill="#b4b4f0" fill-opacity="0.38"/><polygon points="419.07,361.36 420.12,349.27 420.42,349.27 421.47,361.36" fill="url(#g177)"/><polygon points="419.07,361.36 420.12,349.27 420.17,361.36" fill="#b4b4f0" fill-opacity="0.38"/><polygon points="428.26,360.02 429.26,347.64 429.56,347.64 430.56,360.02" fill="url(#g178)"/><polygon points="428.26,360.02 429.26,347.64 429.31,360.02" fill="#b4b4f0" fill-opacity="0.38"/><polygon points="433.37,359.36 434.63,352.68 434.93,352.68 436.20,359.36" fill="url(#g179)"/><polygon points="433.37,359.36 434.63,352.68 434.68,359.36" fill="#b4b4f0" fill-opacity="0.38"/><polygon points="450.29,356.69 451.43,344.93 451.73,344.93 452.87,356.69" fill="url(#g180)"/><polygon points="450.29,356.69 451.43,344.93 451.48,356.69" fill="#b4b4f0" fill-opacity="0.38"/><polygon points="433.65,360.50 434.87,348.14 435.17,348.14 436.40,360.50" fill="url(#g181)"/><polygon points="433.65,360.50 434.87,348.14 434.92,360.50" fill="#b4b4f0" fill-opacity="0.38"/><polygon points="446.44,358.50 447.59,343.65 447.89,343.65 449.04,358.50" fill="url(#g182)"/><polygon points="446.44,358.50 447.59,343.65 447.64,358.50" fill="#b4b4f0" fill-opacity="0.38"/><polygon points="428.30,352.00 429.45,302.70 429.75,302.70 430.90,352.00" fill="url(#g183)"/><polygon points="428.30,352.00 429.45,302.70 429.50,352.00" fill="#b4b4f0" fill-opacity="0.38"/><polygon points="445.90,350.50 446.85,338.70 447.15,338.70 448.10,350.50" fill="url(#g184)"/><polygon points="445.90,350.50 446.85,338.70 446.90,350.50" fill="#b4b4f0" fill-opacity="0.38"/><polygon points="449.80,350.50 450.75,333.40 451.05,333.40 452.00,350.50" fill="url(#g185)"/><polygon points="449.80,350.50 450.75,333.40 450.80,350.50" fill="#b4b4f0" fill-opacity="0.38"/><polygon points="452.70,351.80 453.85,344.00 454.15,344.00 455.30,351.80" fill="url(#g186)"/><polygon points="452.70,351.80 453.85,344.00 453.90,351.80" fill="#b4b4f0" fill-opacity="0.38"/><polygon points="455.20,351.80 456.35,344.00 456.65,344.00 457.80,351.80" fill="url(#g187)"/><polygon points="455.20,351.80 456.35,344.00 456.40,351.80" fill="#b4b4f0" fill-opacity="0.38"/><polygon points="459.70,353.20 460.65,341.30 460.95,341.30 461.90,353.20" fill="url(#g188)"/><polygon points="459.70,353.20 460.65,341.30 460.70,353.20" fill="#b4b4f0" fill-opacity="0.38"/><polygon points="461.80,348.00 462.80,342.60 463.80,348.00" fill="#3c3e9a"/><polygon points="461.80,348.00 462.80,342.60 462.70,348.00" fill="#b4b4f0" fill-opacity="0.38"/><polygon points="465.70,349.20 466.70,342.60 467.70,349.20" fill="#3e419f"/><polygon points="465.70,349.20 466.70,342.60 466.60,349.20" fill="#b4b4f0" fill-opacity="0.38"/><polygon points="468.10,355.80 469.15,334.70 469.45,334.70 470.50,355.80" fill="url(#g189)"/><polygon points="468.10,355.80 469.15,334.70 469.20,355.80" fill="#b4b4f0" fill-opacity="0.38"/><polygon points="469.60,341.30 470.55,328.00 470.85,328.00 471.80,341.30" fill="url(#g190)"/><polygon points="469.60,341.30 470.55,328.00 470.60,341.30" fill="#b4b4f0" fill-opacity="0.38"/><polygon points="472.20,350.00 473.35,330.00 473.65,330.00 474.80,350.00" fill="url(#g191)"/><polygon points="472.20,350.00 473.35,330.00 473.40,350.00" fill="#b4b4f0" fill-opacity="0.38"/><polygon points="474.70,349.00 475.85,333.00 476.15,333.00 477.30,349.00" fill="url(#g192)"/><polygon points="474.70,349.00 475.85,333.00 475.90,349.00" fill="#b4b4f0" fill-opacity="0.38"/><polygon points="477.20,348.00 478.35,328.00 478.65,328.00 479.80,348.00" fill="url(#g193)"/><polygon points="477.20,348.00 478.35,328.00 478.40,348.00" fill="#b4b4f0" fill-opacity="0.38"/><polygon points="479.70,350.00 480.85,335.00 481.15,335.00 482.30,350.00" fill="url(#g194)"/><polygon points="479.70,350.00 480.85,335.00 480.90,350.00" fill="#b4b4f0" fill-opacity="0.38"/><polygon points="482.10,346.30 483.25,314.00 483.55,314.00 484.70,346.30" fill="url(#g195)"/><polygon points="482.10,346.30 483.25,314.00 483.30,346.30" fill="#b4b4f0" fill-opacity="0.38"/><polygon points="485.60,344.60 486.65,322.40 486.95,322.40 488.00,344.60" fill="url(#g196)"/><polygon points="485.60,344.60 486.65,322.40 486.70,344.60" fill="#b4b4f0" fill-opacity="0.38"/><polygon points="488.20,344.60 489.25,324.00 489.55,324.00 490.60,344.60" fill="url(#g197)"/><polygon points="488.20,344.60 489.25,324.00 489.30,344.60" fill="#b4b4f0" fill-opacity="0.38"/><polygon points="490.80,344.60 491.85,325.00 492.15,325.00 493.20,344.60" fill="url(#g198)"/><polygon points="490.80,344.60 491.85,325.00 491.90,344.60" fill="#b4b4f0" fill-opacity="0.38"/><polygon points="493.30,344.00 494.35,327.00 494.65,327.00 495.70,344.00" fill="url(#g199)"/><polygon points="493.30,344.00 494.35,327.00 494.40,344.00" fill="#b4b4f0" fill-opacity="0.38"/><polygon points="495.90,342.90 496.85,328.30 497.15,328.30 498.10,342.90" fill="url(#g200)"/><polygon points="495.90,342.90 496.85,328.30 496.90,342.90" fill="#b4b4f0" fill-opacity="0.38"/><polygon points="498.60,341.00 499.55,325.00 499.85,325.00 500.80,341.00" fill="url(#g201)"/><polygon points="498.60,341.00 499.55,325.00 499.60,341.00" fill="#b4b4f0" fill-opacity="0.38"/><polygon points="501.20,339.40 502.05,329.20 502.35,329.20 503.20,339.40" fill="url(#g202)"/><polygon points="501.20,339.40 502.05,329.20 502.10,339.40" fill="#b4b4f0" fill-opacity="0.38"/><polygon points="504.70,348.00 505.85,304.40 506.15,304.40 507.30,348.00" fill="url(#g203)"/><polygon points="504.70,348.00 505.85,304.40 505.90,348.00" fill="#b4b4f0" fill-opacity="0.38"/><polygon points="469.60,352.00 470.85,338.00 471.15,338.00 472.40,352.00" fill="url(#g204)"/><polygon points="469.60,352.00 470.85,338.00 470.90,352.00" fill="#b4b4f0" fill-opacity="0.38"/><polygon points="473.10,351.00 474.35,336.00 474.65,336.00 475.90,351.00" fill="url(#g205)"/><polygon points="473.10,351.00 474.35,336.00 474.40,351.00" fill="#b4b4f0" fill-opacity="0.38"/><polygon points="475.60,350.00 476.85,340.00 477.15,340.00 478.40,350.00" fill="url(#g206)"/><polygon points="475.60,350.00 476.85,340.00 476.90,350.00" fill="#b4b4f0" fill-opacity="0.38"/><polygon points="478.70,349.00 479.85,332.00 480.15,332.00 481.30,349.00" fill="url(#g207)"/><polygon points="478.70,349.00 479.85,332.00 479.90,349.00" fill="#b4b4f0" fill-opacity="0.38"/><polygon points="483.70,347.00 484.85,334.00 485.15,334.00 486.30,347.00" fill="url(#g208)"/><polygon points="483.70,347.00 484.85,334.00 484.90,347.00" fill="#b4b4f0" fill-opacity="0.38"/><polygon points="486.70,347.00 487.85,333.00 488.15,333.00 489.30,347.00" fill="url(#g209)"/><polygon points="486.70,347.00 487.85,333.00 487.90,347.00" fill="#b4b4f0" fill-opacity="0.38"/><polygon points="489.70,346.00 490.85,336.00 491.15,336.00 492.30,346.00" fill="url(#g210)"/><polygon points="489.70,346.00 490.85,336.00 490.90,346.00" fill="#b4b4f0" fill-opacity="0.38"/><polygon points="493.80,345.00 494.85,335.00 495.15,335.00 496.20,345.00" fill="url(#g211)"/><polygon points="493.80,345.00 494.85,335.00 494.90,345.00" fill="#b4b4f0" fill-opacity="0.38"/><polygon points="496.80,344.00 497.85,337.00 498.15,337.00 499.20,344.00" fill="url(#g212)"/><polygon points="496.80,344.00 497.85,337.00 497.90,344.00" fill="#b4b4f0" fill-opacity="0.38"/><text x="5.10" y="9.20" font-size="11" text-anchor="start" font-weight="bold" fill="#111" style="stroke:#111;stroke-width:0.22px" >A</text><rect x="48.1" y="13.7" width="16.9" height="102.8" fill="#e2e2e2"/><path d="M29.5,13.7 V117.0 H161.5" fill="none" stroke="#7a7a7a" stroke-width="1"/><line x1="29.5" y1="112.40" x2="31.7" y2="112.40" stroke="#666" stroke-width="0.8"/><line x1="29.5" y1="101.55" x2="30.7" y2="101.55" stroke="#666" stroke-width="0.8"/><line x1="29.5" y1="90.70" x2="31.7" y2="90.70" stroke="#666" stroke-width="0.8"/><line x1="29.5" y1="79.85" x2="30.7" y2="79.85" stroke="#666" stroke-width="0.8"/><line x1="29.5" y1="69.00" x2="31.7" y2="69.00" stroke="#666" stroke-width="0.8"/><line x1="29.5" y1="58.15" x2="30.7" y2="58.15" stroke="#666" stroke-width="0.8"/><line x1="29.5" y1="47.30" x2="31.7" y2="47.30" stroke="#666" stroke-width="0.8"/><line x1="29.5" y1="36.45" x2="30.7" y2="36.45" stroke="#666" stroke-width="0.8"/><line x1="29.5" y1="25.60" x2="31.7" y2="25.60" stroke="#666" stroke-width="0.8"/><text x="27.60" y="115.60" font-size="9" text-anchor="end" font-weight="normal" fill="#1a1a1a" style="stroke:#1a1a1a;stroke-width:0.22px" >0</text><text x="27.60" y="93.90" font-size="9" text-anchor="end" font-weight="normal" fill="#1a1a1a" style="stroke:#1a1a1a;stroke-width:0.22px" >20</text><text x="27.60" y="72.20" font-size="9" text-anchor="end" font-weight="normal" fill="#1a1a1a" style="stroke:#1a1a1a;stroke-width:0.22px" >40</text><text x="27.60" y="50.50" font-size="9" text-anchor="end" font-weight="normal" fill="#1a1a1a" style="stroke:#1a1a1a;stroke-width:0.22px" >60</text><text x="27.60" y="28.80" font-size="9" text-anchor="end" font-weight="normal" fill="#1a1a1a" style="stroke:#1a1a1a;stroke-width:0.22px" >80</text><line x1="30.52" y1="117.0" x2="30.52" y2="115.6" stroke="#666" stroke-width="0.8"/><line x1="39.36" y1="117.0" x2="39.36" y2="115.6" stroke="#666" stroke-width="0.8"/><line x1="48.20" y1="117.0" x2="48.20" y2="114.6" stroke="#666" stroke-width="0.8"/><line x1="57.04" y1="117.0" x2="57.04" y2="115.6" stroke="#666" stroke-width="0.8"/><line x1="65.88" y1="117.0" x2="65.88" y2="115.6" stroke="#666" stroke-width="0.8"/><line x1="74.72" y1="117.0" x2="74.72" y2="115.6" stroke="#666" stroke-width="0.8"/><line x1="83.56" y1="117.0" x2="83.56" y2="115.6" stroke="#666" stroke-width="0.8"/><line x1="92.40" y1="117.0" x2="92.40" y2="114.6" stroke="#666" stroke-width="0.8"/><line x1="101.24" y1="117.0" x2="101.24" y2="115.6" stroke="#666" stroke-width="0.8"/><line x1="110.08" y1="117.0" x2="110.08" y2="115.6" stroke="#666" stroke-width="0.8"/><line x1="118.92" y1="117.0" x2="118.92" y2="115.6" stroke="#666" stroke-width="0.8"/><line x1="127.76" y1="117.0" x2="127.76" y2="115.6" stroke="#666" stroke-width="0.8"/><line x1="136.60" y1="117.0" x2="136.60" y2="114.6" stroke="#666" stroke-width="0.8"/><line x1="145.44" y1="117.0" x2="145.44" y2="115.6" stroke="#666" stroke-width="0.8"/><line x1="154.28" y1="117.0" x2="154.28" y2="115.6" stroke="#666" stroke-width="0.8"/><text x="47.60" y="126.80" font-size="9" text-anchor="middle" font-weight="normal" fill="#1a1a1a" style="stroke:#1a1a1a;stroke-width:0.22px" >0</text><text x="91.70" y="126.80" font-size="9" text-anchor="middle" font-weight="normal" fill="#1a1a1a" style="stroke:#1a1a1a;stroke-width:0.22px" >5</text><text x="143.60" y="126.80" font-size="9" text-anchor="middle" font-weight="normal" fill="#1a1a1a" style="stroke:#1a1a1a;stroke-width:0.22px" >10-12</text><text x="61.50" y="137.70" font-size="9" text-anchor="start" font-weight="normal" fill="#1a1a1a" style="stroke:#1a1a1a;stroke-width:0.22px" >Week on Study</text><text x="0.00" y="0.00" font-size="9.2" text-anchor="middle" font-weight="normal" fill="#1a1a1a" style="stroke:#1a1a1a;stroke-width:0.22px" transform="translate(12.3,69.1) rotate(-90)">Diversity (%)</text><circle cx="40.3" cy="48.2" r="1.15" fill="#111"/><circle cx="38.7" cy="52.3" r="1.15" fill="#111"/><circle cx="38.8" cy="59.8" r="1.15" fill="#111"/><circle cx="36.5" cy="68.3" r="1.15" fill="#111"/><circle cx="38.3" cy="72" r="1.15" fill="#111"/><circle cx="39.9" cy="80.3" r="1.15" fill="#111"/><circle cx="36.6" cy="84.6" r="1.15" fill="#111"/><circle cx="39.1" cy="88.8" r="1.15" fill="#111"/><circle cx="37.9" cy="90.7" r="1.15" fill="#111"/><circle cx="47.8" cy="51.7" r="1.15" fill="#111"/><circle cx="47" cy="52.5" r="1.15" fill="#111"/><circle cx="46.2" cy="54.9" r="1.15" fill="#111"/><circle cx="45.8" cy="71.8" r="1.15" fill="#111"/><circle cx="47" cy="74" r="1.15" fill="#111"/><circle cx="46.2" cy="76.3" r="1.15" fill="#111"/><circle cx="48.3" cy="93" r="1.15" fill="#111"/><circle cx="47.4" cy="94.5" r="1.15" fill="#111"/><circle cx="46.2" cy="108.8" r="1.15" fill="#111"/><circle cx="84.5" cy="45.5" r="1.15" fill="#111"/><circle cx="84.6" cy="55.8" r="1.15" fill="#111"/><circle cx="84.5" cy="56.7" r="1.15" fill="#111"/><circle cx="82.9" cy="58.8" r="1.15" fill="#111"/><circle cx="82.7" cy="66.1" r="1.15" fill="#111"/><circle cx="82.9" cy="68.9" r="1.15" fill="#111"/><circle cx="86.4" cy="79.4" r="1.15" fill="#111"/><circle cx="85.7" cy="91.1" r="1.15" fill="#111"/><circle cx="82.9" cy="93.8" r="1.15" fill="#111"/><circle cx="82.9" cy="104.8" r="1.15" fill="#111"/><circle cx="134.1" cy="36.9" r="1.15" fill="#111"/><circle cx="138" cy="38.7" r="1.15" fill="#111"/><circle cx="137.2" cy="52.9" r="1.15" fill="#111"/><circle cx="136" cy="54.1" r="1.15" fill="#111"/><circle cx="136.7" cy="62.5" r="1.15" fill="#111"/><circle cx="135.3" cy="66.7" r="1.15" fill="#111"/><circle cx="138.3" cy="68.6" r="1.15" fill="#111"/><circle cx="137.2" cy="73.7" r="1.15" fill="#111"/><circle cx="135.7" cy="76.2" r="1.15" fill="#111"/><circle cx="134.9" cy="99.4" r="1.15" fill="#111"/><line x1="34.3" y1="70.6" x2="42.6" y2="70.6" stroke="#c8606a" stroke-width="1.1"/><line x1="44.2" y1="77.3" x2="51.7" y2="77.3" stroke="#c8606a" stroke-width="1.1"/><line x1="80.5" y1="72.1" x2="89.2" y2="72.1" stroke="#c8606a" stroke-width="1.1"/><line x1="131.9" y1="62.9" x2="140.8" y2="62.9" stroke="#c8606a" stroke-width="1.1"/><text x="5.30" y="153.50" font-size="11" text-anchor="start" font-weight="bold" fill="#111" style="stroke:#111;stroke-width:0.22px" >B</text><rect x="29.6" y="159.9" width="104.3" height="93.19999999999999" fill="none" stroke="#969696" stroke-width="1.3"/><path d="M29.6,159.9 V253.1 H133.9" fill="none" stroke="#6e6e6e" stroke-width="1.1"/><text x="82.15" y="155.00" font-size="10" text-anchor="middle" font-weight="normal" fill="#1a1a1a" style="stroke:#1a1a1a;stroke-width:0.22px" >Pre</text><rect x="35.30" y="176.2" width="47.00" height="7.00" fill="none" stroke="#a8666c" stroke-width="1.15"/><text x="81.50" y="180.30" font-size="4.4" text-anchor="end" font-weight="normal" fill="#505050" style="stroke:#505050;stroke-width:0.12px" >5</text><rect x="84.00" y="176.2" width="45.50" height="7.00" fill="none" stroke="#e0dc9e" stroke-width="1.15"/><text x="128.70" y="180.30" font-size="4.4" text-anchor="end" font-weight="normal" fill="#505050" style="stroke:#505050;stroke-width:0.12px" >6</text><rect x="35.00" y="186.3" width="47.00" height="19.40" fill="none" stroke="#e0dc9e" stroke-width="1.15"/><text x="81.20" y="190.40" font-size="4.4" text-anchor="end" font-weight="normal" fill="#505050" style="stroke:#505050;stroke-width:0.12px" >3</text><rect x="84.00" y="186.3" width="45.30" height="19.40" fill="none" stroke="#aec4a2" stroke-width="1.15"/><text x="128.50" y="190.40" font-size="4.4" text-anchor="end" font-weight="normal" fill="#505050" style="stroke:#505050;stroke-width:0.12px" >4</text><rect x="35.30" y="209.0" width="46.70" height="39.30" fill="none" stroke="#a8666c" stroke-width="1.15"/><text x="81.20" y="213.10" font-size="4.4" text-anchor="end" font-weight="normal" fill="#c09aa2" style="stroke:#c09aa2;stroke-width:0.12px" >1</text><rect x="83.70" y="209.0" width="45.80" height="39.30" fill="none" stroke="#e0dc9e" stroke-width="1.15"/><text x="128.70" y="213.10" font-size="4.4" text-anchor="end" font-weight="normal" fill="#505050" style="stroke:#505050;stroke-width:0.12px" >2</text><line x1="30.0" y1="247.30" x2="32.0" y2="247.30" stroke="#777" stroke-width="0.8"/><text x="27.40" y="250.40" font-size="8.8" text-anchor="end" font-weight="normal" fill="#1a1a1a" style="stroke:#1a1a1a;stroke-width:0.22px" >0</text><line x1="30.0" y1="229.15" x2="32.0" y2="229.15" stroke="#777" stroke-width="0.8"/><text x="27.40" y="232.25" font-size="8.8" text-anchor="end" font-weight="normal" fill="#1a1a1a" style="stroke:#1a1a1a;stroke-width:0.22px" >0.5</text><line x1="30.0" y1="211.00" x2="32.0" y2="211.00" stroke="#777" stroke-width="0.8"/><text x="27.40" y="214.10" font-size="8.8" text-anchor="end" font-weight="normal" fill="#1a1a1a" style="stroke:#1a1a1a;stroke-width:0.22px" >1.0</text><line x1="30.0" y1="192.85" x2="32.0" y2="192.85" stroke="#777" stroke-width="0.8"/><text x="27.40" y="195.95" font-size="8.8" text-anchor="end" font-weight="normal" fill="#1a1a1a" style="stroke:#1a1a1a;stroke-width:0.22px" >1.5</text><line x1="30.0" y1="174.70" x2="32.0" y2="174.70" stroke="#777" stroke-width="0.8"/><text x="27.40" y="177.80" font-size="8.8" text-anchor="end" font-weight="normal" fill="#1a1a1a" style="stroke:#1a1a1a;stroke-width:0.22px" >2.0</text><line x1="35.30" y1="253.1" x2="35.30" y2="251.1" stroke="#777" stroke-width="0.8"/><text x="35.30" y="263.00" font-size="8.8" text-anchor="middle" font-weight="normal" fill="#1a1a1a" style="stroke:#1a1a1a;stroke-width:0.22px" >0</text><line x1="54.50" y1="253.1" x2="54.50" y2="251.1" stroke="#777" stroke-width="0.8"/><text x="54.50" y="263.00" font-size="8.8" text-anchor="middle" font-weight="normal" fill="#1a1a1a" style="stroke:#1a1a1a;stroke-width:0.22px" >20</text><line x1="73.70" y1="253.1" x2="73.70" y2="251.1" stroke="#777" stroke-width="0.8"/><text x="73.70" y="263.00" font-size="8.8" text-anchor="middle" font-weight="normal" fill="#1a1a1a" style="stroke:#1a1a1a;stroke-width:0.22px" >40</text><line x1="92.90" y1="253.1" x2="92.90" y2="251.1" stroke="#777" stroke-width="0.8"/><text x="92.90" y="263.00" font-size="8.8" text-anchor="middle" font-weight="normal" fill="#1a1a1a" style="stroke:#1a1a1a;stroke-width:0.22px" >60</text><line x1="112.10" y1="253.1" x2="112.10" y2="251.1" stroke="#777" stroke-width="0.8"/><text x="112.10" y="263.00" font-size="8.8" text-anchor="middle" font-weight="normal" fill="#1a1a1a" style="stroke:#1a1a1a;stroke-width:0.22px" >80</text><line x1="131.30" y1="253.1" x2="131.30" y2="251.1" stroke="#777" stroke-width="0.8"/><text x="131.30" y="263.00" font-size="8.8" text-anchor="middle" font-weight="normal" fill="#1a1a1a" style="stroke:#1a1a1a;stroke-width:0.22px" >100</text><rect x="156.4" y="159.9" width="104.3" height="93.19999999999999" fill="none" stroke="#969696" stroke-width="1.3"/><path d="M156.4,159.9 V253.1 H260.7" fill="none" stroke="#6e6e6e" stroke-width="1.1"/><text x="208.95" y="155.00" font-size="10" text-anchor="middle" font-weight="normal" fill="#1a1a1a" style="stroke:#1a1a1a;stroke-width:0.22px" >Day 0</text><rect x="162.10" y="176.2" width="47.00" height="7.00" fill="none" stroke="#a8666c" stroke-width="1.15"/><text x="208.30" y="180.30" font-size="4.4" text-anchor="end" font-weight="normal" fill="#505050" style="stroke:#505050;stroke-width:0.12px" >5</text><rect x="210.80" y="176.2" width="45.50" height="7.00" fill="none" stroke="#e0dc9e" stroke-width="1.15"/><text x="255.50" y="180.30" font-size="4.4" text-anchor="end" font-weight="normal" fill="#505050" style="stroke:#505050;stroke-width:0.12px" >6</text><rect x="161.80" y="186.3" width="47.00" height="19.40" fill="none" stroke="#e0dc9e" stroke-width="1.15"/><text x="208.00" y="190.40" font-size="4.4" text-anchor="end" font-weight="normal" fill="#505050" style="stroke:#505050;stroke-width:0.12px" >3</text><rect x="210.80" y="186.3" width="45.30" height="19.40" fill="none" stroke="#aec4a2" stroke-width="1.15"/><text x="255.30" y="190.40" font-size="4.4" text-anchor="end" font-weight="normal" fill="#505050" style="stroke:#505050;stroke-width:0.12px" >4</text><rect x="162.10" y="209.0" width="46.70" height="39.30" fill="none" stroke="#a8666c" stroke-width="1.15"/><text x="208.00" y="213.10" font-size="4.4" text-anchor="end" font-weight="normal" fill="#c09aa2" style="stroke:#c09aa2;stroke-width:0.12px" >1</text><rect x="210.50" y="209.0" width="45.80" height="39.30" fill="none" stroke="#e0dc9e" stroke-width="1.15"/><text x="255.50" y="213.10" font-size="4.4" text-anchor="end" font-weight="normal" fill="#505050" style="stroke:#505050;stroke-width:0.12px" >2</text><line x1="156.8" y1="247.30" x2="158.8" y2="247.30" stroke="#777" stroke-width="0.8"/><text x="154.20" y="250.40" font-size="8.8" text-anchor="end" font-weight="normal" fill="#1a1a1a" style="stroke:#1a1a1a;stroke-width:0.22px" >0</text><line x1="156.8" y1="229.15" x2="158.8" y2="229.15" stroke="#777" stroke-width="0.8"/><text x="154.20" y="232.25" font-size="8.8" text-anchor="end" font-weight="normal" fill="#1a1a1a" style="stroke:#1a1a1a;stroke-width:0.22px" >0.5</text><line x1="156.8" y1="211.00" x2="158.8" y2="211.00" stroke="#777" stroke-width="0.8"/><text x="154.20" y="214.10" font-size="8.8" text-anchor="end" font-weight="normal" fill="#1a1a1a" style="stroke:#1a1a1a;stroke-width:0.22px" >1.0</text><line x1="156.8" y1="192.85" x2="158.8" y2="192.85" stroke="#777" stroke-width="0.8"/><text x="154.20" y="195.95" font-size="8.8" text-anchor="end" font-weight="normal" fill="#1a1a1a" style="stroke:#1a1a1a;stroke-width:0.22px" >1.5</text><line x1="156.8" y1="174.70" x2="158.8" y2="174.70" stroke="#777" stroke-width="0.8"/><text x="154.20" y="177.80" font-size="8.8" text-anchor="end" font-weight="normal" fill="#1a1a1a" style="stroke:#1a1a1a;stroke-width:0.22px" >2.0</text><line x1="162.10" y1="253.1" x2="162.10" y2="251.1" stroke="#777" stroke-width="0.8"/><text x="162.10" y="263.00" font-size="8.8" text-anchor="middle" font-weight="normal" fill="#1a1a1a" style="stroke:#1a1a1a;stroke-width:0.22px" >0</text><line x1="181.30" y1="253.1" x2="181.30" y2="251.1" stroke="#777" stroke-width="0.8"/><text x="181.30" y="263.00" font-size="8.8" text-anchor="middle" font-weight="normal" fill="#1a1a1a" style="stroke:#1a1a1a;stroke-width:0.22px" >20</text><line x1="200.50" y1="253.1" x2="200.50" y2="251.1" stroke="#777" stroke-width="0.8"/><text x="200.50" y="263.00" font-size="8.8" text-anchor="middle" font-weight="normal" fill="#1a1a1a" style="stroke:#1a1a1a;stroke-width:0.22px" >40</text><line x1="219.70" y1="253.1" x2="219.70" y2="251.1" stroke="#777" stroke-width="0.8"/><text x="219.70" y="263.00" font-size="8.8" text-anchor="middle" font-weight="normal" fill="#1a1a1a" style="stroke:#1a1a1a;stroke-width:0.22px" >60</text><line x1="238.90" y1="253.1" x2="238.90" y2="251.1" stroke="#777" stroke-width="0.8"/><text x="238.90" y="263.00" font-size="8.8" text-anchor="middle" font-weight="normal" fill="#1a1a1a" style="stroke:#1a1a1a;stroke-width:0.22px" >80</text><line x1="258.10" y1="253.1" x2="258.10" y2="251.1" stroke="#777" stroke-width="0.8"/><text x="258.10" y="263.00" font-size="8.8" text-anchor="middle" font-weight="normal" fill="#1a1a1a" style="stroke:#1a1a1a;stroke-width:0.22px" >100</text><rect x="283.3" y="159.9" width="104.3" height="93.19999999999999" fill="none" stroke="#969696" stroke-width="1.3"/><path d="M283.3,159.9 V253.1 H387.6" fill="none" stroke="#6e6e6e" stroke-width="1.1"/><text x="335.85" y="155.00" font-size="10" text-anchor="middle" font-weight="normal" fill="#1a1a1a" style="stroke:#1a1a1a;stroke-width:0.22px" >Week 4</text><rect x="289.00" y="176.2" width="47.00" height="7.00" fill="none" stroke="#a8666c" stroke-width="1.15"/><text x="335.20" y="180.30" font-size="4.4" text-anchor="end" font-weight="normal" fill="#505050" style="stroke:#505050;stroke-width:0.12px" >5</text><rect x="337.70" y="176.2" width="45.50" height="7.00" fill="none" stroke="#e0dc9e" stroke-width="1.15"/><text x="382.40" y="180.30" font-size="4.4" text-anchor="end" font-weight="normal" fill="#505050" style="stroke:#505050;stroke-width:0.12px" >6</text><rect x="288.70" y="186.3" width="47.00" height="19.40" fill="none" stroke="#e0dc9e" stroke-width="1.15"/><text x="334.90" y="190.40" font-size="4.4" text-anchor="end" font-weight="normal" fill="#505050" style="stroke:#505050;stroke-width:0.12px" >3</text><rect x="337.70" y="186.3" width="45.30" height="19.40" fill="none" stroke="#aec4a2" stroke-width="1.15"/><text x="382.20" y="190.40" font-size="4.4" text-anchor="end" font-weight="normal" fill="#505050" style="stroke:#505050;stroke-width:0.12px" >4</text><rect x="289.00" y="209.0" width="46.70" height="39.30" fill="none" stroke="#a8666c" stroke-width="1.15"/><text x="334.90" y="213.10" font-size="4.4" text-anchor="end" font-weight="normal" fill="#c09aa2" style="stroke:#c09aa2;stroke-width:0.12px" >1</text><rect x="337.40" y="209.0" width="45.80" height="39.30" fill="none" stroke="#e0dc9e" stroke-width="1.15"/><text x="382.40" y="213.10" font-size="4.4" text-anchor="end" font-weight="normal" fill="#505050" style="stroke:#505050;stroke-width:0.12px" >2</text><line x1="283.7" y1="247.30" x2="285.7" y2="247.30" stroke="#777" stroke-width="0.8"/><text x="281.10" y="250.40" font-size="8.8" text-anchor="end" font-weight="normal" fill="#1a1a1a" style="stroke:#1a1a1a;stroke-width:0.22px" >0</text><line x1="283.7" y1="229.15" x2="285.7" y2="229.15" stroke="#777" stroke-width="0.8"/><text x="281.10" y="232.25" font-size="8.8" text-anchor="end" font-weight="normal" fill="#1a1a1a" style="stroke:#1a1a1a;stroke-width:0.22px" >0.5</text><line x1="283.7" y1="211.00" x2="285.7" y2="211.00" stroke="#777" stroke-width="0.8"/><text x="281.10" y="214.10" font-size="8.8" text-anchor="end" font-weight="normal" fill="#1a1a1a" style="stroke:#1a1a1a;stroke-width:0.22px" >1.0</text><line x1="283.7" y1="192.85" x2="285.7" y2="192.85" stroke="#777" stroke-width="0.8"/><text x="281.10" y="195.95" font-size="8.8" text-anchor="end" font-weight="normal" fill="#1a1a1a" style="stroke:#1a1a1a;stroke-width:0.22px" >1.5</text><line x1="283.7" y1="174.70" x2="285.7" y2="174.70" stroke="#777" stroke-width="0.8"/><text x="281.10" y="177.80" font-size="8.8" text-anchor="end" font-weight="normal" fill="#1a1a1a" style="stroke:#1a1a1a;stroke-width:0.22px" >2.0</text><line x1="289.00" y1="253.1" x2="289.00" y2="251.1" stroke="#777" stroke-width="0.8"/><text x="289.00" y="263.00" font-size="8.8" text-anchor="middle" font-weight="normal" fill="#1a1a1a" style="stroke:#1a1a1a;stroke-width:0.22px" >0</text><line x1="308.20" y1="253.1" x2="308.20" y2="251.1" stroke="#777" stroke-width="0.8"/><text x="308.20" y="263.00" font-size="8.8" text-anchor="middle" font-weight="normal" fill="#1a1a1a" style="stroke:#1a1a1a;stroke-width:0.22px" >20</text><line x1="327.40" y1="253.1" x2="327.40" y2="251.1" stroke="#777" stroke-width="0.8"/><text x="327.40" y="263.00" font-size="8.8" text-anchor="middle" font-weight="normal" fill="#1a1a1a" style="stroke:#1a1a1a;stroke-width:0.22px" >40</text><line x1="346.60" y1="253.1" x2="346.60" y2="251.1" stroke="#777" stroke-width="0.8"/><text x="346.60" y="263.00" font-size="8.8" text-anchor="middle" font-weight="normal" fill="#1a1a1a" style="stroke:#1a1a1a;stroke-width:0.22px" >60</text><line x1="365.80" y1="253.1" x2="365.80" y2="251.1" stroke="#777" stroke-width="0.8"/><text x="365.80" y="263.00" font-size="8.8" text-anchor="middle" font-weight="normal" fill="#1a1a1a" style="stroke:#1a1a1a;stroke-width:0.22px" >80</text><line x1="385.00" y1="253.1" x2="385.00" y2="251.1" stroke="#777" stroke-width="0.8"/><text x="385.00" y="263.00" font-size="8.8" text-anchor="middle" font-weight="normal" fill="#1a1a1a" style="stroke:#1a1a1a;stroke-width:0.22px" >100</text><rect x="410.40000000000003" y="159.9" width="104.3" height="93.19999999999999" fill="none" stroke="#969696" stroke-width="1.3"/><path d="M410.40000000000003,159.9 V253.1 H514.7" fill="none" stroke="#6e6e6e" stroke-width="1.1"/><text x="462.95" y="155.00" font-size="10" text-anchor="middle" font-weight="normal" fill="#1a1a1a" style="stroke:#1a1a1a;stroke-width:0.22px" >Week 10-12</text><rect x="416.10" y="176.2" width="47.00" height="7.00" fill="none" stroke="#a8666c" stroke-width="1.15"/><text x="462.30" y="180.30" font-size="4.4" text-anchor="end" font-weight="normal" fill="#505050" style="stroke:#505050;stroke-width:0.12px" >5</text><rect x="464.80" y="176.2" width="45.50" height="7.00" fill="none" stroke="#e0dc9e" stroke-width="1.15"/><text x="509.50" y="180.30" font-size="4.4" text-anchor="end" font-weight="normal" fill="#505050" style="stroke:#505050;stroke-width:0.12px" >6</text><rect x="415.80" y="186.3" width="47.00" height="19.40" fill="none" stroke="#e0dc9e" stroke-width="1.15"/><text x="462.00" y="190.40" font-size="4.4" text-anchor="end" font-weight="normal" fill="#505050" style="stroke:#505050;stroke-width:0.12px" >3</text><rect x="464.80" y="186.3" width="45.30" height="19.40" fill="none" stroke="#aec4a2" stroke-width="1.15"/><text x="509.30" y="190.40" font-size="4.4" text-anchor="end" font-weight="normal" fill="#505050" style="stroke:#505050;stroke-width:0.12px" >4</text><rect x="416.10" y="209.0" width="46.70" height="39.30" fill="none" stroke="#a8666c" stroke-width="1.15"/><text x="462.00" y="213.10" font-size="4.4" text-anchor="end" font-weight="normal" fill="#c09aa2" style="stroke:#c09aa2;stroke-width:0.12px" >1</text><rect x="464.50" y="209.0" width="45.80" height="39.30" fill="none" stroke="#e0dc9e" stroke-width="1.15"/><text x="509.50" y="213.10" font-size="4.4" text-anchor="end" font-weight="normal" fill="#505050" style="stroke:#505050;stroke-width:0.12px" >2</text><line x1="410.8" y1="247.30" x2="412.8" y2="247.30" stroke="#777" stroke-width="0.8"/><text x="408.20" y="250.40" font-size="8.8" text-anchor="end" font-weight="normal" fill="#1a1a1a" style="stroke:#1a1a1a;stroke-width:0.22px" >0</text><line x1="410.8" y1="229.15" x2="412.8" y2="229.15" stroke="#777" stroke-width="0.8"/><text x="408.20" y="232.25" font-size="8.8" text-anchor="end" font-weight="normal" fill="#1a1a1a" style="stroke:#1a1a1a;stroke-width:0.22px" >0.5</text><line x1="410.8" y1="211.00" x2="412.8" y2="211.00" stroke="#777" stroke-width="0.8"/><text x="408.20" y="214.10" font-size="8.8" text-anchor="end" font-weight="normal" fill="#1a1a1a" style="stroke:#1a1a1a;stroke-width:0.22px" >1.0</text><line x1="410.8" y1="192.85" x2="412.8" y2="192.85" stroke="#777" stroke-width="0.8"/><text x="408.20" y="195.95" font-size="8.8" text-anchor="end" font-weight="normal" fill="#1a1a1a" style="stroke:#1a1a1a;stroke-width:0.22px" >1.5</text><line x1="410.8" y1="174.70" x2="412.8" y2="174.70" stroke="#777" stroke-width="0.8"/><text x="408.20" y="177.80" font-size="8.8" text-anchor="end" font-weight="normal" fill="#1a1a1a" style="stroke:#1a1a1a;stroke-width:0.22px" >2.0</text><line x1="416.10" y1="253.1" x2="416.10" y2="251.1" stroke="#777" stroke-width="0.8"/><text x="416.10" y="263.00" font-size="8.8" text-anchor="middle" font-weight="normal" fill="#1a1a1a" style="stroke:#1a1a1a;stroke-width:0.22px" >0</text><line x1="435.30" y1="253.1" x2="435.30" y2="251.1" stroke="#777" stroke-width="0.8"/><text x="435.30" y="263.00" font-size="8.8" text-anchor="middle" font-weight="normal" fill="#1a1a1a" style="stroke:#1a1a1a;stroke-width:0.22px" >20</text><line x1="454.50" y1="253.1" x2="454.50" y2="251.1" stroke="#777" stroke-width="0.8"/><text x="454.50" y="263.00" font-size="8.8" text-anchor="middle" font-weight="normal" fill="#1a1a1a" style="stroke:#1a1a1a;stroke-width:0.22px" >40</text><line x1="473.70" y1="253.1" x2="473.70" y2="251.1" stroke="#777" stroke-width="0.8"/><text x="473.70" y="263.00" font-size="8.8" text-anchor="middle" font-weight="normal" fill="#1a1a1a" style="stroke:#1a1a1a;stroke-width:0.22px" >60</text><line x1="492.90" y1="253.1" x2="492.90" y2="251.1" stroke="#777" stroke-width="0.8"/><text x="492.90" y="263.00" font-size="8.8" text-anchor="middle" font-weight="normal" fill="#1a1a1a" style="stroke:#1a1a1a;stroke-width:0.22px" >80</text><line x1="512.10" y1="253.1" x2="512.10" y2="251.1" stroke="#777" stroke-width="0.8"/><text x="512.10" y="263.00" font-size="8.8" text-anchor="middle" font-weight="normal" fill="#1a1a1a" style="stroke:#1a1a1a;stroke-width:0.22px" >100</text><text x="273.60" y="276.10" font-size="8.9" text-anchor="middle" font-weight="normal" fill="#1a1a1a" style="stroke:#1a1a1a;stroke-width:0.22px" >hTRB Diversity (%)</text><text x="0" y="0" font-size="9.2" text-anchor="middle" fill="#1a1a1a" style="stroke:#1a1a1a;stroke-width:0.22px" transform="translate(10.4,208.5) rotate(-90)">CD3+ (10<tspan font-size="6" dy="-3">3</tspan><tspan dy="3"> cell/µl)</tspan></text><polygon points="53.00,240.34 57.00,240.34 55.00,236.86" fill="#5b4a8e"/><rect x="72.70" y="231.00" width="3.2" height="3.2" fill="#5a5a50"/><rect x="79.80" y="227.90" width="3.2" height="3.2" fill="#3b3c86"/><polygon points="68.80,246.24 72.80,246.24 70.80,242.76" fill="#b2404e"/><rect x="62.30" y="241.80" width="2.8" height="2.8" fill="#a9c9bf"/><circle cx="59.8" cy="245.3" r="1.7" fill="#88ad68"/><circle cx="56.3" cy="247.3" r="1.7" fill="#e2d57a"/><circle cx="88.4" cy="239.4" r="2.1" fill="#111"/><circle cx="91.6" cy="245.8" r="1.9" fill="#b2c4dc"/><rect x="176.00" y="226.00" width="3.2" height="3.2" fill="#3b3c86"/><polygon points="192.10,240.34 196.10,240.34 194.10,236.86" fill="#5b4a8e"/><polygon points="194.80,243.94 198.80,243.94 196.80,240.46" fill="#9d86a8"/><circle cx="179.6" cy="246.8" r="1.8" fill="#e27a4a"/><circle cx="177.4" cy="246.2" r="1.8" fill="#c43a2a"/><circle cx="165.3" cy="245.8" r="1.7" fill="#b9ad7a"/><rect x="210.80" y="232.00" width="2.6" height="2.6" fill="#6e6c3e"/><circle cx="215.5" cy="239.5" r="2.1" fill="#111"/><circle cx="214.7" cy="244.2" r="1.9" fill="#b2c4dc"/><polygon points="293.80,234.14 297.80,234.14 295.80,230.66" fill="#5b4a8e"/><polygon points="316.30,233.04 320.30,233.04 318.30,229.56" fill="#8e3046"/><circle cx="327.3" cy="232.4" r="1.8" fill="#c8c8cc"/><circle cx="336.1" cy="232.6" r="1.8" fill="#8a7a52"/><circle cx="308" cy="238.3" r="2.2" fill="#b82030"/><circle cx="305.6" cy="244.7" r="1.8" fill="#80ab66"/><circle cx="329.3" cy="241.5" r="1.9" fill="#e2d26a"/><circle cx="338.8" cy="241.6" r="1.8" fill="#b8c6d2"/><rect x="335.85" y="220.85" width="1.9" height="1.9" fill="#504458"/><rect x="337.85" y="220.85" width="1.9" height="1.9" fill="#504458"/><circle cx="337.5" cy="216.6" r="1.0" fill="#e8e090"/><circle cx="348" cy="234.6" r="2.1" fill="#111"/><circle cx="427.5" cy="223" r="2.2" fill="#b82030"/><polygon points="453.80,234.64 457.80,234.64 455.80,231.16" fill="#8a78a8"/><circle cx="449.5" cy="235.9" r="1.8" fill="#d0c4cc"/><polygon points="452.50,241.64 456.50,241.64 454.50,238.16" fill="#4a3e7a"/><polygon points="457.70,241.64 461.70,241.64 459.70,238.16" fill="#8e1e30"/><circle cx="455.4" cy="242.5" r="1.8" fill="#4a8a7a"/><circle cx="447.9" cy="244.5" r="1.9" fill="#d8cf80"/><circle cx="466.8" cy="225.8" r="1.9" fill="#3b3c86"/><circle cx="467.8" cy="243.4" r="1.9" fill="#b2c4dc"/><circle cx="480.3" cy="236.3" r="2.1" fill="#111"/><circle cx="481.7" cy="242.8" r="1.9" fill="#8db070"/><text x="5.30" y="292.80" font-size="11" text-anchor="start" font-weight="bold" fill="#111" style="stroke:#111;stroke-width:0.22px" >C</text><text x="84.80" y="377.60" font-size="8.8" text-anchor="middle" font-weight="normal" fill="#1a1a1a" style="stroke:#1a1a1a;stroke-width:0.22px" >Pre</text><text x="212.30" y="377.60" font-size="8.8" text-anchor="middle" font-weight="normal" fill="#1a1a1a" style="stroke:#1a1a1a;stroke-width:0.22px" >D0</text><text x="337.90" y="377.60" font-size="8.8" text-anchor="middle" font-weight="normal" fill="#1a1a1a" style="stroke:#1a1a1a;stroke-width:0.22px" >Week 4</text><text x="465.90" y="377.60" font-size="8.8" text-anchor="middle" font-weight="normal" fill="#1a1a1a" style="stroke:#1a1a1a;stroke-width:0.22px" >Week 10-12</text></svg></body></html>
